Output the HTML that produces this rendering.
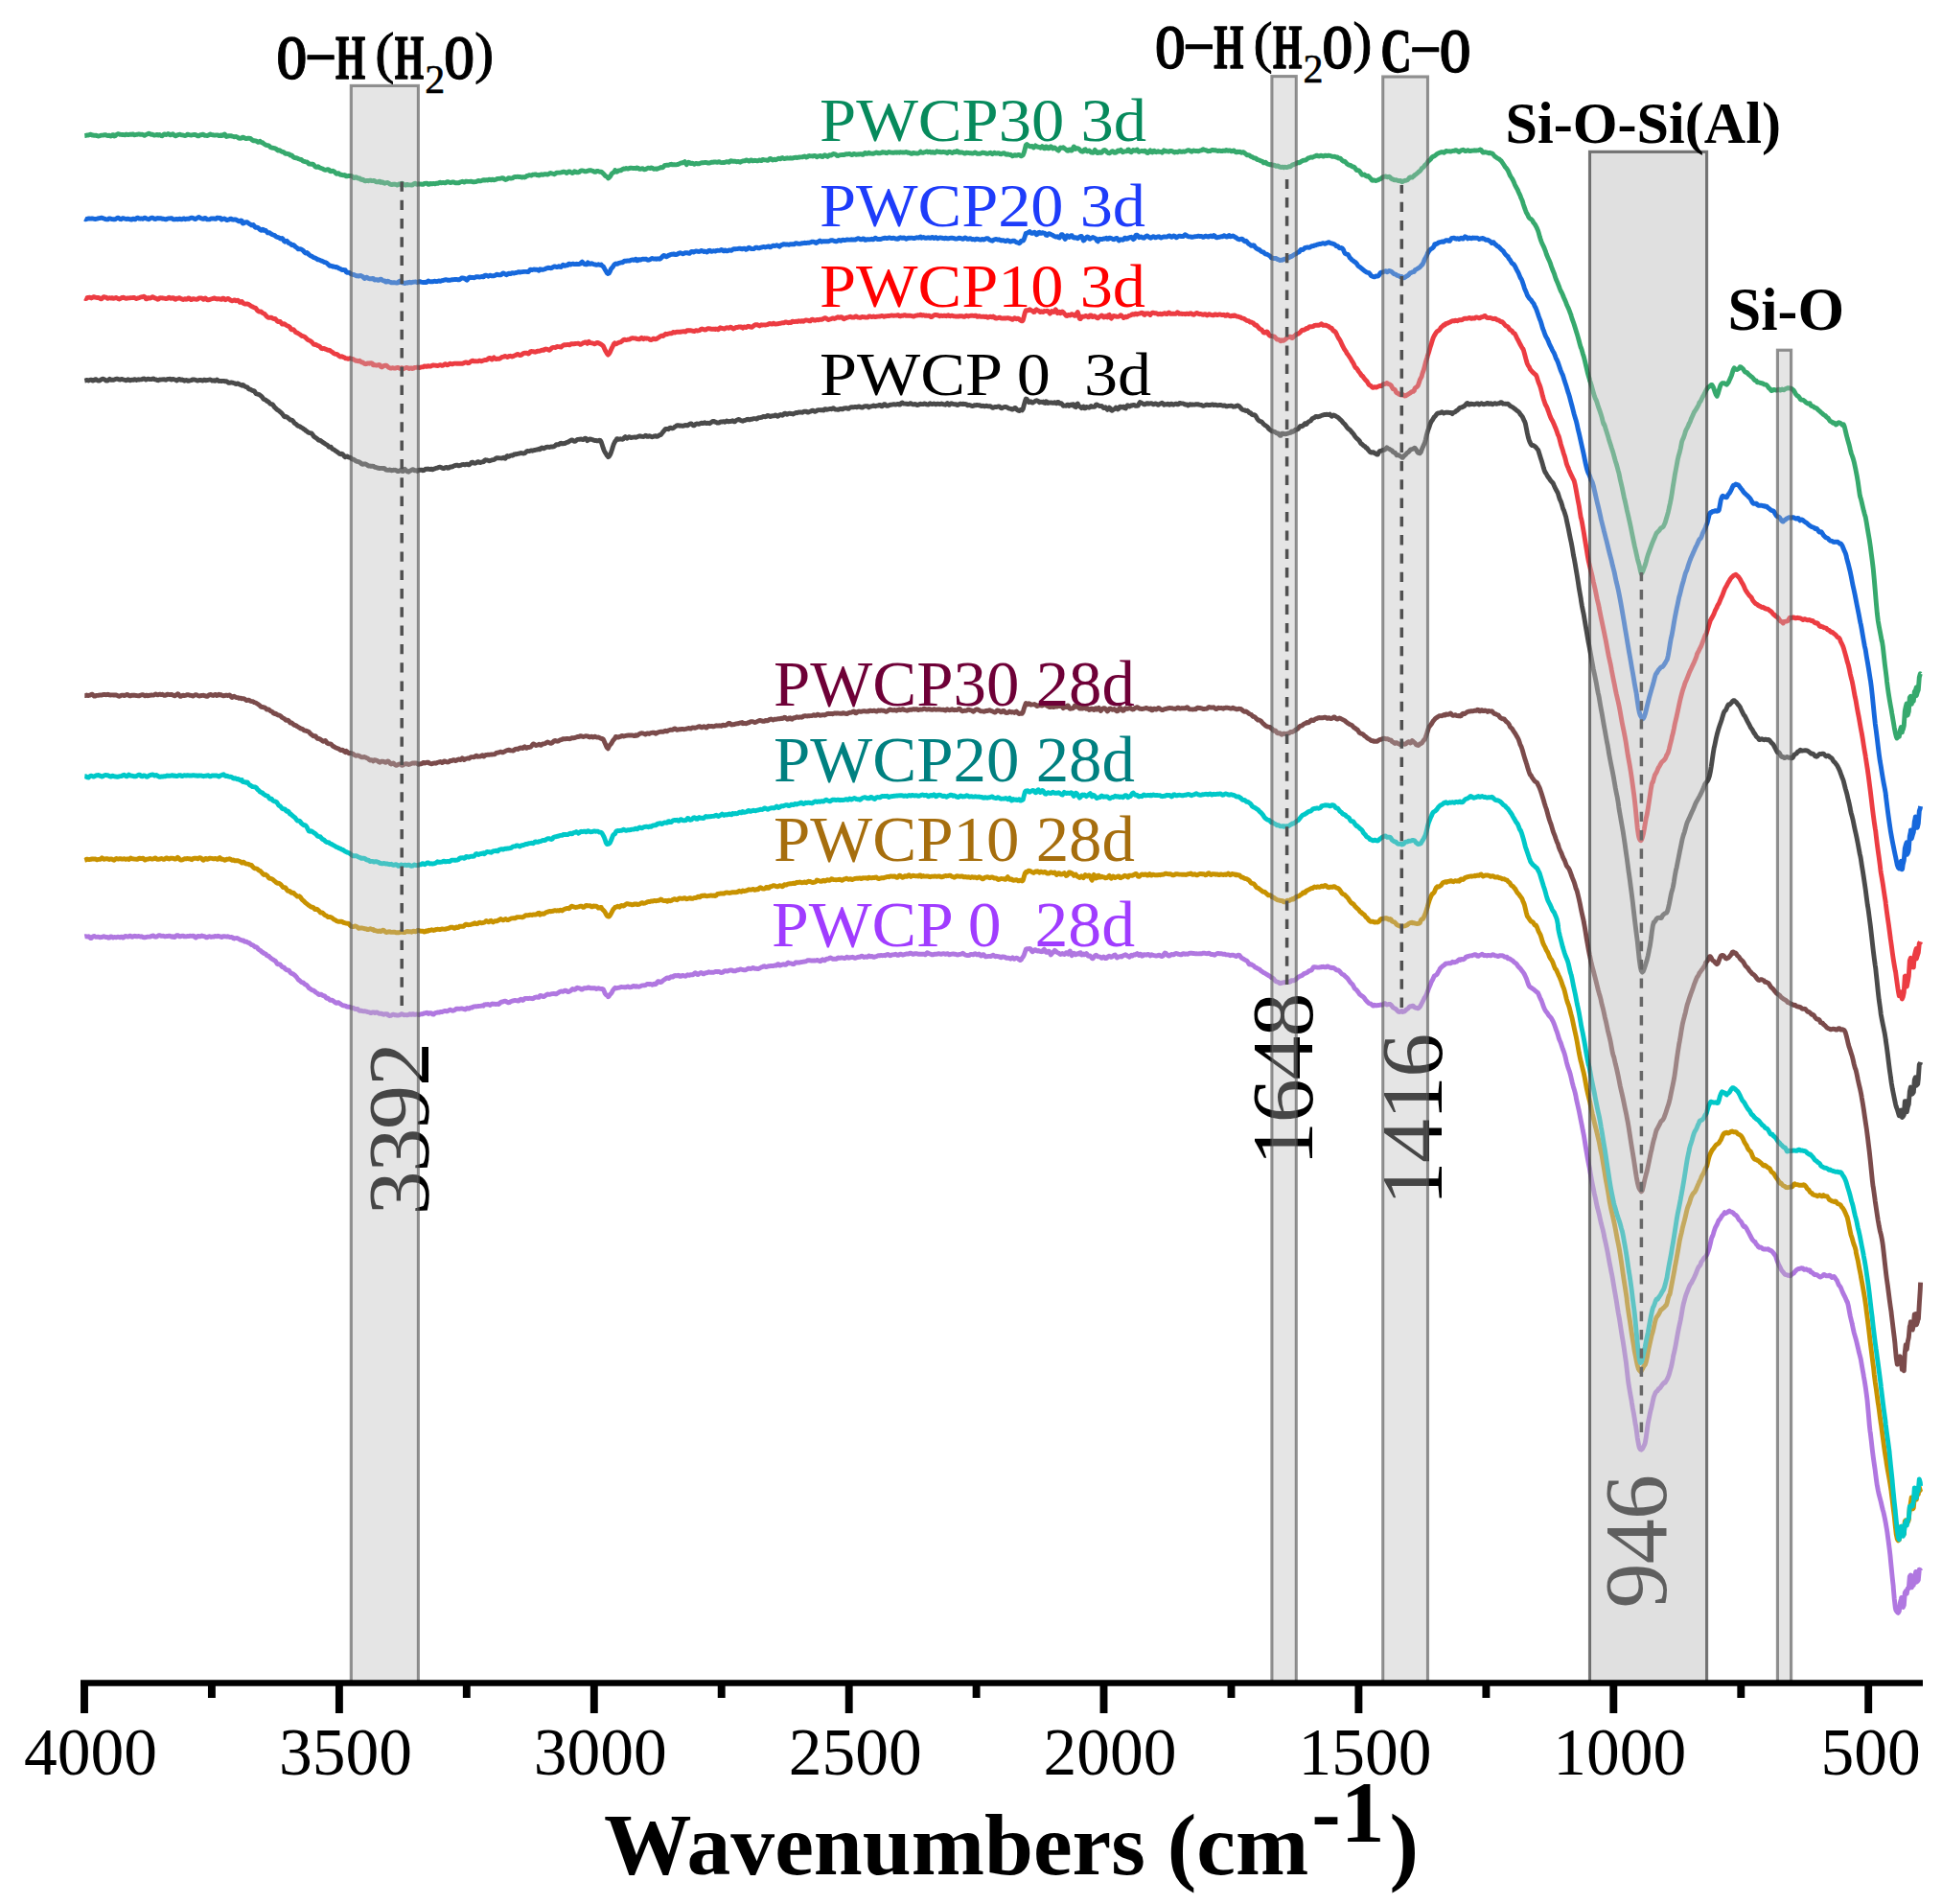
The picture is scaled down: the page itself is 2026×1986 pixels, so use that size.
<!DOCTYPE html>
<html><head><meta charset="utf-8"><title>FTIR spectra</title>
<style>html,body{margin:0;padding:0;background:#fff}svg{display:block}</style></head>
<body>
<svg width="2026" height="1986" viewBox="0 0 2026 1986">
<rect width="2026" height="1986" fill="#fff"/>
<g fill="none" stroke-width="4.9" stroke-linejoin="round" stroke-linecap="butt">
<path stroke="#4a4a4a" d="M88.3 397.1 L89.3 396.9 L90.3 396.4 L91.3 396.7 L92.3 397.0 L93.3 396.6 L94.3 396.1 L95.3 396.1 L96.3 396.8 L97.3 397.1 L98.3 396.4 L99.3 395.6 L100.3 395.7 L101.3 396.6 L102.3 397.0 L103.3 397.0 L104.3 396.8 L105.3 396.1 L106.3 395.4 L107.3 395.3 L108.3 395.4 L109.3 396.1 L110.3 396.8 L111.3 397.1 L112.3 397.1 L113.3 396.1 L114.3 395.3 L115.3 396.0 L116.3 396.4 L117.3 396.2 L118.3 396.3 L119.3 396.0 L120.3 395.6 L121.3 395.2 L122.3 395.2 L123.3 395.5 L124.3 395.9 L125.3 396.1 L126.3 395.6 L127.3 395.4 L128.3 395.9 L129.3 396.1 L130.3 396.3 L131.3 396.7 L132.3 396.6 L133.3 395.8 L134.3 396.0 L135.3 396.7 L136.3 396.7 L137.3 396.1 L138.3 396.3 L139.3 396.3 L140.3 395.7 L141.3 395.9 L142.3 396.5 L143.3 396.1 L144.3 395.8 L145.3 396.0 L146.3 395.9 L147.3 395.9 L148.3 395.5 L149.3 395.1 L150.3 395.0 L151.3 395.5 L152.3 396.1 L153.3 395.6 L154.3 395.1 L155.3 395.3 L156.3 395.6 L157.3 395.6 L158.3 395.5 L159.3 395.1 L160.3 395.0 L161.3 395.7 L162.3 396.0 L163.3 396.0 L164.3 396.6 L165.3 396.7 L165.8 396.3 L166.3 396.0 L167.3 396.1 L168.3 395.9 L169.3 395.9 L170.3 395.8 L171.3 395.6 L172.3 396.1 L173.3 396.2 L174.3 395.6 L175.3 395.4 L176.3 395.4 L177.3 395.3 L178.3 395.8 L179.3 396.0 L180.3 395.4 L181.3 395.7 L182.3 395.9 L183.3 396.3 L184.3 397.0 L185.3 396.6 L186.3 395.6 L187.3 395.4 L188.3 396.2 L189.3 396.2 L190.3 396.0 L191.3 396.6 L192.3 397.2 L193.3 396.9 L194.3 396.4 L195.3 396.8 L196.3 397.4 L197.3 397.1 L198.3 396.9 L199.3 396.7 L200.3 396.2 L201.3 395.9 L202.3 396.0 L203.3 396.2 L204.3 396.4 L205.3 396.9 L206.3 397.1 L207.3 396.6 L208.3 396.4 L209.3 396.5 L210.3 396.7 L211.3 397.1 L212.3 396.5 L213.3 396.1 L214.3 396.8 L215.3 396.7 L216.3 396.5 L217.3 396.4 L218.3 396.2 L219.3 396.0 L220.3 396.3 L221.3 397.1 L222.3 396.9 L223.3 396.8 L224.3 397.3 L225.3 396.8 L226.3 396.1 L227.3 396.8 L228.3 397.5 L229.3 397.4 L230.3 397.4 L230.7 397.6 L231.3 397.5 L232.3 397.4 L233.3 397.4 L234.3 397.7 L235.3 397.7 L236.3 397.6 L237.3 398.4 L238.3 399.3 L239.3 399.4 L240.3 399.1 L241.3 398.9 L242.3 399.1 L243.3 399.4 L244.3 399.6 L245.3 400.2 L246.3 400.6 L247.3 400.2 L248.3 399.9 L249.3 400.6 L250.3 401.2 L251.3 401.6 L252.3 402.1 L252.3 401.7 L253.3 401.5 L254.3 402.0 L255.3 402.9 L256.3 403.5 L257.3 403.6 L258.3 404.2 L259.3 405.5 L260.3 406.0 L261.3 406.1 L262.3 406.9 L263.3 407.5 L264.3 407.5 L265.3 407.8 L266.3 409.4 L267.3 410.7 L268.3 411.1 L269.3 411.2 L270.3 411.6 L271.3 412.3 L272.3 413.0 L273.3 413.9 L274.0 414.8 L274.3 415.4 L275.3 416.4 L276.3 416.8 L277.3 417.2 L278.3 418.2 L279.3 418.7 L280.3 419.3 L281.3 420.5 L282.3 421.4 L283.3 421.6 L284.3 421.9 L285.3 423.1 L286.3 424.6 L287.3 425.5 L288.3 426.6 L289.3 427.6 L290.3 428.0 L291.3 428.7 L292.3 429.6 L293.3 430.5 L294.3 431.5 L295.3 432.7 L296.3 434.3 L297.3 434.8 L298.3 434.5 L299.3 434.9 L300.3 435.8 L301.3 436.6 L302.3 437.4 L302.8 438.0 L303.3 437.9 L304.3 438.1 L305.3 438.8 L306.3 440.1 L307.3 441.4 L308.3 442.0 L309.3 442.7 L310.3 443.8 L311.3 444.4 L312.3 444.6 L313.3 445.2 L314.3 445.9 L315.3 446.4 L316.3 447.2 L317.3 447.8 L318.3 448.4 L319.3 449.4 L320.3 450.0 L321.3 450.8 L322.3 451.4 L323.3 451.6 L324.3 451.8 L325.3 452.3 L326.3 453.5 L327.3 455.1 L328.3 456.1 L329.3 456.5 L330.3 457.2 L331.3 457.9 L331.7 458.4 L332.3 459.1 L333.3 459.3 L334.3 459.5 L335.3 460.3 L336.3 461.0 L337.3 461.7 L338.3 462.3 L339.3 463.0 L340.3 463.6 L341.3 464.1 L342.3 465.2 L343.3 466.3 L344.3 466.2 L345.3 466.3 L346.3 467.8 L347.3 468.7 L348.3 468.9 L349.3 469.7 L350.3 470.4 L351.3 471.0 L352.3 471.8 L353.3 472.5 L354.3 473.4 L355.3 473.7 L356.3 473.3 L357.3 473.6 L358.3 474.7 L359.3 476.0 L360.3 476.8 L360.5 476.6 L361.3 476.1 L362.3 476.0 L363.3 476.8 L364.3 477.0 L365.3 477.1 L366.3 478.0 L367.3 478.8 L368.3 479.1 L369.3 479.4 L370.3 480.1 L371.3 481.0 L372.3 481.3 L373.3 481.4 L374.3 481.8 L375.3 482.3 L376.3 482.9 L377.3 483.9 L378.3 484.3 L379.3 484.0 L380.3 483.9 L381.3 484.0 L382.3 484.4 L383.3 485.3 L384.3 486.0 L385.3 485.9 L386.3 486.2 L387.3 486.2 L388.3 486.1 L389.3 486.2 L389.3 486.1 L390.3 486.8 L391.3 487.4 L392.3 487.5 L393.3 487.8 L394.3 488.2 L395.3 488.3 L396.3 488.5 L397.3 488.4 L398.3 488.4 L399.3 488.6 L400.3 488.5 L401.3 488.7 L402.3 489.7 L403.3 490.2 L404.3 490.4 L405.3 490.4 L406.3 490.0 L407.3 490.1 L408.3 490.8 L409.3 490.6 L410.3 490.3 L411.3 490.4 L412.3 490.3 L413.3 490.6 L414.3 491.3 L415.3 491.6 L416.3 491.3 L417.3 490.8 L418.3 490.7 L419.3 491.0 L419.3 491.3 L420.3 491.6 L421.3 490.4 L422.3 489.3 L423.3 490.2 L424.3 491.3 L425.3 491.9 L426.3 492.2 L427.3 491.4 L428.3 490.8 L429.3 490.4 L430.3 489.6 L431.3 489.9 L432.3 490.8 L433.3 490.8 L434.3 490.8 L435.3 491.3 L436.3 490.7 L437.3 490.1 L438.3 490.3 L439.3 490.1 L440.3 490.2 L441.3 490.7 L442.3 490.5 L443.3 489.8 L444.3 489.1 L445.3 489.1 L446.3 489.4 L447.0 489.1 L447.3 489.2 L448.3 489.6 L449.3 489.3 L450.3 489.3 L451.3 489.8 L452.3 489.3 L453.3 488.9 L454.3 488.6 L455.3 488.2 L456.3 488.1 L457.3 487.6 L458.3 487.2 L459.3 487.3 L460.3 487.6 L461.3 488.2 L462.3 488.6 L463.3 488.5 L464.3 487.8 L465.3 487.4 L466.3 487.7 L467.3 488.2 L468.3 488.0 L469.3 487.2 L470.3 486.9 L471.3 487.1 L472.3 486.7 L473.3 486.0 L474.3 485.7 L475.3 485.5 L476.3 485.2 L477.3 485.3 L478.3 485.7 L479.3 485.7 L480.3 485.4 L481.3 485.0 L482.3 484.6 L483.3 484.5 L484.3 484.7 L485.3 484.7 L486.3 484.3 L487.3 484.1 L488.3 484.8 L489.3 484.8 L490.3 484.0 L491.3 483.1 L492.3 482.1 L493.3 482.2 L494.3 483.0 L495.3 483.2 L496.3 483.1 L497.3 482.4 L498.3 481.6 L499.3 481.7 L500.3 482.4 L501.3 482.5 L502.3 482.1 L503.3 481.7 L504.3 481.7 L504.7 481.6 L505.3 480.5 L506.3 479.8 L507.3 479.9 L508.3 480.0 L509.3 480.3 L510.3 480.7 L511.3 480.6 L512.3 480.2 L513.3 479.8 L514.3 479.6 L515.3 479.6 L516.3 478.9 L517.3 478.0 L518.3 477.7 L519.3 477.6 L520.3 477.9 L521.3 477.9 L522.3 477.9 L523.3 478.0 L524.3 477.7 L525.3 477.3 L526.3 478.1 L527.3 478.2 L528.3 476.2 L529.3 475.5 L530.3 476.3 L531.3 476.1 L532.3 475.3 L533.3 475.0 L534.3 475.2 L535.3 474.9 L536.3 474.0 L537.3 473.8 L538.3 473.8 L539.3 473.5 L540.3 473.4 L541.3 473.2 L542.3 472.8 L543.3 472.5 L544.3 472.6 L545.3 472.9 L546.3 473.0 L547.3 472.7 L548.3 472.0 L549.3 471.0 L550.3 470.5 L551.3 470.6 L552.3 470.6 L553.3 470.2 L554.3 470.0 L555.3 470.2 L556.3 469.9 L557.3 469.5 L558.3 469.5 L559.3 469.2 L560.3 469.0 L561.3 468.7 L562.3 468.3 L562.4 468.7 L563.3 468.8 L564.3 467.7 L565.3 466.9 L566.3 467.4 L567.3 467.8 L568.3 467.3 L569.3 466.8 L570.3 466.3 L571.3 466.1 L572.3 466.4 L573.3 466.5 L574.3 466.2 L575.3 465.9 L576.3 466.1 L577.3 465.9 L578.3 465.5 L579.3 464.8 L580.3 463.7 L581.3 463.7 L582.3 463.9 L583.3 463.5 L584.3 462.6 L585.3 462.2 L586.3 462.7 L587.3 462.8 L588.3 462.5 L589.3 462.5 L590.3 462.0 L591.3 461.4 L592.3 461.3 L593.3 460.8 L594.3 460.1 L595.3 459.4 L596.3 458.9 L597.3 459.2 L598.3 459.8 L599.3 460.4 L600.3 460.1 L601.3 459.2 L602.3 458.5 L603.3 458.4 L604.3 458.3 L605.3 458.2 L606.3 458.0 L607.3 458.4 L608.3 458.6 L609.3 458.0 L610.3 457.2 L611.3 457.4 L612.3 458.8 L612.8 459.7 L613.3 459.3 L614.3 458.4 L615.3 457.9 L616.3 458.1 L617.3 458.4 L618.3 458.6 L619.3 459.2 L620.3 459.5 L621.3 459.4 L622.3 459.7 L623.3 459.7 L624.3 459.6 L625.3 459.7 L625.5 459.3 L626.3 459.5 L627.3 461.3 L628.3 464.2 L629.3 467.4 L630.3 470.1 L631.3 471.9 L632.3 473.5 L633.3 475.1 L634.3 476.2 L634.5 476.6 L635.3 476.1 L636.3 474.6 L637.3 472.5 L638.3 469.5 L639.3 466.2 L640.3 463.3 L641.3 461.2 L642.3 459.7 L643.3 458.4 L643.5 457.7 L644.3 457.8 L645.3 458.3 L646.3 458.1 L647.3 457.8 L648.3 458.1 L649.3 458.2 L650.3 457.7 L651.3 456.4 L652.3 455.6 L653.3 456.5 L654.3 457.2 L655.3 456.3 L656.3 455.7 L657.3 456.0 L658.3 456.5 L659.3 456.3 L660.3 456.1 L661.3 456.1 L662.3 455.9 L663.3 456.1 L663.3 456.4 L664.3 455.9 L665.3 455.5 L666.3 455.2 L667.3 454.8 L668.3 455.0 L669.3 455.3 L670.3 455.4 L671.3 455.5 L672.3 455.2 L673.3 454.3 L674.3 454.5 L675.3 455.4 L676.3 455.3 L677.3 454.8 L678.3 454.9 L679.3 455.4 L680.3 455.8 L681.3 455.4 L682.3 455.0 L683.3 454.8 L684.3 454.7 L684.9 455.0 L685.3 455.4 L686.3 455.2 L687.3 454.3 L688.3 453.7 L689.3 453.5 L690.3 452.5 L691.3 451.0 L692.3 449.9 L693.3 448.6 L694.3 447.5 L695.3 447.5 L696.3 447.4 L697.3 447.5 L697.3 447.7 L698.3 446.7 L699.3 446.1 L700.3 446.5 L701.3 446.8 L702.3 446.6 L703.3 445.8 L704.3 445.1 L705.3 444.4 L706.3 443.6 L707.3 443.6 L708.3 444.0 L709.3 444.2 L710.3 444.0 L711.3 444.1 L712.3 444.4 L713.3 444.2 L714.3 443.6 L715.3 443.4 L716.3 443.8 L717.3 443.8 L718.3 443.2 L719.3 442.4 L720.3 441.9 L721.3 442.0 L722.3 442.8 L723.3 443.9 L724.3 443.8 L725.3 442.8 L726.3 442.1 L727.3 441.9 L728.3 442.3 L729.3 442.4 L730.3 441.9 L731.3 441.3 L732.3 441.3 L733.3 441.6 L734.3 441.1 L735.3 440.7 L736.3 441.4 L737.3 441.6 L738.3 441.2 L739.3 441.5 L740.3 441.7 L741.3 441.0 L742.3 440.3 L743.3 439.7 L744.3 439.4 L745.3 439.7 L746.3 440.2 L747.3 440.5 L748.3 441.0 L749.3 441.1 L750.3 440.8 L751.3 440.2 L752.3 440.0 L753.3 440.1 L754.3 439.7 L755.3 439.7 L756.3 440.2 L757.3 439.5 L758.3 438.9 L759.3 439.6 L760.3 439.8 L761.3 439.4 L762.3 439.5 L763.3 439.2 L764.3 438.8 L765.3 439.5 L766.3 439.9 L767.3 439.2 L768.3 438.4 L769.3 437.9 L770.3 437.5 L771.3 437.7 L772.3 438.3 L773.3 438.7 L774.3 439.1 L774.8 439.2 L775.3 439.0 L776.3 438.6 L777.3 438.3 L778.3 438.0 L779.3 437.5 L780.3 437.3 L781.3 437.7 L782.3 437.7 L783.3 437.3 L784.3 437.3 L785.3 437.0 L786.3 436.6 L787.3 436.6 L788.3 436.6 L789.3 437.1 L790.3 436.6 L791.3 435.6 L792.3 435.6 L793.3 435.6 L794.3 435.4 L795.3 435.0 L796.3 434.4 L797.3 434.4 L798.3 434.8 L799.3 434.4 L800.3 433.7 L801.3 433.4 L802.3 433.8 L803.3 434.5 L804.3 434.4 L805.3 433.8 L806.3 433.9 L807.3 433.9 L808.3 433.1 L809.3 432.9 L810.3 433.7 L811.3 434.2 L812.3 433.7 L813.3 432.8 L814.3 432.5 L815.3 432.9 L816.3 433.3 L817.3 432.6 L818.3 431.3 L819.3 431.1 L820.3 432.0 L821.3 432.3 L822.3 431.6 L823.3 431.2 L824.3 431.3 L825.3 431.5 L826.3 431.7 L827.3 432.0 L828.3 431.6 L829.3 430.9 L830.3 430.5 L831.3 430.7 L832.3 430.4 L833.3 429.9 L834.3 430.1 L835.3 430.0 L836.3 430.1 L837.3 430.2 L838.3 429.4 L839.3 429.2 L840.3 429.2 L841.3 429.2 L842.3 430.0 L843.3 430.1 L844.3 429.6 L845.3 429.2 L846.3 428.7 L847.3 428.2 L848.3 428.3 L849.3 429.0 L850.3 429.3 L851.3 428.8 L852.3 428.5 L852.3 428.1 L853.3 427.7 L854.3 427.6 L855.3 427.6 L856.3 427.8 L857.3 427.6 L858.3 427.9 L859.3 428.0 L860.3 426.9 L861.3 426.6 L862.3 427.3 L863.3 427.1 L864.3 426.9 L865.3 426.7 L866.3 426.5 L867.3 426.7 L868.3 426.2 L869.3 425.7 L870.3 426.3 L871.3 427.0 L872.3 427.1 L873.3 427.1 L874.3 427.4 L875.3 427.1 L876.3 426.4 L877.3 426.5 L878.3 426.8 L879.3 426.7 L880.3 426.0 L881.3 425.8 L882.3 425.6 L883.3 425.6 L884.3 426.3 L885.3 426.4 L886.3 425.5 L887.3 424.9 L888.3 424.7 L889.3 424.6 L890.3 424.9 L891.3 424.7 L892.3 424.4 L893.3 424.7 L894.3 424.7 L895.3 424.1 L896.3 423.9 L897.3 424.3 L898.3 424.9 L899.3 425.1 L900.3 424.8 L901.3 424.1 L902.3 423.7 L903.3 423.7 L904.3 423.7 L905.3 423.8 L906.3 424.5 L906.4 424.9 L907.3 424.4 L908.3 423.9 L909.3 423.9 L910.3 423.4 L911.3 423.0 L912.3 423.5 L913.3 423.7 L914.3 423.3 L915.3 423.1 L916.3 423.0 L917.3 422.4 L918.3 422.4 L919.3 423.6 L920.3 423.8 L921.3 422.8 L922.3 421.8 L923.3 421.7 L924.3 422.8 L925.3 423.4 L926.3 423.4 L927.3 422.9 L928.3 422.2 L929.3 422.2 L930.3 422.1 L931.3 421.9 L932.3 421.8 L933.3 421.8 L934.3 422.0 L935.3 421.9 L936.3 421.4 L937.3 421.5 L938.3 422.1 L939.3 421.8 L940.3 420.5 L941.3 420.0 L942.3 420.8 L943.3 421.1 L944.3 421.1 L945.3 421.2 L946.3 421.3 L947.3 421.6 L948.3 421.4 L949.3 420.8 L950.3 420.7 L951.3 421.4 L952.3 421.9 L953.3 421.9 L954.3 421.5 L955.3 421.6 L956.3 422.3 L957.3 422.5 L958.3 422.2 L959.3 421.6 L960.3 421.2 L960.5 421.3 L961.3 421.6 L962.3 421.6 L963.3 421.5 L964.3 421.0 L965.3 421.1 L966.3 421.8 L967.3 421.9 L968.3 422.1 L969.3 421.5 L970.3 420.8 L971.3 421.2 L972.3 421.6 L973.3 421.4 L974.3 421.0 L975.3 421.3 L976.3 421.8 L977.3 421.5 L978.3 421.2 L979.3 421.4 L980.3 421.7 L981.3 421.4 L982.3 421.0 L983.3 421.4 L984.3 421.8 L985.3 421.9 L986.3 422.2 L987.3 421.4 L988.3 420.5 L989.3 421.5 L990.3 422.3 L991.3 421.5 L992.3 420.8 L993.3 421.0 L994.3 421.4 L995.3 421.6 L996.3 421.7 L997.3 421.8 L998.3 422.3 L999.3 422.5 L1000.3 421.9 L1001.3 421.3 L1002.3 421.2 L1003.3 421.5 L1004.3 421.3 L1005.3 421.3 L1006.3 421.6 L1007.3 421.4 L1008.3 421.8 L1009.3 422.8 L1010.3 422.6 L1011.3 422.4 L1012.3 422.8 L1013.3 423.2 L1014.3 423.6 L1015.3 423.4 L1016.3 422.8 L1017.3 422.7 L1018.3 422.7 L1019.3 422.4 L1020.3 422.6 L1021.3 422.7 L1022.3 422.7 L1023.3 423.4 L1024.3 423.6 L1025.3 423.2 L1026.3 423.6 L1027.3 423.8 L1028.3 423.4 L1029.3 423.3 L1030.3 423.6 L1031.3 423.8 L1032.3 423.8 L1033.3 423.7 L1034.3 424.4 L1035.3 425.3 L1036.3 425.3 L1037.3 424.6 L1038.3 424.4 L1039.3 424.5 L1040.3 424.3 L1041.3 424.0 L1042.3 423.9 L1043.3 424.5 L1044.3 425.6 L1045.3 425.8 L1046.3 425.1 L1047.3 424.6 L1048.3 424.5 L1049.3 424.5 L1050.3 424.6 L1051.3 425.4 L1052.3 426.0 L1053.3 426.1 L1054.3 426.3 L1055.3 426.8 L1056.3 427.1 L1057.3 426.6 L1058.3 425.7 L1059.3 425.5 L1060.3 426.5 L1061.3 427.6 L1062.3 428.2 L1063.3 428.6 L1064.3 427.8 L1065.3 427.3 L1066.3 427.9 L1067.3 426.4 L1068.3 422.4 L1069.3 418.9 L1070.3 416.0 L1071.3 416.3 L1072.3 418.2 L1073.3 419.6 L1074.3 419.0 L1075.3 418.8 L1076.3 419.9 L1077.3 420.1 L1078.3 419.5 L1079.3 418.9 L1080.3 418.1 L1081.3 417.8 L1082.3 417.9 L1083.3 418.6 L1084.3 419.7 L1085.3 419.2 L1086.3 419.2 L1087.3 419.6 L1088.3 419.0 L1089.3 420.1 L1090.3 420.4 L1091.3 418.8 L1092.3 419.3 L1093.3 420.5 L1094.3 420.2 L1095.3 420.0 L1096.3 419.9 L1097.3 420.0 L1098.3 420.4 L1099.3 420.3 L1100.3 419.7 L1101.3 420.2 L1102.3 420.7 L1103.3 419.5 L1104.3 419.5 L1105.3 420.8 L1106.3 421.0 L1107.3 420.7 L1108.3 421.9 L1109.3 423.3 L1110.3 423.1 L1111.3 423.1 L1112.3 423.3 L1113.3 422.2 L1114.3 422.3 L1115.3 423.3 L1116.3 422.3 L1117.3 422.0 L1118.3 422.8 L1119.3 421.7 L1120.3 421.9 L1121.3 424.2 L1122.3 424.6 L1123.3 422.0 L1124.3 421.0 L1125.3 423.0 L1126.3 424.1 L1127.3 424.5 L1128.3 425.6 L1129.3 424.8 L1130.3 424.1 L1131.3 425.9 L1132.3 425.9 L1133.3 424.5 L1134.3 424.7 L1135.3 425.0 L1136.3 425.2 L1137.3 424.6 L1138.3 423.5 L1139.3 424.2 L1140.3 424.4 L1141.3 424.4 L1142.3 424.0 L1143.3 422.2 L1144.3 422.0 L1145.3 422.7 L1146.3 423.0 L1147.3 423.6 L1148.3 423.6 L1149.3 423.5 L1150.3 424.3 L1151.3 425.6 L1152.3 425.6 L1153.3 424.8 L1154.3 425.9 L1155.3 427.3 L1156.3 426.5 L1157.3 425.2 L1158.3 426.0 L1159.3 428.0 L1160.3 428.3 L1161.3 427.3 L1162.3 426.8 L1163.3 426.4 L1164.3 425.1 L1165.3 425.6 L1166.3 426.9 L1167.3 425.9 L1168.3 424.2 L1169.3 424.3 L1170.3 424.9 L1171.3 424.3 L1172.3 424.1 L1173.3 425.7 L1174.3 426.0 L1175.3 424.1 L1176.3 422.8 L1176.8 422.9 L1177.3 423.3 L1178.3 424.0 L1179.3 423.5 L1180.3 422.8 L1181.3 423.0 L1182.3 422.4 L1183.3 422.4 L1184.3 423.3 L1185.3 423.1 L1186.3 423.2 L1187.3 423.1 L1188.3 421.1 L1189.3 419.5 L1190.3 419.9 L1191.3 420.5 L1192.3 421.1 L1193.3 421.7 L1194.3 421.8 L1195.3 421.5 L1196.3 420.6 L1197.3 420.7 L1198.3 421.2 L1199.3 421.0 L1200.0 420.9 L1200.3 420.7 L1201.3 420.7 L1202.3 421.2 L1203.3 421.8 L1204.3 421.5 L1205.3 420.9 L1206.3 421.1 L1207.3 422.0 L1208.3 422.3 L1209.3 421.7 L1210.3 421.1 L1211.3 420.8 L1212.3 420.3 L1213.3 421.0 L1214.3 422.2 L1215.3 421.7 L1216.3 421.6 L1217.3 421.7 L1218.3 421.2 L1219.3 421.7 L1220.3 422.2 L1221.3 421.3 L1222.3 421.1 L1223.3 422.0 L1224.3 422.2 L1225.3 421.6 L1226.3 421.1 L1227.3 421.2 L1228.3 421.7 L1229.3 421.7 L1230.3 420.7 L1231.3 420.4 L1232.3 420.9 L1233.3 420.9 L1234.3 420.9 L1235.3 421.4 L1236.3 422.1 L1237.3 421.9 L1238.3 422.0 L1239.3 422.9 L1240.3 422.5 L1241.3 421.7 L1242.3 422.0 L1243.3 422.2 L1244.3 422.0 L1245.3 422.1 L1246.3 422.0 L1247.3 421.8 L1248.3 421.7 L1249.3 421.6 L1250.3 422.0 L1251.3 422.2 L1252.3 422.4 L1253.3 422.5 L1254.3 423.0 L1255.3 423.3 L1256.3 423.1 L1257.3 422.7 L1258.3 422.2 L1259.3 422.2 L1260.3 422.5 L1261.3 422.5 L1262.3 422.5 L1263.3 422.3 L1264.3 421.9 L1265.3 422.0 L1266.3 422.5 L1267.3 422.4 L1268.3 422.1 L1269.3 422.6 L1270.3 422.8 L1271.3 422.6 L1272.3 422.5 L1273.3 422.5 L1274.3 422.7 L1275.3 423.1 L1276.3 423.2 L1277.3 423.0 L1278.3 423.2 L1279.3 423.7 L1280.3 423.8 L1281.3 423.4 L1282.3 423.4 L1283.3 423.4 L1284.3 423.2 L1285.3 423.4 L1286.3 423.8 L1286.7 424.2 L1287.3 424.1 L1288.3 424.0 L1289.3 423.8 L1290.3 423.1 L1291.3 423.0 L1292.3 423.4 L1293.3 424.3 L1294.3 425.4 L1295.3 426.6 L1296.3 427.4 L1297.3 427.6 L1298.3 427.8 L1299.3 428.3 L1300.3 428.5 L1301.3 428.3 L1302.3 429.1 L1303.3 430.5 L1304.3 430.4 L1305.0 430.9 L1305.3 431.7 L1306.3 432.4 L1307.3 432.8 L1308.3 432.7 L1309.3 433.0 L1310.3 434.3 L1311.3 436.2 L1312.3 437.8 L1313.3 438.7 L1314.3 439.3 L1315.3 439.7 L1316.3 440.0 L1317.3 441.2 L1318.3 442.4 L1319.3 443.2 L1320.3 443.9 L1321.3 444.5 L1322.3 445.4 L1323.3 446.4 L1323.4 446.9 L1324.3 447.8 L1325.3 448.6 L1326.3 449.3 L1327.3 449.8 L1328.3 450.0 L1329.3 450.1 L1330.3 450.6 L1331.3 451.5 L1332.3 451.9 L1333.3 452.0 L1334.3 453.1 L1335.3 454.3 L1336.3 454.2 L1336.6 453.2 L1337.3 452.1 L1338.3 452.1 L1339.3 452.5 L1340.3 452.7 L1341.3 452.7 L1342.3 452.5 L1343.3 452.2 L1344.3 451.8 L1345.3 451.4 L1346.3 451.4 L1347.1 451.0 L1347.3 450.0 L1348.3 450.0 L1349.3 450.3 L1350.3 449.4 L1351.3 448.2 L1352.3 448.1 L1353.3 448.0 L1354.3 447.4 L1355.3 446.1 L1356.3 444.7 L1357.3 444.5 L1358.3 444.7 L1359.3 444.1 L1360.3 443.0 L1361.3 441.8 L1362.3 441.7 L1362.8 442.5 L1363.3 442.0 L1364.3 440.6 L1365.3 439.8 L1366.3 439.4 L1367.3 438.9 L1368.3 437.6 L1369.3 436.4 L1370.3 436.0 L1371.3 435.6 L1372.3 434.7 L1373.3 434.4 L1374.3 434.7 L1375.3 434.7 L1376.3 434.4 L1377.3 434.1 L1378.3 433.6 L1379.3 433.1 L1380.3 433.0 L1381.3 432.7 L1382.3 432.4 L1383.3 432.5 L1383.8 432.3 L1384.3 432.2 L1385.3 432.6 L1386.3 432.6 L1387.3 432.1 L1388.3 433.3 L1389.3 434.3 L1390.3 433.5 L1391.3 433.0 L1392.3 433.3 L1393.3 433.9 L1394.3 434.5 L1394.3 434.5 L1395.3 435.1 L1396.3 435.8 L1397.3 436.8 L1398.3 437.8 L1399.3 438.5 L1400.3 439.8 L1401.3 441.1 L1402.3 441.9 L1403.3 443.0 L1404.3 444.3 L1405.3 445.8 L1406.3 447.1 L1407.3 447.7 L1408.3 448.5 L1409.3 449.5 L1410.1 450.5 L1410.3 450.9 L1411.3 451.8 L1412.3 453.2 L1413.3 454.7 L1414.3 456.0 L1415.3 457.2 L1416.3 458.0 L1417.3 458.9 L1418.3 460.0 L1419.3 461.9 L1420.3 462.9 L1421.3 463.6 L1422.3 464.7 L1423.3 465.3 L1424.3 465.9 L1425.3 467.2 L1425.8 467.4 L1426.3 467.6 L1427.3 469.1 L1428.3 470.3 L1429.3 471.4 L1430.3 472.1 L1431.3 472.0 L1432.3 471.7 L1433.3 471.9 L1433.7 472.6 L1434.3 472.9 L1435.3 473.0 L1436.3 474.1 L1437.3 474.1 L1438.3 472.2 L1439.3 470.6 L1440.3 470.3 L1441.3 470.1 L1442.3 469.5 L1443.3 469.4 L1444.3 469.3 L1445.3 468.6 L1446.3 467.5 L1446.8 466.8 L1447.3 467.3 L1448.3 467.9 L1449.3 468.3 L1450.3 469.0 L1451.3 469.4 L1452.3 470.1 L1453.3 471.4 L1454.3 472.0 L1455.3 472.2 L1456.3 473.6 L1457.3 474.9 L1458.3 474.8 L1459.3 474.7 L1460.3 475.4 L1461.3 476.2 L1462.3 476.4 L1462.6 477.2 L1463.3 477.4 L1464.3 476.1 L1465.3 475.0 L1466.3 474.3 L1467.3 473.2 L1468.3 472.1 L1469.3 471.6 L1470.3 470.6 L1471.3 469.3 L1472.3 468.6 L1473.3 468.5 L1474.3 468.2 L1475.3 467.6 L1475.7 467.2 L1476.3 467.5 L1477.3 468.7 L1478.3 470.6 L1479.3 472.2 L1480.3 472.6 L1481.0 472.4 L1481.3 472.7 L1482.3 471.6 L1483.3 468.9 L1484.3 466.4 L1485.3 464.2 L1486.2 462.3 L1486.3 462.3 L1487.3 458.6 L1488.3 454.0 L1489.3 450.3 L1490.3 447.3 L1491.3 444.6 L1491.5 444.0 L1492.3 441.6 L1493.3 439.5 L1494.3 438.2 L1495.3 436.5 L1496.3 434.9 L1497.3 434.1 L1498.3 432.8 L1499.3 431.5 L1500.3 431.0 L1501.3 430.9 L1502.0 430.8 L1502.3 430.6 L1503.3 430.3 L1504.3 429.8 L1505.3 430.2 L1506.3 431.0 L1507.3 430.6 L1508.3 430.1 L1509.3 430.3 L1510.3 430.2 L1511.3 430.2 L1512.3 430.6 L1513.3 430.4 L1514.3 430.7 L1515.1 431.6 L1515.3 431.4 L1516.3 430.3 L1517.3 430.0 L1518.3 429.5 L1519.3 428.5 L1520.3 428.0 L1521.3 427.2 L1522.3 425.9 L1523.3 425.1 L1524.3 425.0 L1525.3 424.8 L1526.3 424.3 L1527.3 423.8 L1528.3 423.0 L1529.3 421.8 L1530.3 420.8 L1530.9 420.5 L1531.3 421.4 L1532.3 422.1 L1533.3 421.8 L1534.3 421.2 L1535.3 421.3 L1536.3 421.5 L1537.3 421.7 L1538.3 421.8 L1539.3 421.4 L1540.3 421.0 L1541.3 420.9 L1541.8 421.0 L1542.3 421.5 L1543.3 422.0 L1544.3 421.4 L1545.3 420.7 L1546.3 421.0 L1547.3 421.6 L1548.3 421.7 L1549.3 421.4 L1550.3 421.3 L1551.3 420.4 L1552.3 420.4 L1553.3 421.4 L1554.3 421.1 L1555.3 420.7 L1556.3 421.5 L1557.3 421.8 L1558.3 421.1 L1559.3 420.6 L1560.3 421.0 L1561.3 421.3 L1562.3 421.0 L1563.3 420.9 L1564.3 420.8 L1565.3 419.9 L1566.3 419.6 L1567.3 420.6 L1568.0 421.2 L1568.3 421.1 L1569.3 421.1 L1570.3 421.2 L1571.3 421.4 L1572.3 421.3 L1573.3 421.3 L1574.3 422.2 L1575.3 423.2 L1576.3 423.9 L1577.3 424.4 L1578.3 424.9 L1579.3 425.7 L1580.3 426.4 L1581.1 427.0 L1581.3 427.2 L1582.3 428.1 L1583.3 428.9 L1584.3 429.5 L1585.3 430.7 L1586.3 432.4 L1587.3 433.5 L1588.3 434.7 L1589.3 437.0 L1590.3 439.3 L1590.3 438.8 L1591.3 441.6 L1592.3 446.4 L1593.3 451.5 L1594.3 456.0 L1595.3 459.4 L1595.6 460.0 L1596.3 461.7 L1597.3 463.7 L1598.3 464.5 L1599.3 464.5 L1600.3 465.0 L1601.3 465.6 L1602.3 466.5 L1603.3 467.8 L1604.3 469.0 L1604.8 469.6 L1605.3 471.3 L1606.3 474.5 L1607.3 477.7 L1608.3 480.7 L1609.3 484.1 L1610.3 487.8 L1611.3 491.1 L1612.3 493.3 L1612.7 493.3 L1613.3 494.5 L1614.3 496.4 L1615.3 497.9 L1616.3 499.1 L1617.3 500.7 L1618.3 502.0 L1619.3 503.0 L1620.3 504.1 L1620.5 504.6 L1621.3 506.5 L1622.3 508.7 L1623.3 510.8 L1624.3 512.5 L1625.3 514.4 L1626.3 517.7 L1627.3 520.9 L1628.3 522.9 L1629.3 525.8 L1630.3 529.4 L1631.0 531.6 L1631.3 531.9 L1632.3 534.8 L1633.3 538.0 L1633.7 539.2 L1634.3 542.4 L1635.3 546.9 L1636.3 551.5 L1637.3 556.8 L1638.3 561.8 L1639.3 566.3 L1640.3 571.7 L1641.3 577.9 L1641.5 579.3 L1642.3 582.9 L1643.3 588.5 L1644.3 594.5 L1645.3 600.4 L1646.3 606.7 L1647.3 613.3 L1648.3 619.1 L1649.3 624.9 L1649.4 626.2 L1650.3 631.4 L1651.3 636.4 L1652.3 641.3 L1653.3 647.3 L1654.3 653.4 L1655.3 659.1 L1656.3 665.2 L1657.3 670.9 L1657.3 670.5 L1658.3 675.7 L1659.3 681.4 L1660.3 687.0 L1661.3 692.5 L1662.3 697.9 L1663.3 702.5 L1664.3 707.2 L1665.3 712.2 L1666.3 718.0 L1667.3 723.3 L1667.8 725.1 L1668.3 727.8 L1669.3 733.8 L1670.3 739.5 L1671.3 744.8 L1672.3 750.7 L1673.3 756.5 L1674.3 761.9 L1675.3 767.6 L1676.3 773.1 L1677.3 778.1 L1678.3 784.0 L1678.3 784.5 L1679.3 789.9 L1680.3 795.1 L1681.3 800.1 L1682.3 805.0 L1683.3 810.2 L1684.3 816.1 L1685.3 822.0 L1686.3 827.1 L1687.3 831.8 L1688.3 837.8 L1688.8 841.8 L1689.3 845.0 L1690.3 850.6 L1691.3 856.5 L1692.3 862.1 L1693.3 867.9 L1694.3 874.5 L1695.3 881.4 L1696.3 888.6 L1697.3 895.5 L1698.3 903.0 L1699.3 910.6 L1699.3 910.3 L1700.3 917.4 L1701.3 925.1 L1702.3 932.8 L1703.3 940.8 L1704.3 949.6 L1705.3 958.4 L1706.3 966.5 L1707.2 973.7 L1707.3 974.5 L1708.3 982.3 L1709.3 992.0 L1710.3 1001.5 L1711.3 1008.6 L1712.3 1012.7 L1713.0 1013.7 L1713.3 1014.1 L1714.3 1013.1 L1715.3 1010.6 L1716.3 1007.4 L1717.3 1004.3 L1718.3 1001.0 L1719.3 996.7 L1720.3 991.8 L1720.3 991.5 L1721.3 986.8 L1722.3 980.1 L1723.3 972.2 L1724.3 965.6 L1725.3 962.0 L1725.6 962.1 L1726.3 961.4 L1727.3 959.9 L1728.3 958.2 L1729.3 957.5 L1730.3 957.3 L1731.3 957.1 L1732.3 957.6 L1733.3 957.3 L1734.3 955.3 L1735.3 954.0 L1736.3 953.3 L1737.3 952.6 L1738.3 952.1 L1738.7 952.0 L1739.3 950.9 L1740.3 947.7 L1741.3 943.3 L1742.3 938.3 L1743.3 933.0 L1744.0 930.0 L1744.3 929.3 L1745.3 925.5 L1746.3 920.2 L1747.3 913.6 L1748.3 908.2 L1749.2 904.6 L1749.3 904.1 L1750.3 898.9 L1751.3 894.0 L1752.3 888.8 L1753.3 883.9 L1754.3 878.9 L1755.3 874.3 L1756.3 870.8 L1757.1 868.6 L1757.3 868.0 L1758.3 864.4 L1759.3 860.6 L1760.3 857.6 L1761.3 855.4 L1762.3 853.4 L1763.3 851.1 L1764.3 848.8 L1765.3 846.6 L1766.3 844.4 L1767.3 842.1 L1767.6 841.3 L1768.3 839.5 L1769.3 837.2 L1770.3 835.4 L1771.3 833.7 L1772.3 831.9 L1773.3 830.1 L1774.3 828.1 L1775.3 826.0 L1776.3 823.9 L1777.3 821.5 L1778.1 819.3 L1778.3 818.8 L1779.3 817.0 L1780.3 815.8 L1781.3 814.6 L1782.3 812.7 L1783.3 809.8 L1783.4 809.4 L1784.3 805.3 L1785.3 799.3 L1786.3 792.3 L1787.3 785.3 L1788.3 779.4 L1788.6 778.6 L1789.3 775.3 L1790.3 770.2 L1791.3 766.0 L1792.3 762.4 L1793.3 759.0 L1794.3 756.0 L1795.3 753.2 L1796.3 750.3 L1796.5 749.4 L1797.3 746.7 L1798.3 743.5 L1799.3 741.6 L1800.3 740.8 L1801.3 738.8 L1802.3 736.3 L1803.0 735.2 L1803.3 735.6 L1804.3 735.1 L1805.3 734.0 L1806.3 733.0 L1807.3 731.6 L1808.3 730.7 L1809.3 730.6 L1809.6 731.1 L1810.3 731.8 L1811.3 732.4 L1812.3 733.6 L1813.3 735.1 L1814.3 736.1 L1815.3 737.5 L1816.3 739.8 L1817.3 741.9 L1818.3 743.9 L1819.3 745.8 L1820.1 746.7 L1820.3 746.8 L1821.3 748.8 L1822.3 750.8 L1823.3 752.9 L1824.3 754.7 L1825.3 756.6 L1826.3 758.8 L1827.3 760.1 L1828.3 761.5 L1829.3 763.6 L1830.3 765.3 L1830.6 765.2 L1831.3 766.4 L1832.3 768.2 L1833.3 769.1 L1834.3 769.9 L1834.6 770.6 L1835.3 771.6 L1836.3 771.6 L1837.3 770.9 L1838.3 770.8 L1839.3 771.4 L1840.3 771.7 L1841.3 771.2 L1842.3 771.1 L1843.3 771.7 L1844.3 771.6 L1845.1 771.5 L1845.3 771.8 L1846.3 772.4 L1847.3 773.8 L1848.3 775.1 L1849.3 775.8 L1850.3 777.1 L1851.3 779.0 L1852.3 780.9 L1853.3 783.0 L1854.3 784.7 L1854.3 784.4 L1855.3 784.5 L1856.3 785.3 L1857.3 787.2 L1858.3 789.1 L1859.3 789.6 L1860.3 789.5 L1860.8 790.0 L1861.3 790.5 L1862.3 790.5 L1863.3 789.9 L1864.3 789.4 L1865.3 789.9 L1866.3 790.4 L1867.3 790.3 L1867.4 790.2 L1868.3 790.3 L1869.3 790.8 L1870.3 790.3 L1871.3 788.4 L1872.3 786.8 L1873.3 786.5 L1874.3 785.9 L1875.3 784.3 L1876.3 783.7 L1877.3 783.6 L1877.9 782.6 L1878.3 782.2 L1879.3 782.9 L1880.3 783.1 L1881.3 782.9 L1882.3 782.9 L1883.3 782.7 L1884.3 782.8 L1885.3 783.0 L1885.8 783.1 L1886.3 783.5 L1887.3 784.2 L1888.3 785.1 L1889.3 786.1 L1890.3 786.3 L1891.3 786.1 L1892.3 786.9 L1893.3 788.2 L1893.6 788.7 L1894.3 788.8 L1895.3 789.2 L1896.3 788.6 L1897.3 787.3 L1898.3 786.5 L1899.3 786.6 L1900.2 786.5 L1900.3 786.3 L1901.3 786.1 L1902.3 786.1 L1903.3 787.0 L1904.3 788.2 L1905.3 788.9 L1906.3 788.4 L1907.3 788.1 L1908.3 788.9 L1909.3 790.0 L1909.4 790.2 L1910.3 790.4 L1911.3 791.3 L1912.3 793.2 L1913.3 794.5 L1914.3 795.3 L1915.3 796.7 L1916.3 798.0 L1917.3 799.5 L1917.3 799.8 L1918.3 801.7 L1919.3 803.9 L1920.3 806.7 L1921.3 809.5 L1922.3 812.1 L1922.5 812.5 L1923.3 814.8 L1924.3 818.9 L1925.3 822.9 L1926.3 826.2 L1927.3 830.2 L1928.3 834.7 L1929.3 838.7 L1930.3 843.5 L1930.4 844.5 L1931.3 848.4 L1932.3 852.0 L1933.3 856.1 L1934.3 861.2 L1935.3 865.9 L1936.3 870.2 L1937.3 875.0 L1938.3 880.1 L1939.3 885.6 L1940.3 891.0 L1940.9 893.3 L1941.3 895.7 L1942.3 902.3 L1943.3 908.4 L1944.3 914.9 L1945.3 921.6 L1946.3 928.5 L1947.3 936.4 L1948.3 944.0 L1948.8 946.7 L1949.3 950.2 L1950.3 957.7 L1951.3 965.4 L1952.3 974.0 L1953.3 983.1 L1954.3 991.7 L1955.3 999.7 L1956.3 1007.1 L1956.7 1009.6 L1957.3 1015.4 L1958.3 1024.7 L1959.3 1034.5 L1960.3 1043.2 L1961.3 1050.1 L1961.9 1054.8 L1962.3 1058.1 L1963.3 1063.5 L1964.3 1068.4 L1965.3 1073.2 L1966.3 1078.3 L1967.2 1083.9 L1967.3 1085.2 L1968.3 1091.9 L1969.3 1099.3 L1970.3 1107.6 L1971.3 1115.6 L1972.3 1122.5 L1972.4 1123.4 L1973.3 1129.8 L1974.3 1135.8 L1975.3 1140.8 L1976.3 1145.8 L1977.3 1150.4 L1977.7 1152.3 L1978.3 1154.5 L1979.3 1157.1 L1980.3 1160.5 L1981.3 1163.7 L1981.8 1159.5 L1982.3 1158.9 L1983.3 1158.0 L1984.3 1165.5 L1985.3 1164.7 L1986.3 1162.8 L1987.3 1148.6 L1988.3 1148.7 L1989.1 1151.0 L1989.3 1159.9 L1990.3 1154.8 L1991.3 1151.7 L1992.3 1138.6 L1993.3 1134.1 L1994.3 1141.4 L1994.9 1141.1 L1995.3 1140.8 L1996.3 1139.2 L1997.3 1126.4 L1998.3 1123.7 L1999.3 1132.2 L2000.3 1131.3 L2000.7 1130.6 L2001.3 1125.4 L2002.3 1110.4 L2003.3 1109.0 L2003.6 1107.9"/>
<path stroke="#ec3c42" d="M88.3 311.0 L89.3 311.5 L90.3 311.3 L91.3 310.5 L92.3 310.4 L93.3 310.3 L94.3 310.4 L95.3 311.0 L96.3 310.4 L97.3 309.8 L98.3 309.8 L99.3 310.2 L100.3 310.4 L101.3 310.5 L102.3 310.4 L103.3 310.6 L104.3 311.4 L105.3 311.9 L106.3 311.5 L107.3 310.3 L108.3 309.7 L109.3 310.0 L110.3 310.1 L111.3 310.5 L112.3 311.3 L113.3 311.1 L114.3 310.7 L115.3 311.0 L116.3 310.8 L117.3 310.7 L118.3 311.2 L119.3 311.1 L120.3 310.6 L121.3 310.5 L122.3 310.9 L123.3 311.7 L124.3 312.0 L125.3 311.6 L126.3 311.0 L127.3 310.5 L128.3 310.3 L129.3 310.4 L130.3 310.9 L131.3 311.3 L132.3 311.2 L133.3 311.0 L134.3 310.9 L135.3 310.9 L136.3 310.6 L137.3 310.6 L138.3 310.6 L139.3 310.4 L140.3 310.5 L141.3 311.1 L142.3 311.6 L143.3 311.2 L144.3 310.8 L145.3 310.6 L146.3 310.1 L147.3 309.9 L148.3 309.8 L149.3 309.4 L150.3 309.3 L151.3 310.0 L152.3 311.7 L153.3 311.7 L154.3 310.7 L155.3 310.6 L156.3 311.1 L157.3 310.9 L158.3 310.0 L159.3 309.7 L160.3 310.2 L161.3 310.7 L162.3 311.2 L163.3 311.5 L164.3 312.2 L165.3 312.1 L166.3 310.9 L167.3 310.8 L168.3 310.9 L169.3 310.8 L170.3 311.0 L171.3 311.1 L172.3 311.3 L173.3 311.6 L174.3 311.4 L175.3 310.7 L176.3 310.2 L177.3 310.8 L178.3 311.3 L179.3 310.9 L180.3 310.6 L181.3 310.9 L182.3 312.1 L183.3 312.2 L184.3 311.3 L185.3 311.4 L186.3 311.0 L187.3 310.6 L188.3 311.4 L189.3 311.7 L190.3 312.2 L191.3 312.6 L192.3 311.9 L193.3 311.7 L194.3 312.2 L195.3 312.0 L196.3 311.0 L197.3 311.0 L198.3 311.7 L199.3 312.6 L200.3 312.3 L201.3 311.6 L202.3 311.7 L203.3 312.1 L204.3 312.1 L205.3 312.3 L206.3 312.0 L207.3 311.2 L208.3 310.9 L209.3 310.9 L210.3 310.9 L211.3 311.7 L212.3 312.3 L213.3 311.5 L214.3 311.0 L215.3 311.8 L216.3 312.9 L217.3 312.9 L218.3 312.5 L219.3 312.3 L220.3 311.9 L221.3 311.7 L222.3 311.4 L223.3 311.0 L224.3 311.2 L225.3 311.7 L226.3 312.0 L227.3 311.7 L228.3 311.7 L229.3 312.0 L230.3 312.2 L230.7 312.4 L231.3 312.3 L232.3 311.2 L233.3 311.1 L234.3 312.3 L235.3 312.7 L236.3 312.1 L237.3 311.5 L238.3 311.5 L239.3 312.2 L240.3 313.0 L241.3 313.5 L242.3 313.8 L243.3 313.4 L244.3 312.9 L245.3 313.2 L246.3 313.7 L247.3 313.4 L248.3 313.3 L249.3 314.2 L250.3 315.4 L251.3 315.3 L252.3 314.5 L252.3 314.4 L253.3 315.7 L254.3 316.6 L255.3 317.0 L256.3 317.1 L257.3 317.0 L258.3 317.0 L259.3 317.3 L260.3 318.1 L261.3 318.8 L262.3 319.4 L263.3 319.8 L264.3 320.4 L265.3 320.9 L266.3 321.1 L267.3 322.1 L268.3 323.6 L269.3 324.6 L270.3 325.0 L271.3 324.9 L272.3 324.9 L273.3 325.9 L274.0 326.6 L274.3 326.6 L275.3 327.1 L276.3 327.7 L277.3 328.9 L278.3 330.0 L279.3 330.8 L280.3 331.4 L281.3 331.4 L282.3 331.2 L283.3 331.2 L284.3 331.9 L285.3 332.6 L286.3 332.4 L287.3 332.7 L288.3 333.8 L289.3 335.1 L290.3 335.6 L291.3 335.3 L292.3 335.5 L293.3 336.7 L294.3 338.0 L295.3 338.1 L296.3 337.8 L297.3 338.3 L298.3 339.0 L299.3 339.6 L300.3 340.1 L301.3 340.5 L302.3 341.2 L302.8 341.9 L303.3 343.1 L304.3 343.9 L305.3 343.8 L306.3 343.8 L307.3 344.9 L308.3 346.3 L309.3 346.9 L310.3 347.2 L311.3 347.9 L312.3 348.5 L313.3 349.1 L314.3 350.0 L315.3 350.5 L316.3 350.6 L317.3 351.1 L318.3 351.7 L319.3 352.6 L320.3 353.8 L321.3 354.5 L322.3 354.9 L323.3 355.4 L324.3 356.0 L325.3 356.8 L326.3 358.0 L327.3 359.2 L328.3 359.5 L329.3 359.3 L330.3 359.9 L331.3 360.5 L331.7 360.6 L332.3 360.8 L333.3 361.2 L334.3 362.2 L335.3 363.4 L336.3 363.7 L337.3 363.4 L338.3 363.4 L339.3 364.1 L340.3 364.4 L341.3 364.9 L342.3 365.3 L343.3 365.2 L344.3 365.6 L345.3 366.4 L346.3 367.1 L347.3 367.7 L348.3 368.6 L349.3 369.1 L350.3 369.3 L351.3 369.4 L352.3 369.9 L353.3 370.9 L354.3 371.8 L355.3 372.0 L356.3 371.8 L357.3 371.9 L358.3 372.6 L359.3 372.9 L360.3 373.5 L360.5 373.9 L361.3 373.9 L362.3 374.0 L363.3 374.3 L364.3 374.0 L365.3 373.7 L366.3 374.1 L367.3 374.3 L368.3 374.6 L369.3 375.3 L370.3 375.7 L371.3 376.2 L372.3 376.3 L373.3 376.6 L374.3 376.8 L375.3 376.3 L376.3 377.1 L377.3 378.0 L378.3 377.9 L379.3 378.5 L380.3 379.4 L381.3 379.7 L382.3 379.5 L383.3 379.0 L384.3 378.9 L385.3 379.2 L386.3 378.9 L387.3 378.7 L388.3 379.1 L389.3 379.9 L389.3 380.8 L390.3 380.9 L391.3 380.7 L392.3 381.1 L393.3 381.0 L394.3 380.8 L395.3 380.4 L396.3 380.8 L397.3 382.3 L398.3 382.9 L399.3 382.2 L400.3 381.7 L401.3 381.4 L402.3 381.1 L403.3 381.4 L404.3 382.3 L405.3 383.2 L406.3 383.6 L407.3 384.1 L408.3 384.1 L409.3 383.7 L410.3 383.9 L411.3 384.1 L412.3 384.0 L413.3 383.8 L414.3 383.4 L415.3 383.4 L416.3 384.0 L417.3 384.3 L418.3 384.0 L419.3 383.7 L419.3 384.5 L420.3 384.9 L421.3 384.5 L422.3 384.1 L423.3 383.7 L424.3 383.5 L425.3 383.6 L426.3 384.3 L427.3 384.5 L428.3 383.9 L429.3 384.0 L430.3 384.5 L431.3 384.2 L432.3 383.5 L433.3 383.4 L434.3 383.4 L435.3 383.1 L436.3 383.2 L437.3 383.6 L438.3 383.4 L439.3 382.9 L440.3 382.9 L441.3 382.8 L442.3 382.2 L443.3 381.9 L444.3 382.3 L445.3 382.3 L446.3 381.8 L447.0 381.6 L447.3 381.8 L448.3 382.0 L449.3 382.1 L450.3 381.6 L451.3 380.9 L452.3 380.9 L453.3 381.1 L454.3 381.1 L455.3 381.4 L456.3 381.5 L457.3 381.3 L458.3 380.9 L459.3 380.7 L460.3 381.0 L461.3 381.4 L462.3 381.2 L463.3 380.4 L464.3 379.6 L465.3 380.0 L466.3 380.7 L467.3 380.6 L468.3 380.0 L469.3 379.3 L470.3 379.4 L471.3 379.8 L472.3 379.7 L473.3 379.3 L474.3 379.1 L475.3 379.1 L476.3 379.2 L477.3 379.3 L478.3 379.2 L479.3 379.1 L480.3 379.2 L481.3 379.3 L482.3 379.3 L483.3 379.0 L484.3 378.3 L485.3 378.0 L486.3 378.0 L487.3 378.2 L488.3 378.7 L489.3 378.5 L490.3 377.7 L491.3 377.0 L492.3 376.4 L493.3 376.3 L494.3 376.8 L495.3 376.9 L496.3 376.8 L497.3 376.9 L498.3 376.9 L499.3 376.5 L500.3 376.2 L501.3 376.5 L502.3 376.8 L503.3 376.4 L504.3 375.9 L504.7 375.9 L505.3 375.6 L506.3 375.4 L507.3 375.5 L508.3 375.0 L509.3 374.2 L510.3 373.4 L511.3 373.4 L512.3 374.5 L513.3 375.0 L514.3 373.7 L515.3 372.9 L516.3 373.9 L517.3 374.6 L518.3 374.3 L519.3 374.2 L520.3 374.4 L521.3 374.1 L522.3 373.4 L523.3 372.7 L524.3 372.4 L525.3 372.2 L526.3 371.7 L527.3 371.5 L528.3 372.1 L529.3 372.5 L530.3 372.0 L531.3 371.5 L532.3 371.3 L533.3 371.6 L534.3 372.0 L535.3 371.7 L536.3 371.1 L537.3 370.7 L538.3 370.2 L539.3 369.7 L540.3 369.5 L541.3 370.0 L542.3 370.5 L543.3 370.6 L544.3 369.9 L545.3 368.9 L546.3 368.4 L547.3 368.3 L548.3 368.3 L549.3 368.1 L550.3 368.5 L551.3 369.0 L552.3 368.3 L553.3 366.8 L554.3 366.4 L555.3 366.6 L556.3 366.7 L557.3 367.0 L558.3 367.2 L559.3 366.9 L560.3 366.2 L561.3 366.2 L562.3 366.4 L562.4 366.2 L563.3 366.1 L564.3 365.7 L565.3 365.1 L566.3 365.4 L567.3 365.3 L568.3 364.3 L569.3 364.0 L570.3 364.3 L571.3 364.4 L572.3 365.1 L573.3 365.3 L574.3 364.4 L575.3 363.3 L576.3 362.6 L577.3 362.4 L578.3 362.4 L579.3 362.5 L580.3 362.0 L581.3 361.5 L582.3 361.6 L583.3 361.6 L584.3 361.9 L585.3 362.0 L586.3 361.2 L587.3 360.4 L588.3 359.8 L589.3 359.7 L590.3 359.8 L591.3 359.6 L592.3 359.5 L593.3 359.7 L594.3 359.8 L595.3 359.0 L596.3 358.6 L597.3 358.9 L598.3 358.8 L599.3 358.7 L600.3 358.5 L601.3 358.4 L602.3 358.4 L603.3 358.2 L604.3 358.6 L605.3 359.4 L606.3 359.1 L607.3 358.4 L608.3 357.7 L609.3 357.5 L610.3 357.0 L611.3 356.9 L612.3 357.9 L612.8 358.3 L613.3 357.0 L614.3 356.3 L615.3 357.2 L616.3 357.7 L617.3 357.9 L618.3 358.0 L619.3 358.3 L620.3 358.8 L621.3 358.3 L622.3 357.7 L623.3 357.5 L624.3 357.7 L625.3 358.2 L626.3 358.7 L627.3 359.2 L627.3 359.5 L628.3 359.9 L629.3 360.9 L630.3 363.0 L631.3 365.3 L632.3 367.1 L633.3 368.8 L634.3 370.1 L634.5 369.9 L635.3 369.0 L636.3 367.6 L637.3 365.3 L638.3 363.0 L639.3 361.1 L640.3 359.0 L641.3 357.9 L641.7 358.6 L642.3 358.9 L643.3 358.6 L644.3 357.9 L645.3 357.4 L646.3 357.1 L647.3 356.9 L648.3 356.2 L649.3 355.5 L650.3 354.7 L651.3 354.1 L652.3 354.4 L653.3 354.6 L654.3 354.4 L655.3 354.1 L656.3 354.0 L657.3 353.8 L658.3 353.1 L659.3 352.7 L660.3 352.8 L661.3 352.9 L662.3 352.9 L663.3 352.9 L663.3 353.2 L664.3 353.5 L665.3 353.7 L666.3 353.9 L667.3 353.8 L668.3 352.9 L669.3 352.2 L670.3 353.1 L671.3 353.7 L672.3 352.8 L673.3 352.9 L674.3 353.2 L675.3 353.0 L676.3 353.1 L677.3 353.7 L678.3 354.4 L679.3 354.6 L680.3 354.1 L681.3 353.2 L682.3 353.3 L683.3 353.8 L684.3 353.7 L684.9 353.6 L685.3 353.3 L686.3 352.6 L687.3 351.9 L688.3 351.2 L689.3 350.5 L690.3 350.2 L691.3 350.5 L692.3 350.3 L693.3 349.1 L694.3 348.3 L695.3 348.7 L696.3 348.5 L697.3 348.2 L697.3 348.1 L698.3 347.9 L699.3 347.7 L700.3 347.8 L701.3 347.5 L702.3 346.5 L703.3 346.6 L704.3 347.0 L705.3 346.4 L706.3 346.2 L707.3 346.2 L708.3 346.1 L709.3 346.3 L710.3 346.2 L711.3 345.9 L712.3 345.9 L713.3 345.6 L714.3 345.8 L715.3 346.0 L716.3 345.0 L717.3 344.6 L718.3 344.9 L719.3 344.7 L720.3 344.7 L721.3 344.9 L722.3 345.1 L723.3 345.4 L724.3 345.5 L725.3 345.0 L726.3 344.7 L727.3 345.0 L728.3 344.8 L729.3 344.6 L730.3 344.3 L731.3 343.3 L732.3 343.0 L733.3 343.3 L734.3 343.7 L735.3 344.1 L736.3 343.9 L737.3 343.2 L738.3 342.8 L739.3 342.8 L740.3 342.8 L741.3 343.0 L742.3 343.3 L743.3 343.4 L744.3 343.2 L745.3 343.1 L746.3 343.5 L747.3 343.1 L748.3 343.2 L749.3 343.7 L750.3 342.7 L751.3 341.8 L752.3 342.1 L753.3 342.5 L754.3 342.7 L755.3 343.0 L756.3 342.8 L757.3 342.1 L758.3 341.7 L759.3 342.1 L760.3 342.2 L761.3 341.5 L762.3 341.2 L763.3 341.7 L764.3 342.5 L765.3 343.0 L766.3 342.6 L767.3 341.7 L768.3 341.5 L769.3 341.6 L770.3 341.0 L771.3 341.0 L772.3 341.2 L773.3 340.9 L774.3 341.5 L774.8 342.2 L775.3 341.8 L776.3 341.0 L777.3 341.1 L778.3 341.6 L779.3 341.0 L780.3 340.3 L781.3 340.5 L782.3 340.7 L783.3 341.2 L784.3 341.4 L785.3 340.6 L786.3 339.8 L787.3 339.0 L788.3 338.7 L789.3 338.7 L790.3 338.8 L791.3 339.4 L792.3 339.9 L793.3 339.2 L794.3 338.8 L795.3 339.0 L796.3 338.9 L797.3 338.9 L798.3 339.0 L799.3 338.9 L800.3 338.7 L801.3 338.2 L802.3 337.7 L803.3 337.5 L804.3 337.8 L805.3 338.0 L806.3 337.5 L807.3 337.2 L808.3 337.9 L809.3 338.1 L810.3 337.9 L811.3 337.8 L812.3 337.5 L813.3 337.4 L814.3 337.3 L815.3 336.9 L816.3 336.8 L817.3 336.9 L818.3 336.5 L819.3 336.0 L820.3 335.9 L821.3 336.4 L822.3 336.7 L823.3 336.3 L824.3 336.5 L825.3 336.5 L826.3 335.4 L827.3 335.1 L828.3 335.6 L829.3 335.6 L830.3 335.2 L831.3 335.5 L832.3 335.3 L833.3 334.8 L834.3 335.0 L835.3 335.2 L836.3 334.8 L837.3 334.8 L838.3 335.3 L839.3 334.6 L840.3 333.9 L841.3 334.0 L842.3 334.1 L843.3 334.4 L844.3 334.9 L845.3 334.9 L846.3 333.7 L847.3 333.1 L848.3 333.5 L849.3 334.0 L850.3 334.2 L851.3 333.9 L852.3 333.4 L852.3 333.4 L853.3 333.7 L854.3 333.7 L855.3 333.1 L856.3 333.2 L857.3 333.4 L858.3 332.9 L859.3 332.2 L860.3 331.8 L861.3 331.8 L862.3 332.2 L863.3 333.1 L864.3 333.6 L865.3 333.1 L866.3 332.9 L867.3 332.7 L868.3 331.9 L869.3 331.9 L870.3 332.5 L871.3 332.2 L872.3 331.6 L873.3 331.0 L874.3 330.7 L875.3 331.2 L876.3 331.3 L877.3 330.6 L878.3 330.8 L879.3 332.1 L880.3 332.7 L881.3 332.2 L882.3 331.7 L883.3 331.5 L884.3 331.1 L885.3 330.9 L886.3 330.4 L887.3 330.3 L888.3 331.0 L889.3 331.0 L890.3 331.0 L891.3 331.0 L892.3 330.1 L893.3 329.9 L894.3 330.8 L895.3 331.0 L896.3 331.1 L897.3 331.4 L898.3 331.1 L899.3 330.4 L900.3 330.6 L901.3 330.8 L902.3 330.8 L903.3 331.1 L904.3 331.1 L905.3 331.0 L906.3 330.3 L906.4 329.9 L907.3 330.0 L908.3 330.2 L909.3 330.6 L910.3 330.4 L911.3 330.0 L912.3 330.3 L913.3 330.6 L914.3 330.4 L915.3 330.1 L916.3 330.1 L917.3 330.0 L918.3 330.0 L919.3 329.7 L920.3 329.4 L921.3 329.8 L922.3 330.3 L923.3 329.9 L924.3 329.7 L925.3 329.6 L926.3 329.5 L927.3 329.5 L928.3 329.3 L929.3 329.1 L930.3 329.0 L931.3 329.1 L932.3 329.3 L933.3 329.1 L934.3 329.1 L935.3 329.1 L936.3 328.7 L937.3 328.7 L938.3 329.7 L939.3 329.9 L940.3 329.1 L941.3 329.1 L942.3 329.3 L943.3 328.6 L944.3 328.7 L945.3 329.2 L946.3 329.3 L947.3 329.3 L948.3 329.3 L949.3 329.2 L950.3 329.4 L951.3 329.6 L952.3 329.9 L953.3 330.1 L954.3 329.6 L955.3 329.2 L956.3 329.1 L957.3 328.8 L958.3 328.9 L959.3 328.8 L960.3 328.2 L960.5 328.2 L961.3 328.9 L962.3 329.1 L963.3 328.7 L964.3 329.0 L965.3 329.3 L966.3 329.0 L967.3 329.4 L968.3 329.4 L969.3 329.1 L970.3 330.0 L971.3 330.6 L972.3 330.3 L973.3 329.5 L974.3 328.9 L975.3 328.4 L976.3 328.4 L977.3 328.7 L978.3 328.8 L979.3 329.3 L980.3 329.7 L981.3 329.3 L982.3 329.2 L983.3 329.6 L984.3 329.4 L985.3 329.1 L986.3 329.5 L987.3 329.7 L988.3 329.1 L989.3 328.8 L990.3 329.5 L991.3 329.7 L992.3 329.3 L993.3 329.1 L994.3 329.6 L995.3 329.9 L996.3 329.9 L997.3 330.1 L998.3 330.0 L999.3 330.0 L1000.3 330.0 L1001.3 329.6 L1002.3 329.7 L1003.3 329.7 L1004.3 329.9 L1005.3 330.4 L1006.3 330.3 L1007.3 329.8 L1008.3 329.3 L1009.3 329.7 L1010.3 330.0 L1011.3 329.6 L1012.3 329.4 L1013.3 329.2 L1014.3 329.2 L1015.3 329.4 L1016.3 329.5 L1017.3 329.2 L1018.3 329.3 L1019.3 330.3 L1020.3 330.3 L1021.3 329.6 L1022.3 329.9 L1023.3 330.4 L1024.3 330.4 L1025.3 330.2 L1026.3 330.1 L1027.3 330.5 L1028.3 330.3 L1029.3 330.3 L1030.3 331.2 L1031.3 331.1 L1032.3 330.3 L1033.3 330.1 L1034.3 330.8 L1035.3 330.8 L1036.3 330.1 L1037.3 330.6 L1038.3 331.9 L1039.3 332.1 L1040.3 331.8 L1041.3 331.6 L1042.3 331.1 L1043.3 331.2 L1044.3 331.9 L1045.3 332.1 L1046.3 332.0 L1047.3 332.0 L1048.3 331.8 L1049.3 332.0 L1050.3 331.9 L1051.3 331.6 L1052.3 331.9 L1053.3 332.2 L1054.3 332.3 L1055.3 333.0 L1056.3 333.3 L1057.3 332.7 L1058.3 331.8 L1059.3 331.9 L1060.3 332.7 L1061.3 332.4 L1062.3 332.1 L1063.3 332.9 L1064.3 333.9 L1065.3 334.6 L1066.3 334.9 L1067.3 333.9 L1068.3 330.1 L1069.3 326.2 L1070.3 323.6 L1071.3 323.8 L1072.3 323.9 L1073.3 323.2 L1074.3 322.8 L1075.3 323.5 L1076.3 324.0 L1077.3 324.3 L1078.3 325.5 L1079.3 325.4 L1080.3 323.5 L1081.3 322.8 L1082.3 323.6 L1083.3 323.8 L1084.3 324.9 L1085.3 325.6 L1086.3 324.8 L1087.3 325.4 L1088.3 325.5 L1089.3 324.5 L1090.3 324.6 L1091.3 324.6 L1092.3 324.2 L1093.3 324.6 L1094.3 325.8 L1095.3 327.1 L1096.3 326.2 L1097.3 324.6 L1098.3 325.2 L1099.3 325.5 L1100.3 324.1 L1101.3 322.9 L1102.3 324.2 L1103.3 326.6 L1104.3 326.0 L1105.3 325.4 L1106.3 326.7 L1107.3 326.3 L1108.3 325.0 L1109.3 325.8 L1110.3 327.1 L1111.3 328.0 L1112.3 329.4 L1113.3 329.5 L1114.3 328.5 L1115.3 328.7 L1116.3 329.0 L1117.3 328.0 L1118.3 327.6 L1119.3 328.2 L1120.3 328.7 L1121.3 329.4 L1122.3 329.2 L1123.3 327.0 L1124.3 325.6 L1125.3 328.3 L1126.3 332.3 L1127.3 332.6 L1128.3 330.8 L1129.3 330.2 L1130.3 330.3 L1131.3 330.1 L1132.3 329.5 L1133.3 329.5 L1134.3 330.1 L1135.3 330.9 L1136.3 330.5 L1137.3 328.9 L1138.3 329.0 L1139.3 330.5 L1140.3 330.5 L1141.3 329.6 L1142.3 329.9 L1143.3 330.8 L1144.3 331.5 L1145.3 331.8 L1146.3 331.0 L1147.3 330.2 L1148.3 329.8 L1149.3 328.9 L1150.3 329.4 L1151.3 331.0 L1152.3 330.9 L1153.3 329.8 L1154.3 330.7 L1155.3 331.0 L1156.3 328.8 L1157.3 328.4 L1158.3 330.8 L1159.3 332.2 L1160.3 331.1 L1161.3 329.6 L1162.3 329.5 L1163.3 329.8 L1164.3 330.0 L1165.3 330.4 L1166.3 330.4 L1167.3 330.2 L1168.3 329.3 L1169.3 328.7 L1170.3 329.5 L1171.3 330.4 L1172.3 331.5 L1173.3 331.1 L1174.3 330.3 L1175.3 330.8 L1176.3 330.4 L1176.8 330.0 L1177.3 329.7 L1178.3 329.1 L1179.3 329.1 L1180.3 328.4 L1181.3 327.6 L1182.3 328.0 L1183.3 328.1 L1184.3 327.3 L1185.3 327.3 L1186.3 328.0 L1187.3 327.4 L1188.3 327.2 L1189.3 327.0 L1190.3 326.4 L1191.3 326.3 L1192.3 326.6 L1193.3 328.1 L1194.3 328.4 L1195.3 326.9 L1196.3 326.9 L1197.3 327.2 L1198.3 327.0 L1199.3 327.7 L1200.0 328.4 L1200.3 327.9 L1201.3 327.0 L1202.3 326.2 L1203.3 326.1 L1204.3 326.6 L1205.3 326.9 L1206.3 326.8 L1207.3 327.2 L1208.3 327.8 L1209.3 327.6 L1210.3 327.3 L1211.3 327.8 L1212.3 327.8 L1213.3 327.3 L1214.3 326.9 L1215.3 326.7 L1216.3 327.4 L1217.3 327.6 L1218.3 326.7 L1219.3 326.0 L1220.3 326.5 L1221.3 327.4 L1222.3 327.4 L1223.3 327.1 L1224.3 327.2 L1225.3 327.4 L1226.3 327.4 L1227.3 326.7 L1228.3 325.8 L1229.3 326.2 L1230.3 327.4 L1231.3 327.4 L1232.3 327.1 L1233.3 327.5 L1234.3 327.4 L1235.3 327.4 L1236.3 327.7 L1237.3 327.5 L1238.3 327.2 L1239.3 327.5 L1240.3 327.5 L1241.3 327.0 L1242.3 326.8 L1243.3 327.2 L1244.3 328.0 L1245.3 328.2 L1246.3 327.7 L1247.3 327.1 L1248.3 326.4 L1249.3 326.6 L1250.3 327.4 L1251.3 327.7 L1252.3 327.5 L1253.3 327.6 L1254.3 328.2 L1255.3 328.4 L1256.3 327.9 L1257.3 327.6 L1258.3 328.3 L1259.3 328.9 L1260.3 328.3 L1261.3 327.7 L1262.3 327.9 L1263.3 328.4 L1264.3 328.6 L1265.3 328.8 L1266.3 328.7 L1267.3 328.0 L1268.3 327.9 L1269.3 328.5 L1270.3 328.6 L1271.3 328.1 L1272.3 327.9 L1273.3 328.2 L1274.3 328.5 L1275.3 328.5 L1276.3 328.3 L1277.3 328.5 L1278.3 329.3 L1279.3 329.3 L1280.3 328.2 L1281.3 328.5 L1282.3 329.3 L1283.3 329.7 L1284.3 329.8 L1285.3 329.3 L1286.3 329.4 L1286.7 329.6 L1287.3 328.9 L1288.3 328.9 L1289.3 329.6 L1290.3 330.1 L1291.3 330.1 L1292.3 330.4 L1293.3 330.8 L1294.3 331.0 L1295.3 331.7 L1296.3 332.1 L1297.3 332.1 L1298.3 332.7 L1299.3 333.4 L1300.3 334.2 L1301.3 334.6 L1302.3 334.6 L1303.3 335.3 L1304.3 336.1 L1305.0 336.0 L1305.3 336.0 L1306.3 336.5 L1307.3 336.8 L1308.3 338.1 L1309.3 339.2 L1310.3 338.9 L1311.3 339.5 L1312.3 341.0 L1313.3 342.0 L1314.3 343.1 L1315.3 343.6 L1316.3 344.0 L1317.3 345.5 L1318.3 346.9 L1319.3 347.1 L1320.3 346.8 L1321.3 346.0 L1322.3 346.2 L1323.3 347.8 L1323.4 348.8 L1324.3 349.7 L1325.3 350.4 L1326.3 350.4 L1327.3 350.7 L1328.3 351.1 L1329.3 351.0 L1330.3 351.8 L1331.3 353.2 L1332.3 354.0 L1333.3 354.2 L1334.3 354.4 L1335.3 355.2 L1336.3 355.7 L1336.6 355.1 L1337.3 354.8 L1338.3 355.2 L1339.3 355.2 L1340.3 354.4 L1341.3 353.7 L1342.3 352.9 L1343.3 352.1 L1344.3 351.7 L1345.3 351.2 L1346.3 351.1 L1347.1 351.6 L1347.3 352.4 L1348.3 352.6 L1349.3 351.5 L1350.3 350.5 L1351.3 349.8 L1352.3 348.7 L1353.3 348.3 L1354.3 348.2 L1355.3 347.5 L1356.3 346.7 L1357.3 345.4 L1358.3 344.4 L1359.3 344.2 L1360.3 344.2 L1361.3 343.8 L1362.3 343.0 L1362.8 342.5 L1363.3 342.7 L1364.3 342.6 L1365.3 341.6 L1366.3 340.6 L1367.3 340.8 L1368.3 340.9 L1369.3 340.7 L1370.3 340.3 L1371.3 339.5 L1372.3 339.3 L1373.3 339.4 L1374.3 339.2 L1375.3 339.4 L1376.3 339.1 L1377.3 338.5 L1378.3 338.1 L1378.6 337.8 L1379.3 338.6 L1380.3 339.4 L1381.3 339.3 L1382.3 339.2 L1383.3 339.2 L1384.3 339.8 L1385.3 340.2 L1386.3 340.5 L1387.3 341.6 L1388.3 342.3 L1389.1 342.1 L1389.3 342.4 L1390.3 344.0 L1391.3 345.3 L1392.3 345.5 L1393.3 346.3 L1394.3 348.3 L1395.3 350.5 L1396.3 352.5 L1397.3 353.9 L1398.3 355.5 L1399.3 357.8 L1400.3 360.0 L1401.3 361.9 L1402.3 363.8 L1403.3 365.3 L1404.3 366.7 L1404.8 367.8 L1405.3 368.8 L1406.3 370.0 L1407.3 371.5 L1408.3 373.0 L1409.3 374.5 L1410.3 376.5 L1411.3 377.9 L1412.3 379.7 L1413.3 382.2 L1414.3 383.6 L1415.3 384.2 L1416.3 385.5 L1417.3 387.3 L1418.3 388.5 L1419.3 389.7 L1420.3 391.5 L1420.6 391.8 L1421.3 392.0 L1422.3 393.3 L1423.3 394.8 L1424.3 396.0 L1425.3 397.1 L1426.3 398.1 L1427.3 399.9 L1428.3 401.5 L1429.3 401.9 L1430.3 402.6 L1431.3 403.8 L1432.3 404.3 L1433.3 404.1 L1433.7 403.8 L1434.3 403.6 L1435.3 404.0 L1436.3 404.0 L1437.3 403.4 L1438.3 402.9 L1439.3 402.5 L1440.3 402.7 L1441.3 402.5 L1442.3 401.4 L1443.3 400.7 L1444.3 400.5 L1445.3 400.3 L1446.3 400.0 L1446.8 399.5 L1447.3 399.7 L1448.3 400.4 L1449.3 400.8 L1450.3 401.2 L1451.3 402.1 L1452.3 404.0 L1453.3 405.7 L1454.3 405.9 L1455.3 406.6 L1456.3 408.8 L1457.3 409.9 L1458.3 410.2 L1459.3 411.0 L1460.3 411.5 L1461.3 411.9 L1462.3 412.1 L1462.6 411.6 L1463.3 411.5 L1464.3 412.3 L1465.3 413.0 L1466.3 412.9 L1467.3 412.2 L1468.3 411.7 L1469.3 411.1 L1470.3 410.4 L1471.3 409.8 L1472.3 409.0 L1473.3 408.5 L1474.3 408.4 L1475.3 407.5 L1475.7 406.0 L1476.3 404.9 L1477.3 404.0 L1478.3 403.5 L1479.3 402.3 L1480.3 399.4 L1481.3 396.2 L1482.3 394.3 L1483.3 392.3 L1483.6 390.8 L1484.3 388.5 L1485.3 385.9 L1486.3 382.0 L1487.3 378.0 L1488.3 374.8 L1488.9 372.9 L1489.3 371.2 L1490.3 368.3 L1491.3 364.9 L1492.3 361.4 L1493.3 358.4 L1494.3 355.0 L1495.3 352.1 L1496.3 350.2 L1496.7 349.6 L1497.3 348.5 L1498.3 346.8 L1499.3 345.7 L1500.3 345.1 L1501.3 344.4 L1502.3 343.3 L1503.3 341.6 L1504.3 340.7 L1505.3 340.1 L1506.3 338.8 L1507.2 338.6 L1507.3 338.9 L1508.3 337.6 L1509.3 337.3 L1510.3 337.3 L1511.3 336.6 L1512.3 336.2 L1513.3 335.8 L1514.3 335.1 L1515.3 334.6 L1516.3 334.8 L1517.3 334.7 L1518.3 334.2 L1519.3 334.4 L1520.3 334.7 L1521.3 334.2 L1522.3 333.8 L1523.3 333.8 L1524.3 333.8 L1525.3 333.6 L1526.3 333.0 L1527.3 332.4 L1528.3 332.2 L1529.3 332.1 L1530.3 332.3 L1530.9 332.4 L1531.3 332.1 L1532.3 331.6 L1533.3 331.4 L1534.3 332.2 L1535.3 332.3 L1536.3 331.7 L1537.3 332.1 L1538.3 332.1 L1539.3 331.2 L1540.3 331.0 L1541.3 331.2 L1542.3 331.5 L1543.3 331.9 L1544.3 331.5 L1545.3 330.8 L1546.3 330.7 L1547.3 330.4 L1548.3 329.6 L1549.3 329.4 L1549.6 329.9 L1550.3 330.7 L1551.3 331.3 L1552.3 331.5 L1553.3 331.6 L1554.3 331.5 L1555.3 331.6 L1556.3 332.1 L1557.3 332.5 L1558.3 332.6 L1559.3 332.3 L1560.3 332.4 L1561.3 333.3 L1562.3 333.9 L1563.3 334.0 L1564.3 334.5 L1565.3 335.1 L1565.4 335.4 L1566.3 335.7 L1567.3 335.8 L1568.3 336.7 L1569.3 338.0 L1570.3 339.2 L1571.3 340.1 L1572.3 340.3 L1573.3 341.1 L1574.3 342.7 L1575.3 344.0 L1576.3 344.5 L1577.3 345.1 L1578.3 346.6 L1578.5 347.1 L1579.3 347.4 L1580.3 348.1 L1581.3 349.9 L1582.3 352.1 L1583.3 354.0 L1584.3 355.8 L1585.3 357.8 L1586.3 359.8 L1587.3 361.6 L1588.3 363.4 L1589.0 364.1 L1589.3 364.8 L1590.3 368.3 L1591.3 372.2 L1592.3 376.0 L1593.3 379.2 L1594.3 381.3 L1595.3 382.7 L1595.6 383.4 L1596.3 385.1 L1597.3 386.3 L1598.3 387.4 L1599.3 388.4 L1600.3 389.4 L1601.3 390.3 L1602.2 391.1 L1602.3 390.9 L1603.3 393.1 L1604.3 396.5 L1605.3 399.5 L1606.3 401.7 L1607.3 404.8 L1608.3 408.7 L1609.3 412.8 L1610.3 416.2 L1611.3 419.2 L1612.3 422.1 L1612.7 422.6 L1613.3 423.8 L1614.3 426.1 L1615.3 428.8 L1616.3 431.7 L1617.3 434.5 L1618.3 436.8 L1619.3 438.5 L1620.3 440.4 L1621.3 442.7 L1622.3 445.3 L1623.3 447.6 L1624.3 450.3 L1625.3 453.4 L1625.8 454.2 L1626.3 455.4 L1627.3 459.2 L1628.3 463.2 L1629.3 466.4 L1630.3 469.6 L1631.3 473.0 L1632.3 475.9 L1633.3 479.5 L1634.3 483.7 L1635.3 486.4 L1636.3 488.4 L1636.3 488.9 L1637.3 491.4 L1638.3 493.4 L1639.3 495.7 L1640.3 497.7 L1641.3 499.8 L1641.5 499.9 L1642.3 501.8 L1643.3 506.0 L1644.3 511.3 L1645.3 516.9 L1646.3 522.2 L1647.3 527.4 L1648.3 534.0 L1649.3 540.4 L1649.4 540.0 L1650.3 544.0 L1651.3 549.6 L1652.3 555.3 L1653.3 561.6 L1654.3 567.7 L1655.3 573.7 L1656.3 579.8 L1657.3 585.3 L1657.3 585.2 L1658.3 589.5 L1659.3 593.6 L1660.3 597.5 L1661.3 601.9 L1662.3 606.8 L1663.3 611.0 L1664.3 615.3 L1665.3 620.3 L1666.3 625.2 L1667.3 629.4 L1667.8 631.4 L1668.3 634.3 L1669.3 639.2 L1670.3 644.2 L1671.3 649.1 L1672.3 653.7 L1673.3 658.5 L1674.3 663.4 L1675.3 668.2 L1676.3 673.7 L1677.3 679.2 L1678.3 684.5 L1679.3 689.1 L1680.3 693.4 L1680.9 696.6 L1681.3 699.0 L1682.3 704.1 L1683.3 709.2 L1684.3 714.1 L1685.3 719.2 L1686.3 724.0 L1687.3 728.3 L1688.3 732.5 L1689.3 737.3 L1690.3 742.6 L1691.3 748.5 L1692.3 754.1 L1693.3 759.1 L1694.1 762.8 L1694.3 763.9 L1695.3 769.0 L1696.3 774.6 L1697.3 781.4 L1698.3 787.8 L1699.3 793.3 L1700.3 798.8 L1701.3 804.8 L1702.3 811.6 L1703.3 818.9 L1704.3 826.3 L1704.6 828.4 L1705.3 834.3 L1706.3 843.5 L1707.3 854.0 L1708.3 864.0 L1709.3 871.0 L1709.8 873.2 L1710.3 874.8 L1711.3 876.7 L1711.9 876.8 L1712.3 876.3 L1713.3 873.9 L1714.3 870.2 L1715.3 865.1 L1716.3 859.1 L1717.3 853.4 L1717.7 851.7 L1718.3 849.1 L1719.3 843.3 L1720.3 836.7 L1721.3 830.0 L1722.3 823.2 L1723.3 817.7 L1724.3 815.1 L1724.3 816.1 L1725.3 812.3 L1726.3 808.8 L1727.3 807.0 L1728.3 805.3 L1729.3 802.8 L1730.3 800.5 L1730.8 799.8 L1731.3 799.1 L1732.3 797.2 L1733.3 795.4 L1734.3 794.3 L1735.3 793.6 L1736.3 792.5 L1737.3 791.2 L1738.3 789.0 L1738.7 787.7 L1739.3 786.9 L1740.3 784.9 L1741.3 781.3 L1742.3 777.0 L1743.3 773.2 L1744.0 770.4 L1744.3 768.5 L1745.3 764.9 L1746.3 760.3 L1747.3 755.0 L1748.3 750.9 L1749.2 747.2 L1749.3 746.6 L1750.3 742.0 L1751.3 737.2 L1752.3 732.5 L1753.3 728.2 L1754.3 724.3 L1755.3 720.7 L1756.3 717.6 L1757.1 715.4 L1757.3 714.4 L1758.3 711.6 L1759.3 709.4 L1760.3 707.0 L1761.3 704.3 L1762.3 701.8 L1763.3 699.6 L1764.3 697.5 L1765.3 695.2 L1766.3 693.1 L1767.3 691.0 L1768.3 688.6 L1769.3 686.2 L1770.2 683.6 L1770.3 682.7 L1771.3 680.7 L1772.3 678.8 L1773.3 676.6 L1774.3 674.8 L1775.3 672.3 L1776.3 669.7 L1777.3 667.2 L1778.3 664.3 L1779.3 662.1 L1779.4 662.7 L1780.3 660.3 L1781.3 657.1 L1782.3 653.8 L1783.3 650.4 L1784.3 647.3 L1784.7 646.6 L1785.3 645.5 L1786.3 643.7 L1787.3 641.9 L1788.3 639.8 L1789.3 637.0 L1790.3 635.1 L1791.2 633.6 L1791.3 632.9 L1792.3 630.8 L1793.3 629.3 L1794.3 626.8 L1795.3 624.4 L1796.3 622.3 L1797.3 619.8 L1798.3 617.2 L1799.1 615.2 L1799.3 614.4 L1800.3 612.6 L1801.3 610.9 L1802.3 608.9 L1803.3 607.1 L1804.3 605.5 L1805.3 603.7 L1806.3 602.5 L1807.3 601.7 L1808.3 600.6 L1809.3 599.9 L1810.3 599.5 L1810.9 599.3 L1811.3 599.6 L1812.3 600.5 L1813.3 601.4 L1814.3 602.5 L1815.3 604.0 L1816.3 605.9 L1817.3 607.8 L1818.3 609.4 L1819.3 611.4 L1820.1 613.2 L1820.3 613.8 L1821.3 615.8 L1822.3 617.3 L1823.3 618.8 L1824.3 620.2 L1825.3 621.5 L1826.3 622.4 L1827.3 623.5 L1828.3 625.7 L1829.3 627.3 L1830.3 628.2 L1830.6 628.7 L1831.3 629.5 L1832.3 630.0 L1833.3 630.4 L1834.3 631.5 L1835.3 632.0 L1836.3 632.2 L1837.3 633.1 L1838.3 633.6 L1839.3 633.3 L1840.3 633.9 L1841.1 634.6 L1841.3 634.3 L1842.3 635.0 L1843.3 635.4 L1844.3 635.3 L1845.3 636.0 L1846.3 637.0 L1847.3 637.5 L1848.3 638.3 L1849.3 639.8 L1850.3 641.0 L1851.3 641.5 L1851.6 641.5 L1852.3 642.6 L1853.3 643.4 L1854.3 643.7 L1855.3 644.7 L1856.3 646.4 L1857.3 647.9 L1858.3 648.2 L1859.3 648.9 L1860.3 649.9 L1860.8 649.1 L1861.3 648.5 L1862.3 648.3 L1863.3 648.1 L1864.3 648.1 L1865.3 647.4 L1866.3 645.6 L1867.3 644.2 L1867.4 644.2 L1868.3 644.6 L1869.3 644.4 L1870.3 644.0 L1871.3 644.0 L1872.3 644.5 L1873.3 644.9 L1874.3 644.5 L1875.3 644.3 L1876.3 644.6 L1877.3 644.7 L1878.3 644.9 L1879.3 645.4 L1880.3 646.3 L1881.3 646.5 L1882.3 645.8 L1883.1 645.7 L1883.3 646.0 L1884.3 646.3 L1885.3 646.7 L1886.3 646.8 L1887.3 646.4 L1888.3 646.8 L1889.3 647.5 L1890.3 647.4 L1891.3 647.7 L1892.3 648.7 L1893.3 649.6 L1894.3 650.0 L1895.3 649.6 L1896.3 650.1 L1897.3 651.6 L1898.3 653.1 L1898.9 653.4 L1899.3 653.1 L1900.3 653.4 L1901.3 653.8 L1902.3 654.3 L1903.3 654.9 L1904.3 654.9 L1905.3 655.3 L1906.3 656.6 L1907.3 657.2 L1908.3 657.4 L1909.3 658.5 L1910.3 659.3 L1911.3 659.3 L1912.0 659.8 L1912.3 660.2 L1913.3 660.8 L1914.3 661.6 L1915.3 662.5 L1916.3 663.8 L1917.3 664.9 L1918.3 665.2 L1919.3 666.3 L1919.9 668.1 L1920.3 669.3 L1921.3 671.1 L1922.3 673.2 L1923.3 675.8 L1924.3 679.3 L1925.3 682.8 L1926.3 686.5 L1927.3 690.6 L1927.8 692.1 L1928.3 693.6 L1929.3 697.9 L1930.3 703.0 L1931.3 707.2 L1932.3 711.0 L1933.3 716.1 L1934.3 721.7 L1935.3 727.2 L1935.7 728.7 L1936.3 731.8 L1937.3 737.8 L1938.3 743.3 L1939.3 748.3 L1940.3 754.2 L1941.3 759.9 L1942.3 765.0 L1943.3 770.9 L1944.3 777.5 L1945.3 783.7 L1946.2 788.6 L1946.3 789.5 L1947.3 796.1 L1948.3 802.5 L1949.3 809.6 L1950.3 817.5 L1951.3 825.4 L1952.3 833.7 L1953.3 842.3 L1954.3 850.3 L1955.3 857.6 L1956.3 864.4 L1956.7 866.5 L1957.3 872.0 L1958.3 880.3 L1959.3 887.7 L1960.3 894.6 L1961.3 902.2 L1961.9 907.6 L1962.3 910.4 L1963.3 916.2 L1964.3 922.2 L1965.3 929.0 L1966.3 935.6 L1967.2 941.1 L1967.3 942.5 L1968.3 950.2 L1969.3 957.4 L1970.3 964.2 L1971.3 971.6 L1972.3 979.4 L1972.4 980.0 L1973.3 986.4 L1974.3 994.0 L1975.3 1000.9 L1976.3 1007.0 L1977.3 1012.6 L1977.7 1014.5 L1978.3 1019.3 L1979.3 1026.5 L1980.3 1033.5 L1981.3 1038.7 L1982.3 1035.6 L1982.4 1036.1 L1983.3 1034.8 L1984.3 1042.0 L1985.3 1039.7 L1986.3 1034.9 L1987.3 1018.2 L1987.6 1018.1 L1988.3 1020.3 L1989.3 1029.1 L1990.3 1024.0 L1991.3 1018.2 L1992.3 1002.1 L1993.3 999.3 L1993.4 999.8 L1994.3 1008.7 L1995.3 1008.7 L1996.3 1009.0 L1997.3 996.5 L1998.3 992.5 L1999.2 989.4 L1999.3 1000.1 L2000.3 996.6 L2001.3 993.8 L2002.3 984.0 L2003.3 983.2 L2003.6 982.3"/>
<path stroke="#1668dc" d="M88.3 228.2 L89.3 228.7 L90.3 228.6 L91.3 228.1 L92.3 228.0 L93.3 228.0 L94.3 228.1 L95.3 228.0 L96.3 228.0 L97.3 228.2 L98.3 228.4 L99.3 228.5 L100.3 228.3 L101.3 228.1 L102.3 227.8 L103.3 227.6 L104.3 227.6 L105.3 227.2 L106.3 227.3 L107.3 227.7 L108.3 227.9 L109.3 228.4 L110.3 228.7 L111.3 228.9 L112.3 228.9 L113.3 228.2 L114.3 227.9 L115.3 228.2 L116.3 228.5 L117.3 228.6 L118.3 228.7 L119.3 228.9 L120.3 228.6 L121.3 228.0 L122.3 227.4 L123.3 227.2 L124.3 227.8 L125.3 228.5 L126.3 228.7 L127.3 228.0 L128.3 227.6 L129.3 227.9 L130.3 228.1 L131.3 228.3 L132.3 228.5 L133.3 228.2 L134.3 228.5 L135.3 228.7 L136.3 228.8 L137.3 229.1 L138.3 228.5 L139.3 228.1 L140.3 228.7 L141.3 228.8 L142.3 227.6 L143.3 227.1 L144.3 227.5 L145.3 228.0 L146.3 228.2 L147.3 228.0 L148.3 228.2 L149.3 228.2 L150.3 227.4 L151.3 227.2 L152.3 227.7 L153.3 228.2 L154.3 228.6 L155.3 228.7 L156.3 228.1 L157.3 227.4 L158.3 227.3 L159.3 227.3 L160.3 227.7 L161.3 228.4 L162.3 228.5 L163.3 227.8 L164.3 227.5 L165.3 227.8 L166.3 227.8 L167.3 227.6 L168.3 227.9 L169.3 228.3 L170.3 228.3 L171.3 228.4 L172.3 228.8 L173.3 228.9 L174.3 228.3 L175.3 227.9 L176.3 227.9 L177.3 227.9 L178.3 227.7 L179.3 227.8 L180.3 228.5 L181.3 228.9 L182.3 228.9 L183.3 228.6 L184.3 228.4 L185.3 228.9 L186.3 228.7 L187.3 228.1 L188.3 228.3 L189.3 228.9 L190.3 228.7 L191.3 227.9 L192.3 228.0 L193.3 228.7 L194.3 228.4 L195.3 228.1 L196.3 228.3 L197.3 228.2 L198.3 227.6 L199.3 227.1 L200.3 227.2 L201.3 227.4 L202.3 227.9 L203.3 228.6 L204.3 228.3 L205.3 227.6 L206.3 227.1 L207.3 226.4 L208.3 226.9 L209.3 227.7 L210.3 227.9 L211.3 228.3 L212.3 228.4 L213.3 227.7 L214.3 227.4 L215.3 228.2 L216.3 228.9 L217.3 228.9 L218.3 228.9 L219.3 228.5 L220.3 227.9 L221.3 227.9 L222.3 228.0 L223.3 227.9 L224.3 228.4 L225.3 228.3 L226.3 227.3 L227.3 227.2 L228.3 227.5 L229.3 227.3 L230.3 227.6 L230.7 228.5 L231.3 229.0 L232.3 228.6 L233.3 228.1 L234.3 228.0 L235.3 228.6 L236.3 229.5 L237.3 229.5 L238.3 229.1 L239.3 228.8 L240.3 228.2 L241.3 228.3 L242.3 229.0 L243.3 229.2 L244.3 229.0 L245.3 228.9 L246.3 229.2 L247.3 229.8 L248.3 230.3 L249.3 230.9 L250.3 230.6 L251.3 229.9 L252.3 230.3 L252.3 231.8 L253.3 233.0 L254.3 232.8 L255.3 232.3 L256.3 231.8 L257.3 231.6 L258.3 232.0 L259.3 232.9 L260.3 233.7 L261.3 234.0 L262.3 234.9 L263.3 235.0 L264.3 234.5 L265.3 235.7 L266.3 237.2 L267.3 237.2 L268.3 237.1 L269.3 237.7 L270.3 238.5 L271.3 239.6 L272.3 240.3 L273.3 240.0 L274.0 239.3 L274.3 239.4 L275.3 240.4 L276.3 240.3 L277.3 240.4 L278.3 241.7 L279.3 242.9 L280.3 242.6 L281.3 242.7 L282.3 243.6 L283.3 244.2 L284.3 244.7 L285.3 245.1 L286.3 245.4 L287.3 246.3 L288.3 247.0 L289.3 247.3 L290.3 247.7 L291.3 248.0 L292.3 248.8 L293.3 249.0 L294.3 248.6 L295.3 249.6 L296.3 251.4 L297.3 252.2 L298.3 251.6 L299.3 251.3 L300.3 252.4 L301.3 253.6 L302.3 254.0 L302.8 254.1 L303.3 254.6 L304.3 255.6 L305.3 255.7 L306.3 255.5 L307.3 256.4 L308.3 257.5 L309.3 258.1 L310.3 258.9 L311.3 259.9 L312.3 259.9 L313.3 259.7 L314.3 260.1 L315.3 260.6 L316.3 261.4 L317.3 262.6 L318.3 263.8 L319.3 264.0 L320.3 263.5 L321.3 264.4 L322.3 265.6 L323.3 266.3 L324.3 266.9 L325.3 267.3 L326.3 268.0 L327.3 268.6 L328.3 268.8 L329.3 269.4 L330.3 270.0 L331.3 270.5 L331.7 270.9 L332.3 270.9 L333.3 271.1 L334.3 271.6 L335.3 272.1 L336.3 272.4 L337.3 272.9 L338.3 273.5 L339.3 273.7 L340.3 274.0 L341.3 274.7 L342.3 275.8 L343.3 276.7 L344.3 277.4 L345.3 277.3 L346.3 277.6 L347.3 278.2 L348.3 278.0 L349.3 278.3 L350.3 278.7 L351.3 278.5 L352.3 279.1 L353.3 279.8 L354.3 280.1 L355.3 280.6 L356.3 281.3 L357.3 281.5 L358.3 281.5 L359.3 281.7 L360.3 281.8 L360.5 282.4 L361.3 283.9 L362.3 284.4 L363.3 284.1 L364.3 284.3 L365.3 285.0 L366.3 285.8 L367.3 286.2 L368.3 286.5 L369.3 286.5 L370.3 286.9 L371.3 287.7 L372.3 287.8 L373.3 287.8 L374.3 288.1 L375.3 287.7 L376.3 287.5 L377.3 288.0 L378.3 288.4 L379.3 289.5 L380.3 290.5 L381.3 290.0 L382.3 289.2 L383.3 289.5 L384.3 290.4 L385.3 290.7 L386.3 290.8 L387.3 290.8 L388.3 290.5 L389.3 290.5 L389.3 290.9 L390.3 291.8 L391.3 292.0 L392.3 291.7 L393.3 291.8 L394.3 292.3 L395.3 292.2 L396.3 291.3 L397.3 291.1 L398.3 291.8 L399.3 292.6 L400.3 292.8 L401.3 293.0 L402.3 294.1 L403.3 294.0 L404.3 293.2 L405.3 293.5 L406.3 294.0 L407.3 294.3 L408.3 294.8 L409.3 294.9 L410.3 294.7 L411.3 294.7 L412.3 294.9 L413.3 295.0 L414.3 295.1 L415.3 294.9 L416.3 293.6 L417.3 293.0 L418.3 294.0 L419.3 294.8 L419.3 294.9 L420.3 294.7 L421.3 295.2 L422.3 295.6 L423.3 295.1 L424.3 294.8 L425.3 295.0 L426.3 294.5 L427.3 294.3 L428.3 294.8 L429.3 294.7 L430.3 294.4 L431.3 294.1 L432.3 294.1 L433.3 294.0 L434.3 294.2 L435.3 294.6 L436.3 294.2 L437.3 293.6 L438.3 293.7 L439.3 294.2 L440.3 294.4 L441.3 294.5 L442.3 294.5 L443.3 294.3 L444.3 294.5 L445.3 294.3 L446.3 293.3 L447.0 292.9 L447.3 293.2 L448.3 293.6 L449.3 293.9 L450.3 293.8 L451.3 293.7 L452.3 293.6 L453.3 293.2 L454.3 293.5 L455.3 293.6 L456.3 293.5 L457.3 293.2 L458.3 293.0 L459.3 293.3 L460.3 293.0 L461.3 292.6 L462.3 292.5 L463.3 292.2 L464.3 291.9 L465.3 291.7 L466.3 292.0 L467.3 292.3 L468.3 292.2 L469.3 292.2 L470.3 292.1 L471.3 291.7 L472.3 291.7 L473.3 291.6 L474.3 291.5 L475.3 291.4 L476.3 291.5 L477.3 291.7 L478.3 291.8 L479.3 291.8 L480.3 291.1 L481.3 290.2 L482.3 289.9 L483.3 290.2 L484.3 290.3 L485.3 290.6 L486.3 291.8 L487.3 292.2 L488.3 290.8 L489.3 289.5 L490.3 289.1 L491.3 289.3 L492.3 289.6 L493.3 289.5 L494.3 289.7 L495.3 289.6 L496.3 288.9 L497.3 288.6 L498.3 288.8 L499.3 288.8 L500.3 289.0 L501.3 288.9 L502.3 288.5 L503.3 288.5 L504.3 288.9 L504.7 288.7 L505.3 287.7 L506.3 287.1 L507.3 287.1 L508.3 287.6 L509.3 288.2 L510.3 287.8 L511.3 287.2 L512.3 287.5 L513.3 287.9 L514.3 287.8 L515.3 287.7 L516.3 287.4 L517.3 286.8 L518.3 286.3 L519.3 286.4 L520.3 286.9 L521.3 286.8 L522.3 286.7 L523.3 286.2 L524.3 285.2 L525.3 285.0 L526.3 285.4 L527.3 286.1 L528.3 286.7 L529.3 286.3 L530.3 285.3 L531.3 285.1 L532.3 285.6 L533.3 285.3 L534.3 284.6 L535.3 284.9 L536.3 285.1 L537.3 284.7 L538.3 284.5 L539.3 284.4 L540.3 283.9 L541.3 283.6 L542.3 284.0 L543.3 283.8 L544.3 283.6 L545.3 283.6 L546.3 283.4 L547.3 283.4 L548.3 283.4 L549.3 283.4 L550.3 283.6 L551.3 283.6 L552.3 282.3 L553.3 281.1 L554.3 281.4 L555.3 281.6 L556.3 281.1 L557.3 281.0 L558.3 281.3 L559.3 281.3 L560.3 281.3 L561.3 281.7 L562.3 282.2 L562.4 281.8 L563.3 280.8 L564.3 281.0 L565.3 281.4 L566.3 281.2 L567.3 281.1 L568.3 280.7 L569.3 280.2 L570.3 279.9 L571.3 279.4 L572.3 279.3 L573.3 279.5 L574.3 279.7 L575.3 279.6 L576.3 279.0 L577.3 278.5 L578.3 277.9 L579.3 277.9 L580.3 278.6 L581.3 278.6 L582.3 278.0 L583.3 277.7 L584.3 278.4 L585.3 278.5 L586.3 277.2 L587.3 276.3 L588.3 276.8 L589.3 277.3 L590.3 276.8 L591.3 276.8 L592.3 276.6 L593.3 275.2 L594.3 275.3 L595.3 276.0 L596.3 275.6 L597.3 275.2 L598.3 275.3 L599.3 275.6 L600.3 275.6 L601.3 275.3 L602.3 275.5 L603.3 275.5 L604.3 275.5 L605.3 275.2 L606.3 273.9 L607.3 273.1 L608.3 274.0 L609.3 275.3 L610.3 275.7 L611.3 275.9 L612.3 275.8 L612.8 274.6 L613.3 273.9 L614.3 274.5 L615.3 275.4 L616.3 275.3 L617.3 274.8 L618.3 275.1 L619.3 275.6 L620.3 275.8 L621.3 276.0 L622.3 276.3 L623.3 276.1 L624.3 275.8 L625.3 276.2 L626.3 276.5 L627.3 276.1 L627.3 276.4 L628.3 277.2 L629.3 277.9 L630.3 279.5 L631.3 281.5 L632.3 283.0 L633.3 284.7 L634.3 285.4 L634.5 285.2 L635.3 284.9 L636.3 283.2 L637.3 280.8 L638.3 279.5 L639.3 278.5 L640.3 276.8 L641.3 275.6 L641.7 275.4 L642.3 275.0 L643.3 275.3 L644.3 275.3 L645.3 274.6 L646.3 274.2 L647.3 274.1 L648.3 273.7 L649.3 273.8 L650.3 273.2 L651.3 272.2 L652.3 272.2 L653.3 272.3 L654.3 272.0 L655.3 272.0 L656.3 272.1 L657.3 271.8 L658.3 271.3 L659.3 270.9 L660.3 271.0 L661.3 271.4 L662.3 270.8 L663.3 270.2 L663.3 270.7 L664.3 271.7 L665.3 271.7 L666.3 270.7 L667.3 270.6 L668.3 271.1 L669.3 270.6 L670.3 270.2 L671.3 270.3 L672.3 270.4 L673.3 270.2 L674.3 270.3 L675.3 271.1 L676.3 271.2 L677.3 271.0 L678.3 270.7 L679.3 269.9 L680.3 269.4 L681.3 269.9 L682.3 270.1 L683.3 269.9 L684.3 270.2 L684.9 270.3 L685.3 270.0 L686.3 269.8 L687.3 270.0 L688.3 270.2 L689.3 269.6 L690.3 268.6 L691.3 267.4 L692.3 266.5 L693.3 266.7 L694.3 267.3 L695.3 267.8 L696.3 267.3 L697.3 266.4 L697.3 266.6 L698.3 266.4 L699.3 265.6 L700.3 265.3 L701.3 265.4 L702.3 265.0 L703.3 265.0 L704.3 265.5 L705.3 265.5 L706.3 265.3 L707.3 264.8 L708.3 264.1 L709.3 263.8 L710.3 263.9 L711.3 264.3 L712.3 264.7 L713.3 264.6 L714.3 263.9 L715.3 263.6 L716.3 263.9 L717.3 263.8 L718.3 264.1 L719.3 264.4 L720.3 263.5 L721.3 262.4 L722.3 262.4 L723.3 263.0 L724.3 262.8 L725.3 262.1 L726.3 261.9 L727.3 262.1 L728.3 262.4 L729.3 262.5 L730.3 262.2 L731.3 261.5 L732.3 261.5 L733.3 262.1 L734.3 262.5 L735.3 262.1 L736.3 262.3 L737.3 263.0 L738.3 262.5 L739.3 261.5 L740.3 261.3 L741.3 261.8 L742.3 262.3 L743.3 262.1 L744.3 261.7 L745.3 261.9 L746.3 262.0 L747.3 261.5 L748.3 261.3 L749.3 261.4 L750.3 261.4 L751.3 261.1 L752.3 260.5 L753.3 260.6 L754.3 261.6 L755.3 261.9 L756.3 261.0 L757.3 261.1 L758.3 261.9 L759.3 261.6 L760.3 261.0 L761.3 260.9 L762.3 261.2 L763.3 261.2 L764.3 260.4 L765.3 259.6 L766.3 259.6 L767.3 259.7 L768.3 259.6 L769.3 259.6 L770.3 259.4 L771.3 259.2 L772.3 259.3 L773.3 259.7 L774.3 259.9 L774.8 259.5 L775.3 259.3 L776.3 259.1 L777.3 259.5 L778.3 260.3 L779.3 259.9 L780.3 258.7 L781.3 258.3 L782.3 258.7 L783.3 259.3 L784.3 259.5 L785.3 259.6 L786.3 259.6 L787.3 259.0 L788.3 258.2 L789.3 258.1 L790.3 258.5 L791.3 258.8 L792.3 258.8 L793.3 258.3 L794.3 258.0 L795.3 257.8 L796.3 257.4 L797.3 257.7 L798.3 258.0 L799.3 257.7 L800.3 257.3 L801.3 257.0 L802.3 257.0 L803.3 257.8 L804.3 257.7 L805.3 256.9 L806.3 256.3 L807.3 256.2 L808.3 256.6 L809.3 256.2 L810.3 255.8 L811.3 256.1 L812.3 256.8 L813.3 257.2 L814.3 256.3 L815.3 255.4 L816.3 255.3 L817.3 254.7 L818.3 254.7 L819.3 255.1 L820.3 255.0 L821.3 255.0 L822.3 255.2 L823.3 255.2 L824.3 254.8 L825.3 254.9 L826.3 254.7 L827.3 254.6 L828.3 254.9 L829.3 254.2 L830.3 253.6 L831.3 253.8 L832.3 254.2 L833.3 254.4 L834.3 254.4 L835.3 254.1 L836.3 253.8 L837.3 253.7 L838.3 253.6 L839.3 253.3 L840.3 253.4 L841.3 253.6 L842.3 253.2 L843.3 253.3 L844.3 253.2 L845.3 252.9 L846.3 252.5 L847.3 252.1 L848.3 252.2 L849.3 252.4 L850.3 252.9 L851.3 253.6 L852.3 253.1 L852.3 252.5 L853.3 252.4 L854.3 251.7 L855.3 251.1 L856.3 251.8 L857.3 252.2 L858.3 251.6 L859.3 251.6 L860.3 251.7 L861.3 251.8 L862.3 251.8 L863.3 251.7 L864.3 251.8 L865.3 251.4 L866.3 250.9 L867.3 250.7 L868.3 250.7 L869.3 251.0 L870.3 251.3 L871.3 251.6 L872.3 251.8 L873.3 251.6 L874.3 250.9 L875.3 250.4 L876.3 250.9 L877.3 251.3 L878.3 250.6 L879.3 250.2 L880.3 250.5 L881.3 250.6 L882.3 250.4 L883.3 249.9 L884.3 250.0 L885.3 250.1 L886.3 250.1 L887.3 250.0 L888.3 249.8 L889.3 250.1 L890.3 250.0 L891.3 249.9 L892.3 250.0 L893.3 249.5 L894.3 249.0 L895.3 248.7 L896.3 248.9 L897.3 249.6 L898.3 249.9 L899.3 249.5 L900.3 248.9 L901.3 249.2 L902.3 250.3 L903.3 250.3 L904.3 249.8 L905.3 249.8 L906.3 249.8 L906.4 249.9 L907.3 249.9 L908.3 249.6 L909.3 249.3 L910.3 249.7 L911.3 249.7 L912.3 248.8 L913.3 248.2 L914.3 248.8 L915.3 249.5 L916.3 249.5 L917.3 249.4 L918.3 249.5 L919.3 249.3 L920.3 248.9 L921.3 248.7 L922.3 248.5 L923.3 248.2 L924.3 248.5 L925.3 248.6 L926.3 248.3 L927.3 247.9 L928.3 248.0 L929.3 248.3 L930.3 248.6 L931.3 248.5 L932.3 248.2 L933.3 248.6 L934.3 249.0 L935.3 249.0 L936.3 249.3 L937.3 249.1 L938.3 248.1 L939.3 247.8 L940.3 248.1 L941.3 248.4 L942.3 248.1 L943.3 247.9 L944.3 248.6 L945.3 249.3 L946.3 248.9 L947.3 248.1 L948.3 248.1 L949.3 248.3 L950.3 248.1 L951.3 248.1 L952.3 248.3 L953.3 248.5 L954.3 248.5 L955.3 248.1 L956.3 247.8 L957.3 247.9 L958.3 248.0 L959.3 247.5 L960.3 247.0 L960.5 247.5 L961.3 248.2 L962.3 247.8 L963.3 247.4 L964.3 247.9 L965.3 248.4 L966.3 248.3 L967.3 248.0 L968.3 247.8 L969.3 248.0 L970.3 248.3 L971.3 248.3 L972.3 247.4 L973.3 247.6 L974.3 248.6 L975.3 248.1 L976.3 247.6 L977.3 248.3 L978.3 248.8 L979.3 248.3 L980.3 247.9 L981.3 248.0 L982.3 248.2 L983.3 248.3 L984.3 248.6 L985.3 248.7 L986.3 248.2 L987.3 248.4 L988.3 248.9 L989.3 248.8 L990.3 248.5 L991.3 248.4 L992.3 248.2 L993.3 248.2 L994.3 248.4 L995.3 248.7 L996.3 249.0 L997.3 249.1 L998.3 249.1 L999.3 248.7 L1000.3 248.2 L1001.3 248.3 L1002.3 248.5 L1003.3 248.9 L1004.3 249.4 L1005.3 249.0 L1006.3 248.2 L1007.3 248.0 L1008.3 248.6 L1009.3 249.4 L1010.3 249.4 L1011.3 248.9 L1012.3 248.7 L1013.3 249.3 L1014.3 249.7 L1015.3 249.4 L1016.3 249.8 L1017.3 250.0 L1018.3 249.3 L1019.3 249.2 L1020.3 249.5 L1021.3 249.7 L1022.3 250.1 L1023.3 250.1 L1024.3 249.5 L1025.3 249.7 L1026.3 250.0 L1027.3 249.6 L1028.3 249.0 L1029.3 248.7 L1030.3 248.6 L1031.3 249.3 L1032.3 250.2 L1033.3 250.5 L1034.3 250.9 L1035.3 251.2 L1036.3 250.5 L1037.3 249.8 L1038.3 249.6 L1039.3 249.4 L1040.3 249.8 L1041.3 250.1 L1042.3 249.8 L1043.3 250.4 L1044.3 251.0 L1045.3 250.7 L1046.3 250.6 L1047.3 250.9 L1048.3 251.3 L1049.3 251.6 L1050.3 251.0 L1051.3 250.6 L1052.3 251.1 L1053.3 251.8 L1054.3 252.1 L1055.3 251.6 L1056.3 251.3 L1057.3 251.2 L1058.3 251.3 L1059.3 252.0 L1060.3 252.6 L1061.3 252.9 L1062.3 253.3 L1063.3 253.7 L1064.3 253.0 L1065.3 251.3 L1066.3 250.9 L1067.3 251.1 L1068.3 249.6 L1069.3 246.5 L1070.3 243.3 L1071.3 243.1 L1072.3 242.8 L1073.3 242.0 L1074.3 241.6 L1075.3 242.5 L1076.3 243.4 L1077.3 243.3 L1078.3 242.8 L1079.3 242.2 L1080.3 243.2 L1081.3 244.8 L1082.3 244.3 L1083.3 242.6 L1084.3 242.3 L1085.3 243.3 L1086.3 243.4 L1087.3 242.6 L1088.3 242.9 L1089.3 243.1 L1090.3 243.5 L1091.3 245.2 L1092.3 245.5 L1093.3 244.1 L1094.3 243.6 L1095.3 244.0 L1096.3 244.4 L1097.3 244.9 L1098.3 245.3 L1099.3 246.1 L1100.3 246.6 L1101.3 247.0 L1102.3 246.9 L1103.3 246.8 L1104.3 247.7 L1105.3 248.1 L1106.3 246.4 L1107.3 244.6 L1108.3 244.7 L1109.3 245.9 L1110.3 248.1 L1111.3 249.4 L1112.3 247.4 L1113.3 245.7 L1114.3 246.6 L1115.3 247.4 L1116.3 246.7 L1117.3 245.6 L1118.3 245.7 L1119.3 247.4 L1120.3 248.1 L1121.3 247.8 L1122.3 247.7 L1123.3 248.3 L1124.3 248.7 L1125.3 248.0 L1126.3 247.1 L1127.3 246.4 L1128.3 246.4 L1129.3 248.3 L1130.3 250.9 L1131.3 250.3 L1132.3 248.4 L1133.3 247.7 L1134.3 246.9 L1135.3 247.3 L1136.3 249.1 L1137.3 249.2 L1138.3 248.4 L1139.3 248.0 L1140.3 247.5 L1141.3 248.1 L1142.3 248.5 L1143.3 248.8 L1144.3 250.9 L1145.3 251.8 L1146.3 249.8 L1147.3 249.3 L1148.3 249.5 L1149.3 249.4 L1150.3 249.5 L1151.3 248.9 L1152.3 249.1 L1153.3 248.7 L1154.3 248.2 L1155.3 249.4 L1156.3 249.4 L1157.3 248.3 L1158.3 248.2 L1159.3 248.7 L1160.3 249.0 L1161.3 249.6 L1162.3 249.7 L1163.3 249.1 L1164.3 248.4 L1165.3 248.5 L1166.3 249.8 L1167.3 251.0 L1168.3 250.3 L1169.3 249.8 L1170.3 249.9 L1171.3 250.2 L1172.3 249.8 L1173.3 248.3 L1174.3 248.3 L1175.3 249.2 L1176.3 249.1 L1176.8 248.3 L1177.3 248.0 L1178.3 248.0 L1179.3 247.5 L1180.3 247.3 L1181.3 248.2 L1182.3 249.6 L1183.3 249.0 L1184.3 246.4 L1185.3 245.1 L1186.3 245.2 L1187.3 246.2 L1188.3 247.7 L1189.3 247.4 L1190.3 246.9 L1191.3 247.5 L1192.3 248.0 L1193.3 248.2 L1194.3 247.7 L1195.3 246.6 L1196.3 246.0 L1197.3 246.2 L1198.3 247.1 L1199.3 247.7 L1200.0 248.0 L1200.3 248.2 L1201.3 247.7 L1202.3 247.0 L1203.3 246.7 L1204.3 247.1 L1205.3 247.9 L1206.3 247.6 L1207.3 247.2 L1208.3 246.9 L1209.3 246.8 L1210.3 247.6 L1211.3 248.1 L1212.3 247.6 L1213.3 247.2 L1214.3 247.0 L1215.3 246.9 L1216.3 247.1 L1217.3 247.1 L1218.3 246.6 L1219.3 245.9 L1220.3 246.0 L1221.3 246.7 L1222.3 247.2 L1223.3 246.7 L1224.3 246.0 L1225.3 246.1 L1226.3 247.0 L1227.3 247.8 L1228.3 247.2 L1229.3 246.5 L1230.3 246.2 L1231.3 246.3 L1232.3 246.5 L1233.3 246.4 L1234.3 246.6 L1235.3 245.8 L1236.3 244.8 L1237.3 245.3 L1238.3 246.0 L1239.3 246.5 L1240.3 246.9 L1241.3 246.9 L1242.3 247.0 L1243.3 247.4 L1244.3 247.3 L1245.3 246.9 L1246.3 246.9 L1247.3 246.6 L1248.3 246.6 L1249.3 246.5 L1250.3 246.2 L1251.3 246.5 L1252.3 246.5 L1253.3 246.4 L1254.3 247.0 L1255.3 247.4 L1256.3 247.0 L1257.3 246.3 L1258.3 246.3 L1259.3 246.7 L1260.3 247.1 L1261.3 246.8 L1262.3 246.1 L1263.3 246.0 L1264.3 246.7 L1265.3 246.6 L1266.3 245.6 L1267.3 246.0 L1268.3 247.4 L1269.3 247.9 L1270.3 247.6 L1271.3 247.4 L1272.3 247.3 L1273.3 246.9 L1274.3 246.8 L1275.3 246.8 L1276.3 246.0 L1277.3 245.7 L1278.3 246.4 L1279.3 247.1 L1280.3 247.1 L1281.3 246.0 L1282.3 245.6 L1283.3 246.6 L1284.0 246.8 L1284.3 246.6 L1285.3 246.3 L1286.3 245.9 L1287.3 246.6 L1288.3 247.3 L1289.3 247.6 L1290.3 248.5 L1291.3 249.2 L1292.3 249.6 L1293.3 249.9 L1294.3 249.4 L1295.3 249.1 L1296.3 249.5 L1297.3 250.6 L1298.3 251.7 L1299.3 251.6 L1299.8 251.2 L1300.3 251.5 L1301.3 252.8 L1302.3 254.1 L1303.3 254.7 L1304.3 255.3 L1305.3 256.3 L1306.3 256.4 L1307.3 255.7 L1308.3 256.1 L1309.3 257.6 L1310.3 258.8 L1311.3 259.4 L1312.3 260.1 L1312.9 260.4 L1313.3 260.2 L1314.3 260.8 L1315.3 261.9 L1316.3 262.7 L1317.3 262.9 L1318.3 263.2 L1319.3 264.3 L1320.3 265.0 L1321.3 265.1 L1322.3 265.5 L1323.3 266.1 L1324.3 266.6 L1325.3 267.6 L1326.1 268.4 L1326.3 268.8 L1327.3 269.2 L1328.3 269.3 L1329.3 269.6 L1330.3 269.4 L1331.3 269.5 L1332.3 270.2 L1333.3 270.7 L1334.3 271.0 L1335.3 271.5 L1336.3 271.4 L1336.6 271.1 L1337.3 271.3 L1338.3 271.1 L1339.3 270.4 L1340.3 270.2 L1341.3 270.1 L1342.3 269.4 L1343.3 269.1 L1344.3 269.0 L1345.3 268.4 L1346.3 267.5 L1347.1 267.2 L1347.3 267.6 L1348.3 266.9 L1349.3 266.1 L1350.3 265.5 L1351.3 265.1 L1352.3 264.7 L1353.3 263.6 L1354.3 263.1 L1355.3 262.8 L1356.3 261.3 L1357.3 260.3 L1358.3 260.5 L1359.3 260.5 L1360.3 259.6 L1361.3 258.6 L1362.3 258.2 L1362.8 258.3 L1363.3 258.1 L1364.3 257.9 L1365.3 258.2 L1366.3 258.1 L1367.3 257.5 L1368.3 256.8 L1369.3 256.7 L1370.3 256.5 L1371.3 256.0 L1372.3 255.9 L1373.3 255.5 L1374.3 255.1 L1375.3 254.8 L1376.3 254.5 L1377.3 254.5 L1378.3 254.3 L1379.3 253.9 L1380.3 253.7 L1381.3 254.0 L1382.3 254.3 L1383.3 253.9 L1383.8 253.6 L1384.3 253.4 L1385.3 252.9 L1386.3 252.8 L1387.3 253.3 L1388.3 253.7 L1389.3 254.0 L1390.3 254.2 L1391.3 254.5 L1392.3 255.0 L1393.3 255.7 L1394.3 256.6 L1394.3 256.9 L1395.3 256.7 L1396.3 257.3 L1397.3 258.7 L1398.3 258.9 L1399.3 258.5 L1400.3 258.9 L1401.3 260.2 L1402.3 262.7 L1403.3 264.4 L1404.3 265.0 L1405.3 265.1 L1406.3 265.3 L1407.3 267.2 L1408.3 269.1 L1409.3 269.8 L1410.1 270.9 L1410.3 271.1 L1411.3 271.6 L1412.3 272.6 L1413.3 273.2 L1414.3 273.7 L1415.3 274.9 L1416.3 276.4 L1417.3 277.7 L1418.3 278.3 L1419.3 279.0 L1420.3 279.9 L1421.3 280.8 L1422.3 281.5 L1423.3 282.3 L1424.3 283.1 L1425.3 283.8 L1425.8 283.9 L1426.3 284.2 L1427.3 284.5 L1428.3 284.7 L1429.3 285.9 L1430.3 287.5 L1431.3 288.0 L1432.3 288.4 L1433.3 288.8 L1434.3 288.7 L1435.0 288.2 L1435.3 288.0 L1436.3 288.1 L1437.3 288.0 L1438.3 287.5 L1439.3 285.9 L1440.3 284.5 L1441.3 284.1 L1442.3 284.1 L1443.3 283.6 L1444.3 283.1 L1445.3 282.9 L1445.5 282.7 L1446.3 283.2 L1447.3 283.7 L1448.3 283.0 L1449.3 282.4 L1450.3 282.8 L1451.3 283.2 L1452.3 283.8 L1453.3 284.9 L1454.3 285.8 L1455.3 285.9 L1456.3 286.3 L1457.3 287.2 L1458.3 287.6 L1459.3 287.7 L1460.3 288.4 L1461.3 288.8 L1462.3 288.5 L1462.6 288.9 L1463.3 289.8 L1464.3 289.9 L1465.3 289.5 L1466.3 288.8 L1467.3 288.2 L1468.3 287.6 L1469.3 287.0 L1470.3 285.7 L1471.3 284.6 L1472.3 284.5 L1473.3 283.9 L1474.3 283.7 L1475.3 283.4 L1475.7 282.5 L1476.3 281.7 L1477.3 281.1 L1478.3 280.6 L1479.3 279.9 L1480.3 279.3 L1481.3 278.7 L1482.3 277.5 L1483.3 276.4 L1483.6 276.3 L1484.3 275.3 L1485.3 273.0 L1486.3 270.5 L1487.3 268.7 L1488.3 266.8 L1488.9 265.4 L1489.3 264.3 L1490.3 262.5 L1491.3 261.2 L1492.3 260.1 L1493.3 259.5 L1494.3 258.9 L1495.3 257.8 L1496.3 256.3 L1496.7 254.9 L1497.3 254.5 L1498.3 254.7 L1499.3 254.1 L1500.3 253.2 L1501.3 253.0 L1502.3 252.6 L1503.3 252.4 L1504.3 252.4 L1504.6 251.9 L1505.3 252.1 L1506.3 252.3 L1507.3 251.4 L1508.3 250.7 L1509.3 250.7 L1510.3 250.8 L1511.3 251.3 L1512.3 251.4 L1513.3 250.2 L1514.3 248.7 L1515.3 248.4 L1516.3 248.3 L1517.3 248.2 L1518.3 248.9 L1519.3 249.2 L1520.3 248.6 L1521.3 249.0 L1522.3 249.5 L1523.3 248.8 L1524.3 248.3 L1525.3 248.8 L1526.3 249.1 L1527.3 247.9 L1528.3 246.8 L1529.3 247.1 L1530.3 247.6 L1530.9 248.4 L1531.3 248.9 L1532.3 248.4 L1533.3 248.0 L1534.3 248.6 L1535.3 248.7 L1536.3 248.0 L1537.3 248.1 L1538.3 248.4 L1539.3 248.2 L1540.3 248.2 L1541.3 248.3 L1542.3 248.7 L1543.3 249.5 L1544.3 249.2 L1545.3 248.6 L1546.3 248.9 L1547.0 249.0 L1547.3 248.5 L1548.3 249.1 L1549.3 249.7 L1550.3 250.2 L1551.3 250.3 L1552.3 250.3 L1553.3 251.0 L1554.3 251.4 L1555.3 252.4 L1556.3 253.5 L1557.3 252.8 L1558.3 252.8 L1559.3 254.2 L1560.1 255.0 L1560.3 254.9 L1561.3 256.0 L1562.3 256.9 L1563.3 257.2 L1564.3 258.2 L1565.3 259.3 L1566.3 260.2 L1567.3 261.1 L1568.3 261.9 L1569.3 263.6 L1570.3 265.0 L1571.3 266.2 L1572.3 267.0 L1573.3 267.6 L1573.3 268.2 L1574.3 269.9 L1575.3 271.1 L1576.3 272.8 L1577.3 274.4 L1578.3 275.3 L1579.3 275.8 L1580.3 277.3 L1581.3 279.4 L1582.3 281.4 L1583.3 283.2 L1584.3 285.1 L1585.3 287.6 L1586.3 290.0 L1586.4 289.9 L1587.3 291.5 L1588.3 293.9 L1589.3 296.9 L1590.3 300.3 L1591.3 302.8 L1592.3 305.0 L1593.3 307.7 L1594.3 309.5 L1594.3 309.3 L1595.3 311.1 L1596.3 312.1 L1597.3 312.9 L1598.3 314.6 L1599.3 315.8 L1600.3 317.2 L1600.8 318.8 L1601.3 319.6 L1602.3 321.5 L1603.3 324.2 L1604.3 327.0 L1605.3 330.0 L1606.3 332.7 L1607.3 335.1 L1608.3 338.5 L1609.3 342.1 L1610.0 344.0 L1610.3 344.5 L1611.3 347.4 L1612.3 350.1 L1613.3 352.0 L1614.3 353.6 L1615.3 355.9 L1616.3 358.5 L1617.3 360.7 L1618.3 362.6 L1619.3 364.8 L1620.3 366.7 L1621.3 368.3 L1622.3 370.8 L1623.2 373.5 L1623.3 373.7 L1624.3 375.5 L1625.3 377.9 L1626.3 380.7 L1627.3 383.7 L1628.3 386.6 L1629.3 389.0 L1630.3 391.1 L1631.3 394.2 L1632.3 397.6 L1633.3 400.6 L1634.3 403.6 L1635.3 407.0 L1636.3 410.3 L1636.3 410.1 L1637.3 413.2 L1638.3 417.1 L1639.3 420.9 L1640.3 424.5 L1641.3 428.5 L1642.3 432.4 L1643.3 435.7 L1644.3 438.9 L1645.3 443.1 L1646.3 447.9 L1646.8 449.8 L1647.3 451.8 L1648.3 456.3 L1649.3 460.8 L1650.3 465.2 L1651.3 469.6 L1652.3 474.3 L1653.3 479.2 L1654.3 483.9 L1655.3 488.3 L1656.3 491.6 L1657.3 494.0 L1657.3 493.6 L1658.3 495.9 L1659.3 498.8 L1659.9 500.7 L1660.3 501.1 L1661.3 503.3 L1662.3 506.6 L1663.3 511.0 L1664.3 515.4 L1665.3 519.8 L1666.3 524.1 L1667.3 528.2 L1668.3 532.3 L1669.3 536.7 L1670.3 541.5 L1671.3 545.5 L1672.3 549.5 L1673.1 552.7 L1673.3 553.6 L1674.3 557.5 L1675.3 561.5 L1676.3 565.2 L1677.3 569.4 L1678.3 573.6 L1679.3 577.6 L1680.3 581.3 L1681.3 585.2 L1682.3 589.7 L1683.3 593.5 L1684.3 597.4 L1685.3 602.4 L1686.3 607.2 L1687.3 611.1 L1688.3 615.5 L1688.8 617.9 L1689.3 620.5 L1690.3 625.8 L1691.3 631.2 L1692.3 637.0 L1693.3 642.9 L1694.3 648.7 L1695.3 654.9 L1696.3 660.7 L1697.3 666.6 L1698.3 672.7 L1699.3 678.5 L1699.3 678.7 L1700.3 684.1 L1701.3 689.8 L1702.3 695.8 L1703.3 701.4 L1704.3 707.2 L1705.3 713.3 L1706.3 718.7 L1707.2 723.4 L1707.3 724.4 L1708.3 731.7 L1709.3 738.2 L1710.3 743.2 L1711.1 745.8 L1711.3 746.3 L1712.3 747.9 L1713.3 749.2 L1713.8 749.8 L1714.3 749.5 L1715.3 747.8 L1716.3 744.8 L1717.3 740.8 L1718.3 736.6 L1719.3 732.7 L1720.3 728.7 L1720.3 728.3 L1721.3 724.8 L1722.3 721.4 L1723.3 717.9 L1724.3 714.5 L1725.3 710.9 L1726.3 706.9 L1727.3 703.4 L1728.2 701.9 L1728.3 702.4 L1729.3 700.5 L1730.3 698.8 L1731.3 697.8 L1732.3 696.5 L1733.3 695.7 L1734.3 695.5 L1735.3 694.5 L1736.3 692.9 L1737.3 691.5 L1738.3 689.5 L1738.7 688.9 L1739.3 688.0 L1740.3 683.7 L1741.3 677.8 L1742.3 671.5 L1743.3 665.9 L1744.0 663.2 L1744.3 661.6 L1745.3 656.1 L1746.3 650.0 L1747.3 644.4 L1748.3 639.2 L1749.3 634.2 L1750.3 629.7 L1751.3 624.8 L1751.8 622.3 L1752.3 621.0 L1753.3 617.0 L1754.3 612.7 L1755.3 609.0 L1756.3 605.7 L1757.3 601.8 L1758.3 598.2 L1759.3 595.7 L1759.7 595.1 L1760.3 593.1 L1761.3 589.7 L1762.3 586.8 L1763.3 584.0 L1764.3 581.4 L1765.3 579.2 L1766.3 576.9 L1767.3 574.8 L1768.3 572.4 L1769.3 570.3 L1770.2 568.5 L1770.3 568.2 L1771.3 566.1 L1772.3 563.7 L1773.3 562.2 L1774.3 561.5 L1775.3 559.3 L1776.3 556.3 L1777.3 554.2 L1778.3 552.6 L1779.3 550.1 L1780.3 547.3 L1780.7 546.6 L1781.3 544.8 L1782.3 540.4 L1783.3 536.4 L1784.3 534.7 L1784.7 535.2 L1785.3 534.7 L1786.3 533.7 L1787.3 533.4 L1788.3 533.3 L1789.3 532.8 L1790.3 532.7 L1791.3 533.2 L1792.3 532.9 L1792.5 532.9 L1793.3 531.9 L1794.3 526.9 L1795.3 521.4 L1796.3 518.6 L1796.5 518.1 L1797.3 517.3 L1798.3 517.7 L1799.3 518.3 L1800.3 518.6 L1801.3 518.8 L1801.7 518.3 L1802.3 516.8 L1803.3 515.4 L1804.3 514.3 L1805.3 512.5 L1806.3 510.6 L1807.3 508.2 L1808.3 506.3 L1809.3 506.2 L1810.3 505.6 L1810.9 505.0 L1811.3 505.3 L1812.3 505.5 L1813.3 505.8 L1814.3 506.8 L1815.3 508.2 L1816.3 509.5 L1817.3 510.7 L1818.3 512.2 L1819.3 513.5 L1820.1 514.5 L1820.3 514.5 L1821.3 515.5 L1822.3 516.4 L1823.3 517.2 L1824.3 518.4 L1825.3 519.3 L1826.3 520.5 L1827.3 522.5 L1828.3 524.3 L1829.3 525.3 L1830.3 525.4 L1831.3 525.1 L1832.3 525.2 L1833.2 525.9 L1833.3 526.5 L1834.3 527.2 L1835.3 527.3 L1836.3 527.3 L1837.3 527.1 L1838.3 527.3 L1839.3 527.7 L1840.3 527.6 L1841.1 527.9 L1841.3 528.3 L1842.3 528.1 L1843.3 528.4 L1844.3 529.5 L1845.3 530.3 L1846.3 531.0 L1847.3 531.9 L1848.3 532.6 L1849.3 532.7 L1850.3 533.2 L1851.3 534.7 L1851.6 535.4 L1852.3 536.4 L1853.3 538.1 L1854.3 538.9 L1855.3 538.9 L1856.3 539.5 L1857.3 540.9 L1858.3 542.6 L1859.3 543.8 L1860.3 544.0 L1860.8 543.3 L1861.3 542.8 L1862.3 542.3 L1863.3 541.5 L1864.3 540.7 L1865.3 540.3 L1866.1 540.0 L1866.3 539.8 L1867.3 539.9 L1868.3 540.2 L1869.3 540.0 L1870.3 539.7 L1871.3 539.7 L1872.3 540.4 L1873.3 541.0 L1874.3 541.0 L1875.3 540.5 L1876.3 540.7 L1877.3 542.2 L1877.9 542.9 L1878.3 542.4 L1879.3 542.0 L1880.3 542.2 L1881.3 543.0 L1882.3 543.8 L1883.3 544.6 L1884.3 545.2 L1885.3 545.8 L1886.3 546.9 L1887.3 547.8 L1888.3 548.4 L1889.3 549.1 L1890.3 549.7 L1891.3 549.9 L1892.3 550.3 L1893.3 551.2 L1893.6 551.5 L1894.3 551.3 L1895.3 551.4 L1896.3 552.6 L1897.3 554.3 L1898.3 555.1 L1899.3 554.6 L1900.3 554.9 L1901.3 556.6 L1902.3 558.3 L1903.3 559.3 L1904.3 560.3 L1905.3 560.9 L1906.3 561.1 L1907.3 561.9 L1908.3 563.1 L1909.3 563.9 L1909.4 564.0 L1910.3 564.1 L1911.3 564.3 L1912.3 565.2 L1913.3 565.5 L1914.3 565.2 L1915.3 565.2 L1916.3 565.2 L1917.3 565.3 L1918.3 566.2 L1919.3 567.0 L1919.9 567.0 L1920.3 567.0 L1921.3 568.1 L1922.3 570.0 L1923.3 572.6 L1924.3 574.9 L1925.3 577.0 L1926.3 580.5 L1926.5 581.9 L1927.3 584.8 L1928.3 588.5 L1929.3 592.6 L1930.3 596.7 L1931.3 601.6 L1932.3 606.9 L1933.0 610.4 L1933.3 611.8 L1934.3 616.3 L1935.3 621.0 L1936.3 626.3 L1937.3 631.4 L1938.3 636.2 L1939.3 641.2 L1940.3 646.7 L1940.9 649.8 L1941.3 651.2 L1942.3 656.7 L1943.3 662.6 L1944.3 668.3 L1945.3 674.0 L1946.2 677.7 L1946.3 678.3 L1947.3 684.8 L1948.3 690.5 L1949.3 696.5 L1950.3 702.8 L1951.3 709.3 L1951.4 709.7 L1952.3 716.4 L1953.3 725.6 L1954.3 735.5 L1955.3 745.5 L1956.3 755.1 L1956.7 757.8 L1957.3 762.3 L1958.3 770.2 L1959.3 778.6 L1960.3 786.7 L1961.3 793.8 L1961.9 797.1 L1962.3 799.4 L1963.3 805.8 L1964.3 811.9 L1965.3 817.5 L1966.3 822.5 L1967.2 827.7 L1967.3 829.3 L1968.3 837.3 L1969.3 845.3 L1970.3 852.7 L1971.3 859.7 L1972.3 866.5 L1972.4 867.1 L1973.3 872.2 L1974.3 877.7 L1975.3 882.8 L1976.3 887.7 L1977.3 892.4 L1977.7 894.2 L1978.3 897.4 L1979.3 902.2 L1980.3 905.0 L1980.3 904.6 L1981.3 905.9 L1982.3 900.9 L1983.3 898.3 L1984.3 906.9 L1984.7 905.8 L1985.3 901.3 L1986.3 897.4 L1987.3 884.8 L1988.3 881.0 L1989.1 878.8 L1989.3 891.4 L1990.3 890.1 L1991.3 886.7 L1992.3 872.2 L1993.3 867.4 L1993.4 866.0 L1994.3 874.7 L1995.3 871.1 L1996.3 868.0 L1997.3 856.8 L1997.8 854.9 L1998.3 852.0 L1999.3 863.3 L2000.3 863.2 L2001.3 859.0 L2002.3 846.0 L2003.3 842.9 L2003.6 841.0"/>
<path stroke="#36a96d" d="M88.3 141.6 L89.3 141.5 L90.3 141.2 L91.3 141.0 L92.3 141.0 L93.3 140.7 L94.3 140.2 L95.3 140.5 L96.3 141.0 L97.3 141.0 L98.3 141.3 L99.3 141.4 L100.3 141.2 L101.3 141.7 L102.3 142.0 L103.3 141.8 L104.3 141.6 L105.3 141.2 L106.3 141.1 L107.3 141.1 L108.3 140.8 L109.3 140.6 L110.3 140.7 L111.3 141.2 L112.3 141.6 L113.3 141.3 L114.3 141.3 L115.3 142.0 L116.3 141.9 L117.3 140.7 L118.3 140.8 L119.3 142.0 L120.3 141.7 L121.3 140.6 L122.3 140.0 L123.3 139.7 L124.3 140.0 L125.3 140.3 L126.3 140.4 L127.3 140.5 L128.3 140.5 L129.3 140.6 L130.3 140.7 L131.3 140.2 L132.3 140.1 L133.3 140.6 L134.3 140.6 L135.3 140.2 L136.3 140.3 L137.3 140.3 L138.3 139.9 L139.3 140.2 L140.3 140.7 L141.3 140.6 L142.3 140.4 L143.3 140.3 L144.3 139.9 L145.3 139.9 L146.3 140.4 L147.3 140.3 L148.3 140.1 L149.3 140.6 L150.3 141.3 L151.3 141.2 L152.3 140.4 L153.3 140.0 L154.3 139.7 L155.3 139.1 L156.3 139.6 L157.3 140.3 L158.3 140.1 L159.3 140.4 L160.3 141.0 L161.3 141.0 L162.3 140.9 L163.3 140.5 L164.3 140.5 L165.3 141.0 L165.8 140.8 L166.3 140.5 L167.3 141.0 L168.3 141.6 L169.3 141.7 L170.3 140.8 L171.3 139.9 L172.3 140.2 L173.3 140.6 L174.3 140.2 L175.3 139.5 L176.3 139.8 L177.3 140.7 L178.3 140.7 L179.3 140.1 L180.3 139.8 L181.3 140.5 L182.3 141.5 L183.3 141.8 L184.3 141.3 L185.3 140.7 L186.3 140.6 L187.3 140.2 L188.3 140.4 L189.3 140.9 L190.3 140.9 L191.3 141.1 L192.3 141.3 L193.3 141.5 L194.3 141.2 L195.3 140.3 L196.3 140.2 L197.3 140.7 L198.3 140.9 L199.3 141.0 L200.3 140.8 L201.3 140.6 L202.3 140.5 L203.3 140.5 L204.3 140.7 L205.3 141.2 L206.3 141.7 L207.3 141.8 L208.3 141.0 L209.3 140.7 L210.3 140.7 L211.3 140.1 L212.3 140.4 L213.3 141.3 L214.3 141.3 L215.3 141.4 L216.3 141.6 L217.3 141.2 L218.3 140.4 L219.3 140.0 L220.3 140.5 L221.3 140.7 L222.3 140.6 L223.3 141.1 L224.3 141.1 L225.3 140.9 L226.3 140.9 L227.3 141.0 L228.3 141.5 L229.3 141.5 L230.3 141.1 L230.7 141.0 L231.3 141.5 L232.3 141.4 L233.3 140.4 L234.3 139.9 L235.3 141.1 L236.3 142.5 L237.3 142.2 L238.3 141.7 L239.3 141.9 L240.3 141.7 L241.3 141.8 L242.3 142.1 L243.3 142.3 L244.3 142.7 L245.3 142.6 L246.3 142.5 L247.3 142.9 L248.3 143.5 L249.3 144.2 L250.3 144.4 L251.3 144.1 L252.3 144.0 L252.3 143.8 L253.3 143.1 L254.3 143.3 L255.3 144.1 L256.3 144.5 L257.3 144.5 L258.3 144.3 L259.3 144.2 L260.3 144.3 L261.3 144.5 L262.3 145.3 L263.3 146.3 L264.3 146.7 L265.3 146.6 L266.3 146.8 L267.3 147.1 L268.3 147.7 L269.3 148.3 L270.3 147.7 L271.3 147.3 L272.3 148.4 L273.3 148.9 L274.0 148.7 L274.3 149.1 L275.3 150.0 L276.3 150.6 L277.3 151.2 L278.3 151.6 L279.3 151.6 L280.3 151.8 L281.3 152.7 L282.3 153.7 L283.3 154.1 L284.3 154.2 L285.3 154.4 L286.3 154.6 L287.3 155.0 L288.3 155.5 L289.3 156.5 L290.3 157.0 L291.3 156.7 L292.3 157.0 L293.3 157.9 L294.3 158.4 L295.3 158.5 L296.3 159.0 L297.3 160.0 L298.3 160.4 L299.3 160.3 L300.3 160.5 L301.3 160.6 L302.3 161.1 L302.8 162.1 L303.3 162.1 L304.3 161.9 L305.3 163.0 L306.3 164.1 L307.3 164.5 L308.3 164.7 L309.3 164.6 L310.3 165.1 L311.3 165.7 L312.3 166.0 L313.3 166.3 L314.3 166.5 L315.3 167.3 L316.3 168.2 L317.3 168.4 L318.3 168.7 L319.3 168.9 L320.3 168.9 L321.3 169.9 L322.3 171.0 L323.3 171.0 L324.3 171.1 L325.3 171.4 L326.3 171.2 L327.3 171.8 L328.3 173.2 L329.3 174.1 L330.3 174.3 L331.3 174.1 L331.7 173.7 L332.3 174.0 L333.3 174.8 L334.3 175.2 L335.3 175.6 L336.3 175.9 L337.3 176.4 L338.3 177.1 L339.3 177.2 L340.3 177.2 L341.3 177.0 L342.3 176.6 L343.3 177.1 L344.3 178.4 L345.3 178.8 L346.3 178.4 L347.3 178.3 L348.3 178.7 L349.3 179.5 L350.3 180.7 L351.3 181.2 L352.3 180.7 L353.3 180.7 L354.3 181.8 L355.3 182.3 L356.3 182.2 L357.3 182.7 L358.3 182.9 L359.3 182.5 L360.3 182.8 L360.5 183.4 L361.3 183.9 L362.3 183.8 L363.3 183.4 L364.3 183.5 L365.3 183.4 L366.3 183.4 L367.3 183.9 L368.3 184.7 L369.3 185.5 L370.3 185.3 L371.3 184.7 L372.3 185.1 L373.3 186.0 L374.3 185.9 L375.3 186.0 L376.3 187.2 L377.3 187.5 L378.3 187.1 L379.3 187.7 L380.3 188.6 L381.3 188.8 L382.3 188.4 L383.3 188.4 L384.3 188.7 L385.3 188.3 L386.3 188.1 L387.3 188.5 L388.3 188.6 L389.3 188.6 L389.3 188.5 L390.3 188.5 L391.3 189.0 L392.3 189.6 L393.3 189.9 L394.3 189.9 L395.3 189.1 L396.3 189.1 L397.3 190.4 L398.3 190.2 L399.3 189.9 L400.3 190.9 L401.3 191.2 L402.3 190.8 L403.3 190.6 L404.3 190.5 L405.3 190.9 L406.3 191.7 L407.3 192.2 L408.3 192.6 L409.3 192.5 L410.3 192.2 L411.3 192.3 L412.3 192.1 L413.3 192.6 L414.3 193.1 L415.3 192.5 L416.3 191.9 L417.3 192.4 L418.3 192.9 L419.3 191.9 L419.3 191.2 L420.3 191.7 L421.3 192.4 L422.3 193.0 L423.3 193.0 L424.3 192.5 L425.3 192.5 L426.3 192.9 L427.3 192.9 L428.3 192.9 L429.3 193.1 L430.3 192.8 L431.3 192.2 L432.3 191.4 L433.3 191.3 L434.3 192.2 L435.3 192.4 L436.3 191.8 L437.3 191.9 L438.3 192.1 L439.3 192.0 L440.3 192.3 L441.3 192.4 L442.3 191.7 L443.3 191.4 L444.3 191.3 L445.3 191.1 L446.3 191.7 L447.0 192.4 L447.3 192.4 L448.3 191.7 L449.3 191.5 L450.3 191.8 L451.3 191.7 L452.3 191.5 L453.3 191.7 L454.3 191.8 L455.3 191.1 L456.3 191.1 L457.3 191.3 L458.3 190.4 L459.3 190.3 L460.3 190.8 L461.3 190.6 L462.3 190.4 L463.3 190.6 L464.3 190.9 L465.3 190.5 L466.3 189.8 L467.3 189.7 L468.3 190.0 L469.3 190.4 L470.3 190.6 L471.3 190.2 L472.3 189.9 L473.3 190.0 L474.3 190.5 L475.3 190.8 L476.3 190.8 L477.3 190.8 L478.3 190.9 L479.3 190.5 L480.3 189.8 L481.3 189.6 L482.3 189.3 L483.3 189.6 L484.3 190.1 L485.3 189.5 L486.3 189.1 L487.3 189.4 L488.3 189.4 L489.3 189.4 L490.3 189.4 L491.3 189.2 L492.3 189.4 L493.3 189.8 L494.3 189.9 L495.3 189.6 L496.3 189.6 L497.3 189.4 L498.3 188.6 L499.3 188.5 L500.3 188.9 L501.3 188.8 L502.3 188.5 L503.3 188.2 L504.3 187.6 L504.7 187.7 L505.3 188.1 L506.3 188.0 L507.3 187.7 L508.3 188.0 L509.3 187.8 L510.3 187.1 L511.3 187.4 L512.3 187.8 L513.3 187.2 L514.3 187.3 L515.3 187.7 L516.3 187.6 L517.3 187.2 L518.3 186.7 L519.3 186.4 L520.3 186.4 L521.3 186.3 L522.3 186.1 L523.3 185.8 L524.3 185.7 L525.3 185.9 L526.3 186.9 L527.3 187.5 L528.3 187.2 L529.3 186.6 L530.3 185.7 L531.3 185.6 L532.3 186.1 L533.3 186.0 L534.3 185.9 L535.3 185.5 L536.3 184.6 L537.3 184.5 L538.3 184.6 L539.3 184.4 L540.3 184.3 L541.3 184.5 L542.3 184.5 L543.3 184.7 L544.3 185.1 L545.3 184.8 L546.3 184.7 L547.3 185.0 L548.3 184.6 L549.3 183.7 L550.3 183.4 L551.3 183.0 L552.3 182.7 L553.3 182.9 L554.3 183.0 L555.3 182.5 L556.3 182.1 L557.3 182.1 L558.3 181.9 L559.3 182.0 L560.3 182.6 L561.3 182.7 L562.3 182.5 L562.4 182.9 L563.3 182.6 L564.3 181.9 L565.3 182.0 L566.3 182.3 L567.3 182.0 L568.3 181.7 L569.3 181.6 L570.3 181.9 L571.3 182.1 L572.3 181.6 L573.3 180.8 L574.3 180.5 L575.3 180.9 L576.3 181.1 L577.3 181.3 L578.3 181.7 L579.3 181.3 L580.3 180.4 L581.3 180.1 L582.3 180.1 L583.3 180.1 L584.3 180.1 L585.3 179.9 L586.3 179.6 L587.3 179.3 L588.3 179.2 L589.3 179.4 L590.3 180.0 L591.3 180.5 L592.3 179.8 L593.3 179.0 L594.3 178.9 L595.3 179.5 L596.3 180.1 L597.3 180.6 L598.3 179.9 L599.3 178.7 L600.3 179.1 L601.3 179.8 L602.3 179.8 L603.3 179.8 L604.3 179.4 L605.3 178.4 L606.3 177.9 L607.3 177.9 L608.3 178.1 L609.3 178.5 L610.3 178.8 L611.3 178.8 L612.3 178.5 L612.8 178.4 L613.3 178.2 L614.3 177.9 L615.3 177.6 L616.3 177.7 L617.3 178.0 L618.3 178.3 L619.3 178.8 L620.3 179.3 L621.3 179.3 L622.3 178.7 L623.3 178.4 L624.3 178.7 L625.3 179.1 L626.3 179.3 L627.3 179.2 L627.3 179.1 L628.3 180.0 L629.3 181.0 L630.3 181.9 L631.3 183.2 L632.3 183.9 L633.3 184.4 L634.3 185.4 L634.5 185.9 L635.3 185.4 L636.3 184.3 L637.3 182.8 L638.3 181.1 L639.3 180.2 L640.3 179.8 L641.3 178.3 L641.7 177.5 L642.3 178.5 L643.3 179.2 L644.3 178.7 L645.3 178.0 L646.3 177.8 L647.3 177.9 L648.3 177.6 L649.3 176.6 L650.3 176.0 L651.3 176.2 L652.3 176.0 L653.3 175.5 L654.3 175.8 L655.3 176.1 L656.3 175.7 L657.3 175.2 L658.3 175.1 L659.3 175.4 L660.3 175.5 L661.3 175.4 L662.3 175.5 L663.3 175.7 L663.3 175.4 L664.3 175.0 L665.3 175.1 L666.3 175.8 L667.3 176.4 L668.3 176.3 L669.3 175.9 L670.3 175.7 L671.3 176.3 L672.3 176.9 L673.3 176.7 L674.3 176.1 L675.3 175.5 L676.3 175.2 L677.3 175.4 L678.3 175.5 L679.3 175.0 L680.3 175.1 L681.3 175.7 L682.3 176.2 L683.3 176.1 L684.3 175.9 L684.9 176.4 L685.3 176.3 L686.3 175.7 L687.3 175.6 L688.3 175.2 L689.3 174.5 L690.3 174.8 L691.3 174.9 L692.3 173.8 L693.3 172.7 L694.3 172.4 L695.3 172.3 L696.3 172.2 L697.3 172.4 L697.3 172.4 L698.3 171.9 L699.3 171.5 L700.3 171.3 L701.3 171.8 L702.3 171.8 L703.3 171.6 L704.3 171.9 L705.3 171.9 L706.3 171.7 L707.3 171.5 L708.3 171.1 L709.3 170.5 L710.3 170.1 L711.3 169.8 L712.3 169.9 L713.3 169.4 L714.3 168.7 L715.3 170.1 L716.3 171.6 L717.3 170.6 L718.3 169.2 L719.3 169.6 L720.3 170.5 L721.3 170.5 L722.3 170.2 L723.3 170.8 L724.3 171.2 L725.3 170.7 L726.3 170.5 L727.3 170.7 L728.3 170.8 L729.3 170.8 L730.3 170.4 L731.3 169.9 L732.3 169.8 L733.3 169.8 L734.3 169.6 L735.3 169.5 L736.3 169.4 L737.3 169.6 L738.3 170.0 L739.3 170.0 L740.3 170.0 L741.3 169.7 L742.3 169.1 L743.3 169.2 L744.3 169.2 L745.3 168.9 L746.3 168.9 L747.3 169.1 L748.3 169.3 L749.3 168.9 L750.3 168.7 L751.3 169.2 L752.3 169.6 L753.3 169.6 L754.3 169.5 L755.3 169.5 L756.3 169.3 L757.3 168.9 L758.3 168.7 L759.3 168.9 L760.3 169.2 L761.3 168.7 L762.3 167.7 L763.3 167.9 L764.3 168.3 L765.3 168.1 L766.3 168.1 L767.3 168.4 L768.3 168.7 L769.3 168.6 L770.3 168.4 L771.3 168.9 L772.3 169.2 L773.3 168.6 L774.3 168.1 L774.8 168.0 L775.3 167.9 L776.3 167.8 L777.3 167.7 L778.3 167.0 L779.3 167.0 L780.3 167.6 L781.3 168.1 L782.3 167.8 L783.3 166.9 L784.3 167.2 L785.3 167.8 L786.3 167.6 L787.3 167.3 L788.3 167.5 L789.3 167.7 L790.3 167.8 L791.3 167.5 L792.3 166.9 L793.3 167.3 L794.3 167.6 L795.3 166.7 L796.3 166.4 L797.3 166.9 L798.3 166.9 L799.3 166.9 L800.3 167.3 L801.3 167.2 L802.3 166.2 L803.3 165.4 L804.3 165.7 L805.3 166.5 L806.3 167.0 L807.3 166.4 L808.3 166.2 L809.3 166.7 L810.3 166.4 L811.3 165.6 L812.3 165.1 L813.3 165.6 L814.3 165.8 L815.3 164.8 L816.3 164.5 L817.3 165.1 L818.3 165.6 L819.3 165.4 L820.3 165.0 L821.3 164.8 L822.3 165.1 L823.3 165.1 L824.3 164.8 L825.3 164.9 L826.3 165.1 L827.3 164.8 L828.3 164.5 L829.3 164.3 L830.3 164.1 L831.3 164.5 L832.3 164.4 L833.3 164.0 L834.3 164.0 L835.3 163.9 L836.3 163.9 L837.3 163.8 L838.3 163.3 L839.3 163.0 L840.3 163.5 L841.3 164.1 L842.3 163.7 L843.3 162.8 L844.3 162.4 L845.3 162.9 L846.3 162.9 L847.3 162.8 L848.3 163.0 L849.3 162.4 L850.3 162.4 L851.3 163.3 L852.3 163.7 L852.3 163.6 L853.3 163.0 L854.3 162.8 L855.3 162.5 L856.3 162.5 L857.3 163.4 L858.3 163.5 L859.3 162.4 L860.3 161.7 L861.3 162.1 L862.3 162.9 L863.3 163.4 L864.3 162.7 L865.3 161.6 L866.3 161.8 L867.3 162.0 L868.3 161.1 L869.3 160.5 L870.3 160.6 L871.3 160.8 L872.3 161.5 L873.3 162.4 L874.3 162.5 L875.3 162.1 L876.3 161.7 L877.3 161.6 L878.3 161.5 L879.3 161.4 L880.3 161.5 L881.3 161.3 L882.3 160.8 L883.3 160.6 L884.3 160.8 L885.3 160.6 L886.3 160.4 L887.3 160.9 L888.3 161.6 L889.3 161.3 L890.3 160.7 L891.3 160.5 L892.3 160.8 L893.3 161.3 L894.3 161.1 L895.3 160.8 L896.3 161.0 L897.3 160.7 L898.3 160.6 L899.3 161.3 L900.3 161.3 L901.3 160.5 L902.3 159.5 L903.3 159.7 L904.3 160.4 L905.3 160.0 L906.3 159.4 L906.4 159.6 L907.3 160.0 L908.3 160.0 L909.3 160.1 L910.3 160.3 L911.3 160.2 L912.3 159.9 L913.3 159.4 L914.3 159.0 L915.3 159.3 L916.3 159.8 L917.3 159.8 L918.3 159.7 L919.3 159.4 L920.3 158.7 L921.3 158.8 L922.3 159.1 L923.3 159.0 L924.3 159.5 L925.3 159.7 L926.3 158.9 L927.3 158.5 L928.3 158.8 L929.3 159.0 L930.3 159.1 L931.3 159.3 L932.3 159.3 L933.3 159.0 L934.3 159.0 L935.3 159.2 L936.3 158.9 L937.3 159.0 L938.3 159.2 L939.3 158.8 L940.3 158.9 L941.3 159.0 L942.3 159.0 L943.3 159.1 L944.3 158.9 L945.3 158.5 L946.3 158.8 L947.3 159.4 L948.3 159.3 L949.3 159.6 L950.3 160.3 L951.3 160.3 L952.3 159.7 L953.3 159.5 L954.3 159.8 L955.3 159.9 L956.3 160.0 L957.3 160.1 L958.3 159.9 L959.3 159.1 L960.3 158.2 L960.5 158.5 L961.3 159.1 L962.3 159.2 L963.3 159.2 L964.3 158.8 L965.3 158.6 L966.3 158.2 L967.3 158.0 L968.3 158.8 L969.3 158.4 L970.3 158.2 L971.3 159.1 L972.3 159.0 L973.3 158.5 L974.3 159.1 L975.3 159.4 L976.3 158.6 L977.3 157.8 L978.3 158.2 L979.3 158.5 L980.3 158.3 L981.3 158.8 L982.3 158.9 L983.3 158.5 L984.3 158.5 L985.3 158.7 L986.3 158.7 L987.3 159.3 L988.3 159.7 L989.3 158.8 L990.3 158.3 L991.3 158.5 L992.3 158.9 L993.3 159.6 L994.3 159.1 L995.3 158.3 L996.3 158.7 L997.3 158.5 L998.3 157.5 L999.3 157.9 L1000.3 159.0 L1001.3 159.2 L1002.3 158.9 L1003.3 159.0 L1004.3 159.2 L1005.3 159.6 L1006.3 160.1 L1007.3 159.8 L1008.3 159.2 L1009.3 159.4 L1010.3 159.5 L1011.3 159.7 L1012.3 159.7 L1013.3 159.8 L1014.3 160.0 L1015.3 160.0 L1016.3 159.4 L1017.3 158.9 L1018.3 159.6 L1019.3 160.3 L1020.3 160.4 L1021.3 160.2 L1022.3 160.2 L1023.3 160.1 L1024.3 159.4 L1025.3 159.2 L1026.3 159.5 L1027.3 159.4 L1028.3 159.8 L1029.3 160.4 L1030.3 160.3 L1031.3 160.0 L1032.3 159.6 L1033.3 159.3 L1034.3 160.0 L1035.3 160.7 L1036.3 160.1 L1037.3 159.3 L1038.3 159.8 L1039.3 160.1 L1040.3 160.0 L1041.3 159.7 L1042.3 159.7 L1043.3 160.6 L1044.3 160.7 L1045.3 160.2 L1046.3 160.0 L1047.3 159.7 L1048.3 160.0 L1049.3 161.0 L1050.3 161.2 L1051.3 160.7 L1052.3 161.2 L1053.3 161.5 L1054.3 161.3 L1055.3 162.0 L1056.3 162.8 L1057.3 162.4 L1058.3 161.6 L1059.3 161.7 L1060.3 162.2 L1061.3 162.0 L1062.3 161.4 L1063.3 161.4 L1064.3 162.3 L1065.3 162.8 L1066.3 162.5 L1067.3 161.6 L1068.3 159.1 L1069.3 155.3 L1070.3 151.3 L1071.3 150.5 L1072.3 151.4 L1073.3 152.3 L1074.3 152.5 L1075.3 152.9 L1076.3 152.4 L1077.3 152.6 L1078.3 153.9 L1079.3 153.2 L1080.3 151.9 L1081.3 152.6 L1082.3 153.3 L1083.3 153.2 L1084.3 153.6 L1085.3 154.2 L1086.3 153.7 L1087.3 152.6 L1088.3 153.1 L1089.3 154.9 L1090.3 154.9 L1091.3 153.0 L1092.3 153.2 L1093.3 154.8 L1094.3 154.9 L1095.3 153.8 L1096.3 152.7 L1097.3 153.4 L1098.3 154.9 L1099.3 154.5 L1100.3 153.9 L1101.3 154.9 L1102.3 155.7 L1103.3 156.5 L1104.3 157.1 L1105.3 155.4 L1106.3 154.1 L1107.3 154.4 L1108.3 154.2 L1109.3 153.7 L1110.3 154.6 L1111.3 155.5 L1112.3 155.9 L1113.3 157.1 L1114.3 157.3 L1115.3 156.2 L1116.3 155.9 L1117.3 157.0 L1118.3 157.0 L1119.3 154.8 L1120.3 153.0 L1121.3 153.8 L1122.3 155.4 L1123.3 154.9 L1124.3 154.6 L1125.3 155.1 L1126.3 156.0 L1127.3 157.3 L1128.3 157.9 L1129.3 158.2 L1130.3 157.9 L1131.3 156.1 L1132.3 155.8 L1133.3 157.4 L1134.3 158.0 L1135.3 157.4 L1136.3 157.0 L1137.3 158.0 L1138.3 159.0 L1139.3 159.1 L1140.3 159.3 L1141.3 157.8 L1142.3 156.4 L1143.3 157.7 L1144.3 159.3 L1145.3 159.5 L1146.3 158.7 L1147.3 158.8 L1148.3 159.4 L1149.3 159.1 L1150.3 157.9 L1151.3 156.8 L1152.3 156.4 L1153.3 156.9 L1154.3 158.0 L1155.3 159.0 L1156.3 159.6 L1157.3 159.7 L1158.3 159.2 L1159.3 158.4 L1160.3 157.6 L1161.3 158.0 L1162.3 159.1 L1163.3 159.4 L1164.3 159.2 L1165.3 157.9 L1166.3 157.0 L1167.3 157.8 L1168.3 157.3 L1169.3 156.4 L1170.3 157.5 L1171.3 158.7 L1172.3 158.4 L1173.3 157.9 L1174.3 157.9 L1175.3 157.8 L1176.3 157.4 L1176.8 156.1 L1177.3 155.9 L1178.3 157.5 L1179.3 158.3 L1180.3 158.7 L1181.3 157.8 L1182.3 156.5 L1183.3 156.8 L1184.3 157.3 L1185.3 156.4 L1186.3 156.0 L1187.3 157.7 L1188.3 158.4 L1189.3 157.9 L1190.3 157.7 L1191.3 157.4 L1192.3 157.7 L1193.3 157.8 L1194.3 157.2 L1195.3 157.8 L1196.3 159.2 L1197.3 159.6 L1198.3 158.8 L1199.3 157.6 L1200.0 156.9 L1200.3 157.3 L1201.3 158.6 L1202.3 158.9 L1203.3 157.4 L1204.3 157.3 L1205.3 158.4 L1206.3 158.7 L1207.3 158.1 L1208.3 157.7 L1209.3 158.4 L1210.3 158.4 L1211.3 158.4 L1212.3 159.2 L1213.3 158.2 L1214.3 156.8 L1215.3 157.4 L1216.3 158.0 L1217.3 157.7 L1218.3 158.1 L1219.3 158.3 L1220.3 157.7 L1221.3 157.4 L1222.3 157.5 L1223.3 157.8 L1224.3 158.6 L1225.3 159.0 L1226.3 158.5 L1227.3 158.4 L1228.3 158.8 L1229.3 158.5 L1230.3 157.6 L1231.3 157.8 L1232.3 158.4 L1233.3 158.4 L1234.3 157.9 L1235.3 158.2 L1236.3 158.1 L1237.3 157.6 L1238.3 157.1 L1239.3 156.6 L1240.3 156.6 L1241.3 157.1 L1242.3 157.9 L1243.3 158.2 L1244.3 157.3 L1245.3 157.0 L1246.3 157.4 L1247.3 157.5 L1248.3 157.4 L1249.3 157.5 L1250.3 157.8 L1251.3 157.4 L1252.3 156.9 L1253.3 156.9 L1254.3 156.3 L1255.3 155.8 L1256.3 156.2 L1257.3 156.6 L1258.3 156.7 L1259.3 157.3 L1260.3 157.7 L1261.3 157.4 L1262.3 157.5 L1263.3 157.3 L1264.3 156.4 L1265.3 156.4 L1266.3 156.9 L1267.3 156.7 L1268.3 156.8 L1269.3 157.2 L1270.3 157.5 L1270.9 157.5 L1271.3 157.1 L1272.3 157.2 L1273.3 157.5 L1274.3 157.5 L1275.3 157.5 L1276.3 157.1 L1277.3 157.3 L1278.3 157.3 L1279.3 156.5 L1280.3 156.8 L1281.3 157.3 L1282.3 156.9 L1283.3 157.0 L1284.3 157.7 L1285.3 157.8 L1286.3 157.1 L1287.3 157.0 L1288.3 158.1 L1289.3 158.8 L1290.3 158.7 L1291.3 158.2 L1291.9 158.3 L1292.3 158.6 L1293.3 158.2 L1294.3 158.7 L1295.3 159.2 L1296.3 158.7 L1297.3 158.8 L1298.3 159.5 L1299.3 160.3 L1300.3 161.2 L1301.3 161.9 L1302.3 161.8 L1303.3 161.9 L1304.3 162.8 L1305.3 163.4 L1306.3 163.7 L1307.3 164.3 L1308.3 164.9 L1309.3 165.0 L1310.3 165.2 L1310.3 165.5 L1311.3 166.2 L1312.3 166.7 L1313.3 166.9 L1314.3 167.3 L1315.3 167.9 L1316.3 168.1 L1317.3 168.7 L1318.3 169.9 L1319.3 169.7 L1320.3 169.3 L1321.3 170.3 L1322.3 171.1 L1323.3 171.2 L1324.3 171.6 L1325.3 171.9 L1326.1 171.5 L1326.3 171.5 L1327.3 172.2 L1328.3 172.2 L1329.3 172.2 L1330.3 172.8 L1331.3 173.4 L1332.3 173.2 L1333.3 173.0 L1334.3 173.7 L1335.3 174.2 L1336.3 174.5 L1337.3 174.4 L1338.3 174.1 L1339.2 174.6 L1339.3 174.7 L1340.3 174.3 L1341.3 174.4 L1342.3 174.6 L1343.3 174.4 L1344.3 173.9 L1345.3 173.6 L1346.3 173.7 L1347.3 172.8 L1348.3 172.0 L1349.3 171.8 L1350.3 171.3 L1351.3 171.0 L1352.3 170.7 L1352.3 170.3 L1353.3 169.6 L1354.3 169.5 L1355.3 169.8 L1356.3 169.3 L1357.3 168.5 L1358.3 168.0 L1359.3 167.4 L1360.3 167.2 L1361.3 167.1 L1362.3 166.8 L1363.3 166.2 L1364.3 165.3 L1365.3 164.8 L1366.3 164.5 L1367.3 164.2 L1368.1 164.0 L1368.3 164.1 L1369.3 164.2 L1370.3 163.6 L1371.3 163.1 L1372.3 162.8 L1373.3 162.2 L1374.3 162.3 L1375.3 162.9 L1376.3 163.0 L1377.3 162.3 L1378.3 162.1 L1379.3 162.7 L1380.3 163.1 L1381.3 162.8 L1382.3 162.1 L1383.3 162.1 L1383.8 162.6 L1384.3 162.6 L1385.3 162.3 L1386.3 162.3 L1387.3 162.4 L1388.3 162.6 L1389.3 163.1 L1390.3 163.4 L1391.3 163.4 L1392.3 163.3 L1393.3 163.6 L1394.3 164.2 L1394.3 163.9 L1395.3 164.0 L1396.3 165.0 L1397.3 165.1 L1398.3 165.2 L1399.3 166.3 L1400.3 167.4 L1401.3 168.2 L1402.3 168.2 L1403.3 168.5 L1404.3 169.7 L1405.3 170.9 L1406.3 171.6 L1407.3 172.2 L1408.3 172.2 L1409.3 172.6 L1410.1 173.2 L1410.3 173.6 L1411.3 174.0 L1412.3 174.0 L1413.3 174.7 L1414.3 176.3 L1415.3 177.6 L1416.3 177.6 L1417.3 177.6 L1418.3 178.5 L1419.3 179.9 L1420.3 181.4 L1421.3 182.4 L1422.3 182.3 L1423.3 182.0 L1424.3 182.7 L1425.3 183.7 L1425.8 184.0 L1426.3 183.6 L1427.3 183.5 L1428.3 184.5 L1429.3 185.6 L1430.3 186.7 L1431.3 188.1 L1432.3 188.2 L1433.3 187.9 L1433.7 188.0 L1434.3 188.2 L1435.3 188.6 L1436.3 188.2 L1437.3 187.8 L1438.3 187.5 L1439.3 186.8 L1440.3 186.5 L1441.3 186.0 L1442.3 184.9 L1443.3 184.4 L1444.2 184.4 L1444.3 184.4 L1445.3 184.0 L1446.3 184.1 L1447.3 184.8 L1448.3 184.6 L1449.3 184.2 L1450.3 184.9 L1451.3 186.3 L1452.3 186.8 L1453.3 187.0 L1454.3 187.7 L1455.3 187.9 L1456.3 187.7 L1457.3 188.0 L1458.3 188.3 L1459.3 188.6 L1460.3 188.7 L1461.3 188.5 L1462.3 189.1 L1462.6 189.7 L1463.3 189.4 L1464.3 188.8 L1465.3 188.4 L1466.3 188.3 L1467.3 188.1 L1468.3 187.7 L1469.3 186.8 L1470.3 185.4 L1471.3 184.8 L1472.3 185.0 L1473.3 185.0 L1474.3 184.2 L1475.3 183.2 L1475.7 182.7 L1476.3 182.4 L1477.3 181.7 L1478.3 180.9 L1479.3 180.0 L1480.3 179.0 L1481.3 178.5 L1482.3 177.3 L1483.3 175.6 L1484.3 174.9 L1485.3 174.1 L1486.2 172.8 L1486.3 172.5 L1487.3 171.6 L1488.3 170.8 L1489.3 169.2 L1490.3 167.7 L1491.3 167.2 L1492.3 166.3 L1493.3 164.8 L1494.1 163.9 L1494.3 163.7 L1495.3 163.2 L1496.3 162.9 L1497.3 162.1 L1498.3 161.3 L1499.3 160.6 L1500.3 159.9 L1501.3 159.5 L1502.3 159.2 L1503.3 158.8 L1504.3 158.8 L1504.6 158.6 L1505.3 158.6 L1506.3 159.3 L1507.3 158.7 L1508.3 157.7 L1509.3 157.5 L1510.3 157.9 L1511.3 157.9 L1512.3 157.8 L1513.3 158.0 L1514.3 157.8 L1515.3 157.4 L1516.3 157.4 L1517.3 157.3 L1518.3 156.8 L1519.3 156.8 L1520.3 157.2 L1521.3 158.0 L1522.3 158.5 L1523.3 157.6 L1524.3 156.9 L1525.3 156.6 L1526.3 156.3 L1527.3 156.8 L1528.3 157.5 L1529.3 157.6 L1530.3 157.2 L1531.3 156.7 L1532.3 157.0 L1533.3 157.6 L1534.3 157.5 L1535.3 157.2 L1536.3 157.1 L1537.3 157.0 L1538.3 156.8 L1539.3 157.0 L1540.3 157.0 L1541.3 156.9 L1541.4 156.9 L1542.3 156.9 L1543.3 156.4 L1544.3 155.9 L1545.3 156.6 L1546.3 158.2 L1547.3 159.1 L1548.3 159.0 L1549.3 158.7 L1550.3 158.9 L1551.3 159.1 L1552.3 159.3 L1553.3 159.8 L1554.3 159.9 L1554.5 159.4 L1555.3 159.8 L1556.3 160.0 L1557.3 160.5 L1558.3 161.8 L1559.3 163.0 L1560.3 163.7 L1561.3 164.3 L1562.3 165.1 L1563.3 165.6 L1564.3 166.2 L1565.0 167.0 L1565.3 167.2 L1566.3 168.0 L1567.3 169.5 L1568.3 171.0 L1569.3 172.5 L1570.3 174.1 L1571.3 175.2 L1572.3 176.5 L1573.3 178.1 L1573.3 178.0 L1574.3 180.5 L1575.3 182.9 L1576.3 184.5 L1577.3 186.0 L1578.3 187.8 L1579.3 189.9 L1580.3 192.4 L1581.3 194.6 L1582.3 196.3 L1583.3 198.0 L1584.3 200.5 L1585.3 202.6 L1586.3 204.7 L1586.4 205.4 L1587.3 207.4 L1588.3 209.8 L1589.3 213.2 L1590.3 216.1 L1591.3 218.9 L1592.3 221.5 L1593.3 223.3 L1594.3 225.1 L1594.3 225.5 L1595.3 227.1 L1596.3 228.2 L1597.3 228.6 L1598.3 229.5 L1599.3 231.1 L1599.5 231.7 L1600.3 232.7 L1601.3 234.0 L1602.3 235.8 L1603.3 237.7 L1604.3 240.1 L1605.3 243.1 L1606.3 246.8 L1607.3 250.1 L1608.3 252.7 L1609.3 254.9 L1610.3 257.0 L1611.3 259.3 L1612.3 261.8 L1612.7 263.1 L1613.3 265.0 L1614.3 267.5 L1615.3 269.9 L1616.3 271.8 L1617.3 274.3 L1618.3 277.4 L1619.3 280.3 L1620.3 282.7 L1621.3 285.1 L1622.3 288.2 L1623.3 291.2 L1624.3 293.5 L1625.3 295.8 L1625.8 297.1 L1626.3 298.4 L1627.3 301.1 L1628.3 303.5 L1629.3 305.3 L1630.3 307.5 L1631.3 310.0 L1632.3 312.3 L1633.3 314.5 L1634.3 317.2 L1635.3 319.5 L1636.3 321.6 L1637.3 324.2 L1638.3 326.9 L1638.9 328.3 L1639.3 329.9 L1640.3 333.2 L1641.3 335.8 L1642.3 338.7 L1643.3 342.0 L1644.3 345.2 L1645.3 348.4 L1646.3 351.9 L1647.3 355.5 L1648.3 359.3 L1649.3 362.8 L1649.4 362.4 L1650.3 365.3 L1651.3 368.9 L1652.3 372.0 L1653.3 376.0 L1654.3 380.3 L1655.3 384.4 L1656.3 388.8 L1657.3 392.2 L1658.3 395.5 L1658.6 397.0 L1659.3 399.0 L1660.3 402.2 L1661.3 405.8 L1662.3 409.3 L1663.3 412.9 L1664.3 415.6 L1665.3 417.5 L1666.3 420.5 L1667.3 423.9 L1668.3 426.6 L1669.3 429.4 L1670.3 432.6 L1671.3 435.9 L1672.3 440.2 L1673.1 442.7 L1673.3 441.8 L1674.3 444.4 L1675.3 448.1 L1676.3 451.1 L1677.3 454.2 L1678.3 457.7 L1679.3 460.9 L1680.3 464.0 L1681.3 467.3 L1682.3 470.3 L1683.3 473.6 L1684.3 477.5 L1685.3 480.9 L1686.3 484.0 L1687.3 487.6 L1688.3 491.4 L1688.8 492.9 L1689.3 495.2 L1690.3 500.2 L1691.3 504.5 L1692.3 508.7 L1693.3 513.8 L1694.3 518.6 L1695.3 522.7 L1696.3 527.2 L1697.3 532.1 L1698.3 536.3 L1699.3 540.6 L1699.3 540.8 L1700.3 545.1 L1701.3 549.7 L1702.3 554.9 L1703.3 559.8 L1704.3 564.7 L1705.3 569.5 L1706.3 573.8 L1707.3 578.2 L1708.3 582.8 L1709.3 586.6 L1709.8 588.2 L1710.3 590.1 L1711.3 595.1 L1712.3 598.5 L1712.4 598.2 L1713.3 597.0 L1714.3 594.7 L1715.3 591.9 L1716.3 589.3 L1717.3 585.8 L1718.3 581.9 L1719.3 578.6 L1720.3 575.9 L1720.3 575.9 L1721.3 573.1 L1722.3 570.4 L1723.3 567.7 L1724.3 565.1 L1725.3 562.7 L1726.3 560.4 L1727.3 558.0 L1728.2 556.0 L1728.3 555.9 L1729.3 554.9 L1730.3 554.0 L1731.3 552.9 L1732.3 551.3 L1733.3 550.4 L1734.3 550.3 L1735.3 549.1 L1736.1 547.5 L1736.3 547.1 L1737.3 544.7 L1738.3 541.3 L1739.3 537.9 L1740.3 534.3 L1741.3 530.0 L1741.3 529.6 L1742.3 525.2 L1743.3 520.3 L1744.3 514.4 L1745.3 507.6 L1746.3 501.7 L1746.6 499.9 L1747.3 495.3 L1748.3 490.1 L1749.3 484.8 L1750.3 479.3 L1751.3 475.1 L1752.3 471.8 L1753.3 467.5 L1754.3 462.3 L1754.5 461.1 L1755.3 458.7 L1756.3 456.6 L1757.3 453.8 L1758.3 450.3 L1759.3 447.9 L1760.3 446.1 L1761.3 444.0 L1762.3 441.5 L1762.3 441.8 L1763.3 439.7 L1764.3 436.9 L1765.3 434.8 L1766.3 432.6 L1767.3 430.1 L1768.3 428.6 L1769.3 427.2 L1770.3 425.4 L1771.3 423.8 L1772.3 421.7 L1772.8 420.1 L1773.3 419.6 L1774.3 418.3 L1775.3 416.1 L1776.3 413.9 L1777.3 412.4 L1778.3 410.4 L1779.3 408.2 L1780.3 406.4 L1781.3 404.8 L1782.0 404.0 L1782.3 403.9 L1783.3 403.1 L1784.3 402.3 L1785.3 401.5 L1786.0 401.4 L1786.3 401.9 L1787.3 403.7 L1788.3 406.3 L1789.3 409.4 L1790.3 411.9 L1791.2 413.1 L1791.3 413.2 L1792.3 410.7 L1793.3 407.0 L1794.3 403.7 L1795.3 401.2 L1796.3 400.0 L1796.5 400.1 L1797.3 399.7 L1798.3 399.6 L1799.3 399.9 L1800.3 400.6 L1801.3 401.2 L1801.7 400.8 L1802.3 400.1 L1803.3 398.8 L1804.3 396.4 L1805.3 394.2 L1806.3 392.0 L1807.3 388.7 L1808.3 385.5 L1809.3 383.9 L1809.6 384.8 L1810.3 385.4 L1811.3 385.4 L1812.3 385.5 L1813.3 384.8 L1814.3 384.2 L1814.9 383.6 L1815.3 382.7 L1816.3 382.9 L1817.3 383.9 L1818.3 384.7 L1819.3 386.2 L1820.3 387.8 L1821.3 388.3 L1822.3 388.4 L1822.7 388.7 L1823.3 389.5 L1824.3 390.6 L1825.3 391.4 L1826.3 392.2 L1827.3 393.1 L1828.3 393.8 L1829.3 395.0 L1830.3 396.3 L1831.3 396.9 L1832.3 397.2 L1833.2 398.3 L1833.3 398.9 L1834.3 398.9 L1835.3 398.9 L1836.3 399.4 L1837.3 399.7 L1838.3 399.7 L1839.3 400.2 L1840.3 400.8 L1841.3 401.1 L1842.3 401.1 L1843.3 401.9 L1843.8 402.5 L1844.3 403.1 L1845.3 404.6 L1846.3 405.5 L1847.3 406.3 L1847.7 407.2 L1848.3 407.6 L1849.3 407.2 L1850.3 406.5 L1851.3 406.5 L1852.3 406.8 L1853.3 407.0 L1854.3 407.0 L1855.3 406.4 L1856.3 406.2 L1856.9 406.8 L1857.3 407.1 L1858.3 406.5 L1859.3 406.0 L1860.3 406.6 L1861.3 406.7 L1862.3 405.9 L1863.3 405.4 L1864.3 405.0 L1865.3 404.7 L1866.1 404.8 L1866.3 405.0 L1867.3 405.1 L1868.3 405.0 L1869.3 405.6 L1870.3 406.6 L1871.3 407.3 L1872.3 408.9 L1873.3 410.8 L1874.3 412.2 L1875.3 412.9 L1875.3 412.7 L1876.3 413.4 L1877.3 414.8 L1878.3 416.6 L1879.3 417.1 L1880.3 417.1 L1881.3 417.4 L1882.3 418.0 L1883.3 419.0 L1884.3 419.9 L1885.3 420.6 L1886.3 421.0 L1887.3 420.8 L1888.3 420.8 L1888.4 421.4 L1889.3 423.1 L1890.3 423.6 L1891.3 423.6 L1892.3 424.5 L1893.3 425.3 L1894.3 425.4 L1895.3 425.9 L1896.3 427.0 L1897.3 428.0 L1898.3 428.7 L1899.3 429.7 L1900.3 430.6 L1901.3 431.4 L1902.3 432.4 L1903.3 433.2 L1904.2 433.5 L1904.3 433.5 L1905.3 434.8 L1906.3 435.6 L1907.3 436.2 L1908.3 437.9 L1909.3 439.3 L1910.3 439.7 L1911.3 440.2 L1912.0 441.2 L1912.3 441.2 L1913.3 441.0 L1914.3 441.8 L1915.3 443.0 L1916.3 442.6 L1917.3 441.1 L1918.3 440.6 L1919.3 441.1 L1920.3 441.5 L1921.3 442.4 L1922.3 443.4 L1922.5 443.3 L1923.3 442.8 L1924.3 445.2 L1925.3 449.4 L1926.3 453.6 L1927.3 457.5 L1927.8 459.2 L1928.3 461.0 L1929.3 464.5 L1930.3 468.8 L1931.3 472.7 L1932.3 475.5 L1933.3 478.4 L1934.3 482.1 L1935.3 486.7 L1935.7 488.5 L1936.3 491.6 L1937.3 496.8 L1938.3 502.6 L1939.3 509.8 L1940.3 516.7 L1940.9 519.1 L1941.3 520.0 L1942.3 524.1 L1943.3 528.5 L1944.3 532.7 L1945.3 536.4 L1946.2 539.3 L1946.3 539.9 L1947.3 545.4 L1948.3 551.5 L1949.3 557.4 L1950.3 563.1 L1951.3 570.0 L1952.3 577.7 L1953.3 585.4 L1954.0 591.1 L1954.3 593.7 L1955.3 604.4 L1956.3 616.2 L1957.3 628.4 L1958.3 639.4 L1959.3 647.6 L1959.3 647.6 L1960.3 653.3 L1961.3 658.5 L1962.3 663.8 L1963.2 668.7 L1963.3 667.9 L1964.3 674.3 L1965.3 683.3 L1966.3 692.4 L1967.3 700.3 L1968.3 708.4 L1968.5 710.8 L1969.3 717.0 L1970.3 723.8 L1971.3 730.1 L1972.3 735.8 L1973.3 741.3 L1973.7 743.9 L1974.3 747.2 L1975.3 753.2 L1976.3 759.2 L1977.3 764.3 L1978.3 768.4 L1979.0 770.0 L1979.3 769.4 L1980.3 768.7 L1981.3 768.3 L1982.3 761.8 L1983.3 758.5 L1984.3 763.9 L1984.7 762.0 L1985.3 760.8 L1986.3 756.8 L1987.3 741.7 L1988.3 736.8 L1989.1 733.9 L1989.3 746.2 L1990.3 745.7 L1991.3 742.0 L1992.3 727.6 L1993.3 726.4 L1994.3 734.4 L1994.9 731.7 L1995.3 731.1 L1996.3 731.3 L1997.3 721.4 L1998.3 720.1 L1999.2 717.1 L1999.3 725.7 L2000.3 722.1 L2001.3 719.5 L2002.3 706.5 L2003.3 702.8 L2003.6 703.1"/>
<path stroke="#b077e0" d="M88.3 976.9 L89.3 976.7 L90.3 976.9 L91.3 977.0 L92.3 976.8 L93.3 977.3 L94.3 978.5 L95.3 978.5 L96.3 977.4 L97.3 976.6 L98.3 976.5 L99.3 977.0 L100.3 977.4 L101.3 977.4 L102.3 977.2 L103.3 977.4 L104.3 977.9 L105.3 977.7 L106.3 977.5 L107.3 977.2 L108.3 976.7 L109.3 977.1 L110.3 977.5 L111.3 977.4 L112.3 977.7 L113.3 978.2 L114.3 978.0 L115.3 976.9 L116.3 976.9 L117.3 977.8 L118.3 978.0 L119.3 977.4 L120.3 977.6 L121.3 977.8 L122.3 977.4 L123.3 977.2 L124.3 977.6 L125.3 977.8 L126.3 977.2 L127.3 977.2 L128.3 978.0 L129.3 977.8 L130.3 976.6 L131.3 976.4 L132.3 976.9 L133.3 977.1 L134.3 976.8 L135.3 976.2 L136.3 976.2 L137.3 977.1 L138.3 977.3 L139.3 976.6 L140.3 976.3 L141.3 976.5 L142.3 976.8 L143.3 976.8 L144.3 976.5 L145.3 976.7 L146.3 977.0 L147.3 976.8 L148.3 977.0 L149.3 977.6 L150.3 977.8 L151.3 977.7 L152.3 977.6 L153.3 977.2 L154.3 977.1 L155.3 977.1 L156.3 977.1 L157.3 976.8 L158.3 976.3 L159.3 975.9 L160.3 976.2 L161.3 976.9 L162.3 977.2 L163.3 977.0 L164.3 976.5 L165.3 975.9 L166.3 975.6 L167.3 975.8 L168.3 976.4 L169.3 976.4 L170.3 976.2 L171.3 976.6 L172.3 976.9 L173.3 976.7 L174.3 976.5 L175.3 976.5 L176.3 976.2 L177.3 976.1 L178.3 976.9 L179.3 977.2 L180.3 976.8 L181.3 977.3 L182.3 977.6 L183.3 976.5 L184.3 975.7 L185.3 975.6 L186.3 976.0 L187.3 976.8 L188.3 976.8 L189.3 976.4 L190.3 976.2 L191.3 976.2 L192.3 976.8 L193.3 976.9 L194.3 976.8 L195.3 976.5 L196.3 976.6 L197.3 976.5 L198.3 976.2 L199.3 976.4 L200.3 976.4 L201.3 976.1 L202.3 976.4 L203.3 977.5 L204.3 978.1 L205.3 977.3 L206.3 976.4 L207.3 976.5 L208.3 976.9 L209.3 976.6 L210.3 976.0 L211.3 976.1 L212.3 976.6 L213.3 976.7 L214.3 977.2 L215.3 977.8 L216.3 977.7 L217.3 977.1 L218.3 976.7 L219.3 977.0 L220.3 977.3 L221.3 977.1 L222.3 977.0 L223.3 977.0 L224.3 976.5 L225.3 976.6 L226.3 976.7 L227.3 976.3 L228.3 976.5 L229.3 976.9 L230.3 976.9 L230.7 977.2 L231.3 977.5 L232.3 977.0 L233.3 976.6 L234.3 976.7 L235.3 976.9 L236.3 977.0 L237.3 976.8 L238.3 976.9 L239.3 977.3 L240.3 977.6 L241.3 977.5 L242.3 977.6 L243.3 978.7 L244.3 979.0 L245.3 978.6 L246.3 978.6 L247.3 978.5 L248.3 978.9 L249.3 979.5 L250.3 980.1 L251.3 980.4 L252.3 980.8 L252.3 981.1 L253.3 980.9 L254.3 981.2 L255.3 982.1 L256.3 982.2 L257.3 982.3 L258.3 983.0 L259.3 983.4 L260.3 983.7 L261.3 984.6 L262.3 985.5 L263.3 985.6 L264.3 986.1 L265.3 987.2 L266.3 987.8 L267.3 987.7 L268.3 988.4 L269.3 989.9 L270.3 990.8 L271.3 991.2 L272.3 992.0 L273.3 993.1 L274.0 993.3 L274.3 993.4 L275.3 994.4 L276.3 994.6 L277.3 995.1 L278.3 996.6 L279.3 997.0 L280.3 997.2 L281.3 998.2 L282.3 999.1 L283.3 1000.0 L284.3 1000.6 L285.3 1001.2 L286.3 1001.8 L287.3 1002.4 L288.3 1003.9 L289.3 1005.5 L290.3 1005.8 L291.3 1005.7 L292.3 1006.1 L293.3 1007.3 L294.3 1008.6 L295.3 1008.8 L296.3 1009.1 L297.3 1010.4 L298.3 1011.3 L299.3 1011.8 L300.3 1011.9 L301.3 1012.1 L302.3 1013.5 L302.8 1014.3 L303.3 1014.8 L304.3 1015.4 L305.3 1015.7 L306.3 1016.2 L307.3 1017.1 L308.3 1018.1 L309.3 1019.0 L310.3 1020.5 L311.3 1022.0 L312.3 1022.5 L313.3 1023.3 L314.3 1024.4 L315.3 1024.8 L316.3 1025.0 L317.3 1026.0 L318.3 1026.8 L319.3 1027.1 L320.3 1027.9 L321.3 1029.2 L322.3 1030.6 L323.3 1031.2 L324.3 1031.8 L325.3 1032.7 L326.3 1033.0 L327.3 1033.2 L328.3 1033.9 L329.3 1035.0 L330.3 1035.6 L331.3 1036.1 L331.7 1036.6 L332.3 1037.4 L333.3 1037.6 L334.3 1037.2 L335.3 1037.2 L336.3 1038.1 L337.3 1038.7 L338.3 1038.7 L339.3 1039.5 L340.3 1041.0 L341.3 1041.4 L342.3 1041.3 L343.3 1042.2 L344.3 1043.2 L345.3 1043.2 L346.3 1043.3 L347.3 1043.8 L348.3 1044.5 L349.3 1045.3 L350.3 1046.1 L351.3 1046.3 L352.3 1045.7 L353.3 1045.8 L354.3 1046.6 L355.3 1047.2 L356.3 1047.9 L357.3 1048.6 L358.3 1048.9 L359.3 1049.0 L360.3 1049.2 L360.5 1049.2 L361.3 1049.7 L362.3 1050.2 L363.3 1050.4 L364.3 1050.1 L365.3 1050.3 L366.3 1051.1 L367.3 1051.4 L368.3 1051.3 L369.3 1051.7 L370.3 1052.4 L371.3 1052.6 L372.3 1052.4 L373.3 1052.7 L374.3 1053.8 L375.3 1054.3 L376.3 1054.2 L377.3 1054.3 L378.3 1054.6 L379.3 1054.8 L380.3 1054.8 L381.3 1054.9 L382.3 1055.1 L383.3 1055.5 L384.3 1055.6 L385.3 1055.8 L386.3 1056.5 L387.3 1056.5 L388.3 1056.0 L389.3 1056.1 L389.3 1056.0 L390.3 1056.0 L391.3 1056.5 L392.3 1056.2 L393.3 1055.9 L394.3 1056.5 L395.3 1057.1 L396.3 1057.3 L397.3 1057.2 L398.3 1057.2 L399.3 1057.9 L400.3 1058.2 L401.3 1057.8 L402.3 1057.9 L403.3 1057.6 L404.3 1057.9 L405.3 1059.1 L406.3 1059.5 L407.3 1059.4 L408.3 1059.1 L409.3 1058.4 L410.3 1058.2 L411.3 1058.5 L412.3 1058.8 L413.3 1058.8 L414.3 1059.0 L415.3 1059.1 L416.3 1058.9 L417.3 1058.5 L418.3 1058.0 L419.3 1057.6 L419.3 1057.6 L420.3 1058.1 L421.3 1058.7 L422.3 1058.6 L423.3 1058.6 L424.3 1058.7 L425.3 1058.7 L426.3 1058.4 L427.3 1057.7 L428.3 1058.0 L429.3 1058.3 L430.3 1057.7 L431.3 1057.8 L432.3 1058.3 L433.3 1058.3 L434.3 1058.0 L435.3 1057.9 L436.3 1058.3 L437.3 1058.5 L438.3 1058.1 L439.3 1057.7 L440.3 1057.8 L441.3 1057.5 L442.3 1057.0 L443.3 1056.8 L444.3 1056.5 L445.3 1056.3 L446.3 1057.2 L447.0 1057.4 L447.3 1056.7 L448.3 1056.8 L449.3 1056.7 L450.3 1056.9 L451.3 1057.9 L452.3 1058.1 L453.3 1057.2 L454.3 1056.4 L455.3 1056.4 L456.3 1056.0 L457.3 1056.0 L458.3 1056.1 L459.3 1055.5 L460.3 1055.4 L461.3 1055.5 L462.3 1055.1 L463.3 1054.6 L464.3 1054.4 L465.3 1054.7 L466.3 1054.8 L467.3 1054.5 L468.3 1053.9 L469.3 1053.2 L470.3 1053.4 L471.3 1054.1 L472.3 1054.2 L473.3 1054.0 L474.3 1053.6 L475.3 1052.8 L476.3 1052.1 L477.3 1052.2 L478.3 1052.4 L479.3 1052.3 L480.3 1052.1 L481.3 1052.0 L482.3 1052.0 L483.3 1052.3 L484.3 1052.7 L485.3 1053.0 L486.3 1052.3 L487.3 1051.5 L488.3 1051.8 L489.3 1052.1 L490.3 1051.3 L491.3 1050.9 L492.3 1051.1 L493.3 1050.5 L494.3 1050.0 L495.3 1049.9 L496.3 1049.8 L497.3 1049.9 L498.3 1049.7 L499.3 1049.5 L500.3 1049.4 L501.3 1049.4 L502.3 1049.2 L503.3 1049.0 L504.3 1049.2 L504.7 1048.8 L505.3 1048.0 L506.3 1047.8 L507.3 1047.8 L508.3 1047.6 L509.3 1047.5 L510.3 1048.1 L511.3 1048.5 L512.3 1047.6 L513.3 1047.0 L514.3 1047.4 L515.3 1047.1 L516.3 1047.2 L517.3 1047.6 L518.3 1047.2 L519.3 1047.3 L520.3 1047.5 L521.3 1046.6 L522.3 1045.4 L523.3 1045.0 L524.3 1045.1 L525.3 1044.7 L526.3 1044.1 L527.3 1044.2 L528.3 1044.7 L529.3 1045.4 L530.3 1045.9 L531.3 1045.7 L532.3 1045.0 L533.3 1044.5 L534.3 1044.2 L535.3 1043.9 L536.3 1043.6 L537.3 1043.4 L538.3 1043.6 L539.3 1043.7 L540.3 1044.1 L541.3 1043.8 L542.3 1042.7 L543.3 1042.3 L544.3 1042.8 L545.3 1043.4 L546.3 1042.8 L547.3 1041.7 L548.3 1041.4 L549.3 1041.4 L550.3 1041.5 L551.3 1041.5 L552.3 1041.3 L553.3 1041.4 L554.3 1041.5 L555.3 1041.7 L556.3 1041.5 L557.3 1040.8 L558.3 1040.3 L559.3 1040.0 L560.3 1040.1 L561.3 1040.3 L562.3 1040.4 L562.4 1039.8 L563.3 1038.7 L564.3 1038.4 L565.3 1038.8 L566.3 1039.5 L567.3 1039.6 L568.3 1039.0 L569.3 1038.3 L570.3 1037.4 L571.3 1037.0 L572.3 1037.4 L573.3 1037.3 L574.3 1037.1 L575.3 1036.7 L576.3 1036.6 L577.3 1036.5 L578.3 1036.4 L579.3 1036.8 L580.3 1036.8 L581.3 1036.2 L582.3 1035.6 L583.3 1034.9 L584.3 1034.3 L585.3 1034.0 L586.3 1034.1 L587.3 1034.3 L588.3 1033.8 L589.3 1033.2 L590.3 1033.2 L591.3 1033.7 L592.3 1034.5 L593.3 1034.6 L594.3 1033.9 L595.3 1033.4 L596.3 1032.4 L597.3 1031.5 L598.3 1031.8 L599.3 1032.3 L600.3 1032.0 L601.3 1030.7 L602.3 1030.3 L603.3 1030.9 L604.3 1030.8 L605.3 1031.1 L606.3 1032.0 L607.3 1032.1 L608.3 1031.5 L609.3 1030.7 L610.3 1030.7 L611.3 1030.9 L612.3 1030.5 L612.8 1030.6 L613.3 1030.2 L614.3 1029.9 L615.3 1030.7 L616.3 1030.9 L617.3 1030.6 L618.3 1030.7 L619.3 1030.8 L620.3 1030.7 L621.3 1031.0 L622.3 1031.5 L623.3 1031.2 L624.3 1030.8 L625.3 1031.2 L626.3 1031.4 L627.3 1031.5 L627.3 1031.6 L628.3 1031.4 L629.3 1031.9 L630.3 1034.0 L631.3 1036.5 L632.3 1037.7 L633.3 1038.3 L634.3 1038.9 L634.5 1039.7 L635.3 1039.2 L636.3 1037.3 L637.3 1036.5 L638.3 1035.2 L639.3 1033.2 L640.3 1031.8 L641.3 1030.8 L641.7 1030.4 L642.3 1030.8 L643.3 1030.9 L644.3 1030.4 L645.3 1030.4 L646.3 1030.2 L647.3 1029.6 L648.3 1029.5 L649.3 1029.6 L650.3 1029.6 L651.3 1029.7 L652.3 1029.7 L653.3 1029.7 L654.3 1029.1 L655.3 1029.0 L656.3 1029.6 L657.3 1029.9 L658.3 1029.7 L659.3 1029.2 L660.3 1028.7 L661.3 1028.5 L662.3 1029.0 L663.3 1029.2 L663.3 1028.6 L664.3 1028.6 L665.3 1029.1 L666.3 1029.2 L667.3 1029.1 L668.3 1028.6 L669.3 1028.1 L670.3 1027.9 L671.3 1027.9 L672.3 1027.8 L673.3 1027.6 L674.3 1027.0 L675.3 1026.4 L676.3 1026.5 L677.3 1026.7 L678.3 1026.4 L679.3 1026.6 L680.3 1027.3 L681.3 1026.8 L682.3 1026.3 L683.3 1026.7 L684.3 1026.5 L684.9 1025.8 L685.3 1024.9 L686.3 1023.8 L687.3 1023.7 L688.3 1024.3 L689.3 1024.6 L690.3 1024.2 L691.3 1023.1 L692.3 1022.2 L693.3 1021.8 L694.3 1020.9 L695.3 1020.2 L696.3 1020.0 L697.3 1020.0 L697.3 1020.6 L698.3 1020.3 L699.3 1019.3 L700.3 1018.7 L701.3 1019.1 L702.3 1019.0 L703.3 1017.8 L704.3 1017.4 L705.3 1017.8 L706.3 1017.9 L707.3 1017.3 L708.3 1017.5 L709.3 1018.3 L710.3 1018.2 L711.3 1017.7 L712.3 1017.5 L713.3 1017.7 L714.3 1018.1 L715.3 1018.2 L716.3 1017.5 L717.3 1016.8 L718.3 1017.1 L719.3 1017.3 L720.3 1016.8 L721.3 1016.7 L722.3 1016.9 L723.3 1016.5 L724.3 1015.5 L725.3 1014.7 L726.3 1015.2 L727.3 1016.3 L728.3 1016.5 L729.3 1015.5 L730.3 1014.9 L731.3 1014.5 L732.3 1014.8 L733.3 1015.8 L734.3 1015.9 L735.3 1015.1 L736.3 1014.7 L737.3 1014.8 L738.3 1014.4 L739.3 1013.8 L740.3 1014.1 L741.3 1014.3 L742.3 1014.1 L743.3 1014.3 L744.3 1014.4 L745.3 1013.9 L746.3 1013.5 L747.3 1013.4 L748.3 1013.7 L749.3 1013.5 L750.3 1013.4 L751.3 1014.2 L752.3 1014.6 L753.3 1014.4 L754.3 1014.0 L755.3 1013.2 L756.3 1012.6 L757.3 1012.7 L758.3 1013.1 L759.3 1013.1 L760.3 1012.4 L761.3 1012.2 L762.3 1012.0 L763.3 1011.9 L764.3 1012.5 L765.3 1012.9 L766.3 1012.6 L767.3 1012.7 L768.3 1012.3 L769.3 1011.8 L770.3 1011.8 L771.3 1011.4 L772.3 1010.9 L773.3 1011.2 L774.3 1011.4 L774.8 1011.4 L775.3 1011.7 L776.3 1011.9 L777.3 1011.8 L778.3 1011.6 L779.3 1010.9 L780.3 1010.2 L781.3 1010.1 L782.3 1010.3 L783.3 1010.5 L784.3 1010.2 L785.3 1009.5 L786.3 1009.6 L787.3 1010.3 L788.3 1010.4 L789.3 1010.3 L790.3 1010.5 L791.3 1010.5 L792.3 1010.1 L793.3 1009.5 L794.3 1008.9 L795.3 1008.6 L796.3 1008.0 L797.3 1007.8 L798.3 1008.3 L799.3 1008.6 L800.3 1008.4 L801.3 1007.9 L802.3 1007.7 L803.3 1007.7 L804.3 1007.5 L805.3 1007.4 L806.3 1007.6 L807.3 1007.3 L808.3 1006.9 L809.3 1007.2 L810.3 1007.0 L811.3 1005.8 L812.3 1005.8 L813.3 1007.0 L814.3 1007.0 L815.3 1006.4 L816.3 1006.1 L817.3 1005.8 L818.3 1006.0 L819.3 1006.4 L820.3 1006.0 L821.3 1004.7 L822.3 1004.0 L823.3 1004.6 L824.3 1004.9 L825.3 1004.9 L826.3 1005.4 L827.3 1005.7 L828.3 1005.5 L829.3 1004.5 L830.3 1003.8 L831.3 1004.0 L832.3 1004.0 L833.3 1004.0 L834.3 1004.0 L835.3 1003.7 L836.3 1003.5 L837.3 1003.4 L838.3 1003.1 L839.3 1003.0 L840.3 1002.9 L841.3 1002.5 L842.3 1001.9 L843.3 1001.6 L844.3 1001.6 L845.3 1001.9 L846.3 1002.0 L847.3 1002.0 L848.3 1002.0 L849.3 1001.8 L850.3 1002.0 L851.3 1001.9 L852.3 1001.5 L852.3 1001.5 L853.3 1001.7 L854.3 1002.1 L855.3 1002.7 L856.3 1002.5 L857.3 1001.2 L858.3 1000.8 L859.3 1001.6 L860.3 1001.9 L861.3 1001.0 L862.3 1000.2 L863.3 1000.2 L864.3 1000.1 L865.3 999.3 L866.3 998.9 L867.3 999.5 L868.3 1000.0 L869.3 1000.4 L870.3 1000.2 L871.3 1000.1 L872.3 1000.4 L873.3 999.8 L874.3 999.0 L875.3 999.1 L876.3 999.3 L877.3 999.0 L878.3 998.9 L879.3 999.1 L880.3 999.3 L881.3 999.6 L882.3 999.1 L883.3 998.2 L884.3 998.5 L885.3 999.2 L886.3 999.0 L887.3 998.7 L888.3 998.6 L889.3 998.3 L890.3 998.6 L891.3 999.3 L892.3 999.3 L893.3 999.0 L894.3 998.7 L895.3 998.2 L896.3 998.3 L897.3 998.3 L898.3 997.4 L899.3 997.2 L900.3 997.8 L901.3 998.5 L902.3 998.2 L903.3 997.9 L904.3 998.3 L905.3 998.1 L906.3 997.4 L906.4 997.0 L907.3 997.5 L908.3 997.8 L909.3 997.5 L910.3 997.7 L911.3 998.2 L912.3 998.2 L913.3 997.8 L914.3 997.6 L915.3 997.1 L916.3 996.6 L917.3 996.8 L918.3 996.7 L919.3 996.5 L920.3 996.7 L921.3 996.6 L922.3 996.5 L923.3 996.7 L924.3 996.2 L925.3 995.6 L926.3 995.5 L927.3 996.0 L928.3 996.7 L929.3 996.6 L930.3 996.0 L931.3 995.9 L932.3 995.9 L933.3 995.6 L934.3 995.3 L935.3 995.7 L936.3 996.2 L937.3 996.3 L938.3 995.8 L939.3 995.1 L940.3 995.4 L941.3 996.0 L942.3 996.0 L943.3 995.7 L944.3 995.3 L945.3 995.0 L946.3 995.0 L947.3 995.1 L948.3 994.8 L949.3 994.3 L950.3 994.3 L951.3 994.7 L952.3 995.3 L953.3 995.2 L954.3 994.6 L955.3 994.7 L956.3 994.7 L957.3 995.0 L958.3 995.3 L959.3 995.3 L960.3 995.2 L960.5 995.1 L961.3 995.1 L962.3 995.3 L963.3 995.1 L964.3 995.1 L965.3 995.8 L966.3 995.0 L967.3 993.7 L968.3 994.1 L969.3 994.9 L970.3 995.0 L971.3 995.3 L972.3 995.9 L973.3 995.9 L974.3 995.3 L975.3 995.1 L976.3 995.2 L977.3 995.2 L978.3 995.0 L979.3 994.7 L980.3 995.0 L981.3 995.2 L982.3 995.2 L983.3 994.9 L984.3 994.7 L985.3 994.9 L986.3 995.4 L987.3 995.2 L988.3 994.6 L989.3 995.0 L990.3 995.8 L991.3 995.6 L992.3 995.2 L993.3 995.1 L994.3 994.9 L995.3 995.2 L996.3 995.1 L997.3 995.3 L998.3 995.9 L999.3 996.0 L1000.3 995.7 L1001.3 995.4 L1002.3 995.3 L1003.3 994.9 L1004.3 994.3 L1005.3 994.7 L1006.3 995.6 L1007.3 996.1 L1008.3 996.3 L1009.3 996.5 L1010.3 996.6 L1011.3 996.3 L1012.3 995.7 L1013.3 995.4 L1014.3 995.7 L1015.3 995.9 L1016.3 995.1 L1017.3 994.7 L1018.3 995.2 L1019.3 995.9 L1020.3 995.8 L1021.3 995.1 L1022.3 995.8 L1023.3 997.0 L1024.3 996.8 L1025.3 995.8 L1026.3 995.8 L1027.3 997.1 L1028.3 997.9 L1029.3 997.6 L1030.3 997.6 L1031.3 997.4 L1032.3 997.4 L1033.3 997.5 L1034.3 997.3 L1035.3 996.5 L1036.3 996.2 L1037.3 997.1 L1038.3 997.7 L1039.3 997.3 L1040.3 997.5 L1041.3 997.7 L1042.3 997.6 L1043.3 998.4 L1044.3 998.8 L1045.3 998.0 L1046.3 997.9 L1047.3 998.2 L1048.3 998.3 L1049.3 999.0 L1050.3 999.4 L1051.3 999.1 L1052.3 999.2 L1053.3 999.6 L1054.3 1000.2 L1055.3 999.6 L1056.3 998.8 L1057.3 999.7 L1058.3 1000.3 L1059.3 999.6 L1060.3 999.1 L1061.3 999.3 L1062.3 1000.2 L1063.3 1001.0 L1064.3 1001.6 L1065.3 1001.0 L1066.3 999.2 L1067.3 998.0 L1068.3 996.1 L1069.3 993.2 L1070.3 990.2 L1071.3 989.7 L1072.3 989.6 L1073.3 989.7 L1074.3 989.5 L1075.3 990.0 L1076.3 992.0 L1077.3 992.8 L1078.3 991.8 L1079.3 990.9 L1080.3 990.6 L1081.3 991.7 L1082.3 992.1 L1083.3 991.5 L1084.3 991.8 L1085.3 992.4 L1086.3 992.7 L1087.3 992.5 L1088.3 991.1 L1089.3 990.2 L1090.3 991.4 L1091.3 993.2 L1092.3 993.3 L1093.3 992.5 L1094.3 992.2 L1095.3 994.2 L1096.3 995.9 L1097.3 994.7 L1098.3 993.8 L1099.3 992.7 L1100.3 991.3 L1101.3 992.0 L1102.3 993.1 L1103.3 993.6 L1104.3 994.1 L1105.3 994.8 L1106.3 995.5 L1107.3 995.2 L1108.3 994.5 L1109.3 994.9 L1110.3 995.6 L1111.3 995.1 L1112.3 993.7 L1113.3 993.8 L1114.3 995.2 L1115.3 993.9 L1116.3 992.0 L1117.3 994.3 L1118.3 996.7 L1119.3 995.6 L1120.3 994.3 L1121.3 994.7 L1122.3 995.8 L1123.3 995.3 L1124.3 994.8 L1125.3 995.1 L1126.3 993.9 L1127.3 993.8 L1128.3 996.0 L1129.3 995.9 L1130.3 995.0 L1131.3 995.7 L1132.3 995.2 L1133.3 994.6 L1134.3 995.6 L1135.3 997.2 L1136.3 997.4 L1137.3 997.0 L1138.3 998.2 L1139.3 999.8 L1140.3 999.7 L1141.3 998.2 L1142.3 996.9 L1143.3 996.3 L1144.3 996.8 L1145.3 997.9 L1146.3 997.9 L1147.3 997.9 L1148.3 998.6 L1149.3 999.4 L1150.3 999.0 L1151.3 998.0 L1152.3 998.4 L1153.3 999.6 L1154.3 999.6 L1155.3 998.5 L1156.3 997.5 L1157.3 997.2 L1158.3 998.0 L1159.3 998.4 L1160.3 997.8 L1161.3 997.3 L1162.3 996.3 L1163.3 995.9 L1164.3 997.6 L1165.3 998.9 L1166.3 998.2 L1167.3 998.0 L1168.3 997.9 L1169.3 997.4 L1170.3 997.9 L1171.3 997.1 L1172.3 996.4 L1173.3 996.3 L1174.3 995.8 L1175.3 996.4 L1176.3 997.3 L1176.8 997.2 L1177.3 997.6 L1178.3 998.3 L1179.3 997.1 L1180.3 996.2 L1181.3 997.0 L1182.3 996.3 L1183.3 995.7 L1184.3 996.0 L1185.3 995.1 L1186.3 994.6 L1187.3 995.7 L1188.3 996.4 L1189.3 995.1 L1190.3 995.3 L1191.3 997.2 L1192.3 996.9 L1193.3 995.7 L1194.3 995.7 L1195.3 996.1 L1196.3 996.0 L1197.3 995.5 L1198.3 995.5 L1199.3 996.2 L1200.0 997.0 L1200.3 996.4 L1201.3 995.7 L1202.3 996.1 L1203.3 996.4 L1204.3 996.6 L1205.3 996.8 L1206.3 997.0 L1207.3 996.9 L1208.3 996.3 L1209.3 996.1 L1210.3 996.8 L1211.3 997.3 L1212.3 997.5 L1213.3 997.1 L1214.3 995.3 L1215.3 994.0 L1216.3 994.3 L1217.3 995.5 L1218.3 996.6 L1219.3 997.1 L1220.3 996.8 L1221.3 996.0 L1222.3 995.5 L1223.3 995.7 L1224.3 995.9 L1225.3 995.3 L1226.3 994.6 L1227.3 994.4 L1228.3 994.8 L1229.3 995.3 L1230.3 995.4 L1231.3 995.8 L1232.3 995.9 L1233.3 995.2 L1234.3 994.6 L1235.3 994.9 L1236.3 995.3 L1237.3 995.0 L1238.3 995.1 L1239.3 995.3 L1240.3 994.6 L1241.3 994.2 L1242.3 994.1 L1243.3 994.2 L1244.3 994.5 L1245.3 994.5 L1246.3 994.7 L1247.3 994.9 L1248.3 994.8 L1249.3 994.9 L1250.3 994.9 L1251.3 994.8 L1252.3 994.6 L1252.5 994.7 L1253.3 994.8 L1254.3 994.5 L1255.3 994.2 L1256.3 994.2 L1257.3 994.4 L1258.3 994.6 L1259.3 994.7 L1260.3 994.5 L1261.3 994.2 L1262.3 994.8 L1263.3 995.5 L1264.3 995.6 L1265.3 995.4 L1266.3 996.0 L1267.3 996.2 L1268.3 995.4 L1269.3 994.9 L1270.3 994.4 L1271.3 994.4 L1272.3 994.9 L1273.3 994.8 L1274.3 994.7 L1275.3 995.1 L1276.3 995.3 L1277.3 995.1 L1278.3 995.5 L1279.3 995.9 L1280.3 995.9 L1281.3 995.9 L1282.3 996.1 L1283.3 996.7 L1284.3 996.4 L1285.3 996.2 L1286.3 996.2 L1287.3 996.5 L1288.3 996.9 L1289.3 997.1 L1289.3 997.6 L1290.3 997.3 L1291.3 996.4 L1292.3 996.1 L1293.3 996.7 L1294.3 998.0 L1295.3 999.3 L1296.3 999.7 L1297.3 1000.2 L1298.3 1000.9 L1299.3 1001.5 L1300.3 1001.8 L1301.3 1002.6 L1302.3 1004.4 L1303.3 1005.9 L1304.3 1006.1 L1305.0 1005.7 L1305.3 1005.8 L1306.3 1006.5 L1307.3 1006.9 L1308.3 1007.8 L1309.3 1008.9 L1310.3 1009.3 L1311.3 1009.8 L1312.3 1010.4 L1313.3 1010.8 L1314.3 1011.4 L1315.3 1012.5 L1316.3 1013.2 L1317.3 1013.8 L1318.3 1014.6 L1319.3 1014.9 L1320.3 1015.6 L1321.3 1016.2 L1322.3 1016.7 L1323.3 1017.5 L1323.4 1017.6 L1324.3 1017.8 L1325.3 1018.8 L1326.3 1019.7 L1327.3 1019.9 L1328.3 1020.5 L1329.3 1021.8 L1330.3 1023.0 L1331.3 1023.7 L1332.3 1024.1 L1333.3 1024.3 L1334.3 1025.0 L1335.3 1025.7 L1336.3 1025.5 L1336.6 1025.3 L1337.3 1025.3 L1338.3 1024.9 L1339.3 1024.8 L1340.3 1024.9 L1341.3 1024.6 L1342.3 1024.1 L1343.3 1023.7 L1344.3 1024.2 L1345.3 1024.4 L1346.3 1023.9 L1347.1 1023.1 L1347.3 1022.7 L1348.3 1022.8 L1349.3 1022.9 L1350.3 1022.5 L1351.3 1022.0 L1352.3 1021.3 L1353.3 1020.1 L1354.3 1019.2 L1355.3 1018.7 L1356.3 1018.3 L1357.3 1017.8 L1358.3 1017.5 L1359.3 1016.7 L1360.3 1015.6 L1361.3 1015.3 L1362.3 1015.1 L1362.8 1014.6 L1363.3 1014.6 L1364.3 1014.0 L1365.3 1012.9 L1366.3 1012.4 L1367.3 1012.4 L1368.3 1011.8 L1369.3 1010.3 L1370.3 1008.9 L1371.3 1008.6 L1372.3 1008.9 L1373.3 1008.9 L1374.3 1009.1 L1375.3 1009.1 L1376.3 1009.0 L1377.3 1008.8 L1378.3 1008.6 L1378.6 1008.8 L1379.3 1008.5 L1380.3 1008.3 L1381.3 1008.6 L1382.3 1008.9 L1383.3 1008.8 L1384.3 1008.2 L1385.3 1008.0 L1386.3 1008.4 L1387.3 1009.2 L1388.3 1009.3 L1389.1 1009.3 L1389.3 1009.7 L1390.3 1009.5 L1391.3 1009.5 L1392.3 1010.2 L1393.3 1011.0 L1394.3 1011.8 L1395.3 1012.0 L1396.3 1012.0 L1397.3 1012.9 L1398.3 1014.0 L1399.3 1015.2 L1400.3 1016.1 L1401.3 1016.6 L1402.2 1017.0 L1402.3 1017.2 L1403.3 1018.2 L1404.3 1019.1 L1405.3 1020.0 L1406.3 1021.1 L1407.3 1022.6 L1408.3 1024.0 L1409.3 1025.4 L1410.3 1026.2 L1411.3 1027.2 L1412.3 1029.3 L1413.3 1031.1 L1414.3 1031.9 L1415.3 1032.7 L1416.3 1034.0 L1417.3 1035.4 L1418.0 1036.4 L1418.3 1037.0 L1419.3 1037.7 L1420.3 1038.5 L1421.3 1039.2 L1422.3 1039.8 L1423.3 1041.0 L1424.3 1042.4 L1425.3 1043.7 L1426.3 1044.8 L1427.3 1045.8 L1428.3 1046.7 L1429.3 1046.9 L1430.3 1047.2 L1431.3 1048.1 L1432.3 1049.0 L1433.3 1049.1 L1433.7 1048.2 L1434.3 1048.4 L1435.3 1048.9 L1436.3 1048.8 L1437.3 1048.5 L1438.3 1048.5 L1439.3 1048.4 L1440.3 1048.0 L1441.3 1048.1 L1442.3 1048.2 L1443.3 1047.5 L1444.3 1046.8 L1445.3 1046.7 L1446.3 1047.6 L1446.8 1048.1 L1447.3 1047.9 L1448.3 1047.7 L1449.3 1047.4 L1450.3 1047.5 L1451.3 1048.4 L1452.3 1049.6 L1453.3 1050.9 L1454.3 1051.5 L1455.3 1051.9 L1456.3 1052.5 L1457.3 1053.6 L1458.3 1054.8 L1459.3 1055.4 L1460.3 1055.5 L1461.3 1054.9 L1462.3 1054.6 L1462.6 1055.2 L1463.3 1055.5 L1464.3 1055.2 L1465.3 1054.9 L1466.3 1054.0 L1467.3 1052.9 L1468.3 1052.4 L1469.3 1051.6 L1470.3 1050.3 L1471.3 1049.7 L1472.3 1049.6 L1473.1 1049.7 L1473.3 1049.3 L1474.3 1049.2 L1475.3 1050.3 L1476.3 1051.1 L1477.3 1051.2 L1478.3 1051.5 L1479.3 1051.8 L1479.7 1051.6 L1480.3 1051.2 L1481.3 1050.1 L1482.3 1048.5 L1483.3 1046.5 L1484.3 1044.5 L1485.3 1042.5 L1486.2 1040.6 L1486.3 1040.7 L1487.3 1039.1 L1488.3 1037.0 L1489.3 1034.3 L1490.3 1031.5 L1491.3 1029.1 L1492.3 1026.7 L1493.3 1024.2 L1494.1 1022.6 L1494.3 1022.6 L1495.3 1020.3 L1496.3 1018.1 L1497.3 1017.4 L1498.3 1017.0 L1499.3 1016.0 L1500.3 1014.1 L1501.3 1012.4 L1502.0 1011.0 L1502.3 1010.3 L1503.3 1009.4 L1504.3 1008.3 L1505.3 1007.5 L1506.3 1006.9 L1507.3 1005.9 L1508.3 1005.0 L1508.6 1005.2 L1509.3 1005.1 L1510.3 1004.9 L1511.3 1004.8 L1512.3 1004.7 L1513.3 1004.7 L1514.3 1004.2 L1515.3 1003.3 L1516.3 1003.6 L1517.3 1003.9 L1518.3 1003.5 L1519.3 1003.2 L1520.3 1002.7 L1521.3 1001.6 L1522.3 1000.7 L1523.0 1001.3 L1523.3 1001.5 L1524.3 1000.5 L1525.3 1000.5 L1526.3 1000.8 L1527.3 1000.5 L1528.3 999.6 L1529.3 998.2 L1530.3 997.8 L1531.3 997.8 L1532.3 997.3 L1533.3 996.9 L1534.3 996.9 L1535.3 996.9 L1536.1 996.6 L1536.3 996.4 L1537.3 996.2 L1538.3 995.7 L1539.3 995.6 L1540.3 996.2 L1541.3 997.2 L1542.3 997.4 L1543.3 996.6 L1544.3 996.2 L1545.3 995.8 L1546.3 995.3 L1547.3 996.0 L1548.3 996.7 L1549.3 996.5 L1550.3 996.7 L1551.3 997.0 L1551.9 996.6 L1552.3 996.5 L1553.3 996.5 L1554.3 996.6 L1555.3 996.8 L1556.3 996.3 L1557.3 995.8 L1558.3 995.9 L1559.3 996.5 L1560.3 996.9 L1561.3 996.9 L1562.3 997.5 L1563.3 997.5 L1564.3 996.8 L1565.3 996.8 L1566.3 996.9 L1567.3 996.7 L1568.3 997.1 L1569.3 997.9 L1570.3 998.3 L1571.3 998.2 L1572.3 998.3 L1572.9 999.4 L1573.3 999.9 L1574.3 999.7 L1575.3 1000.2 L1576.3 1001.0 L1577.3 1001.6 L1578.3 1002.2 L1579.3 1003.2 L1580.3 1004.1 L1581.3 1004.6 L1582.3 1005.7 L1583.3 1007.2 L1583.4 1007.5 L1584.3 1008.4 L1585.3 1009.6 L1586.3 1010.6 L1587.3 1011.9 L1588.3 1013.3 L1589.3 1014.5 L1590.3 1016.1 L1591.3 1018.2 L1591.3 1018.2 L1592.3 1020.4 L1593.3 1023.2 L1594.3 1026.2 L1595.2 1028.3 L1595.3 1028.5 L1596.3 1029.6 L1597.3 1030.3 L1598.3 1030.8 L1599.3 1031.6 L1600.3 1032.2 L1601.3 1033.1 L1602.3 1034.0 L1603.3 1034.8 L1604.3 1035.5 L1604.4 1035.6 L1605.3 1037.5 L1606.3 1040.0 L1607.3 1042.2 L1608.3 1044.2 L1609.3 1047.0 L1610.3 1050.1 L1611.3 1052.3 L1612.3 1054.2 L1612.3 1054.2 L1613.3 1055.5 L1614.3 1056.8 L1615.3 1058.4 L1616.3 1059.7 L1617.3 1060.7 L1618.3 1061.9 L1619.3 1063.7 L1620.2 1065.4 L1620.3 1065.6 L1621.3 1068.0 L1622.3 1070.8 L1623.2 1073.4 L1623.3 1073.9 L1624.3 1076.3 L1625.3 1079.4 L1626.3 1083.0 L1627.3 1085.5 L1628.3 1087.7 L1629.3 1090.9 L1630.3 1094.0 L1631.3 1096.5 L1632.3 1099.5 L1633.3 1103.4 L1633.7 1105.2 L1634.3 1107.8 L1635.3 1111.6 L1636.3 1114.7 L1637.3 1117.3 L1638.3 1120.7 L1639.3 1125.0 L1640.3 1129.4 L1641.3 1133.2 L1642.3 1136.4 L1643.3 1140.1 L1644.2 1144.2 L1644.3 1145.4 L1645.3 1149.9 L1646.3 1154.3 L1647.3 1158.6 L1648.3 1163.7 L1649.3 1168.9 L1650.3 1173.7 L1651.3 1179.1 L1652.1 1182.9 L1652.3 1183.9 L1653.3 1190.1 L1654.3 1196.5 L1655.3 1202.3 L1656.3 1208.3 L1657.3 1213.5 L1658.3 1218.2 L1658.6 1220.0 L1659.3 1224.3 L1660.3 1230.0 L1661.3 1235.2 L1662.3 1240.1 L1663.3 1245.0 L1664.3 1249.3 L1664.3 1249.0 L1665.3 1254.2 L1666.3 1259.0 L1667.3 1262.6 L1668.3 1266.6 L1669.3 1271.2 L1670.3 1275.7 L1671.3 1279.5 L1672.3 1283.2 L1673.3 1287.7 L1673.5 1289.4 L1674.3 1292.9 L1675.3 1297.3 L1676.3 1302.1 L1677.3 1307.0 L1678.3 1312.7 L1679.3 1318.0 L1680.3 1323.0 L1681.3 1328.2 L1681.4 1328.4 L1682.3 1333.3 L1683.3 1339.4 L1684.3 1345.4 L1685.3 1351.0 L1686.3 1356.9 L1687.3 1363.4 L1688.3 1369.6 L1689.3 1374.9 L1689.3 1374.7 L1690.3 1381.2 L1691.3 1387.9 L1692.3 1394.0 L1693.3 1399.9 L1694.3 1406.4 L1695.3 1413.5 L1696.3 1420.3 L1696.3 1420.0 L1697.3 1428.9 L1698.3 1438.1 L1698.8 1442.0 L1699.3 1445.2 L1700.3 1451.2 L1701.3 1456.7 L1702.2 1461.6 L1702.3 1462.6 L1703.3 1468.7 L1704.3 1473.9 L1705.3 1480.0 L1706.3 1486.6 L1706.4 1486.2 L1707.3 1492.4 L1708.3 1500.1 L1709.3 1505.7 L1709.7 1507.8 L1710.3 1510.0 L1711.3 1511.8 L1711.8 1511.9 L1712.3 1512.2 L1713.3 1511.4 L1714.3 1509.5 L1715.3 1507.5 L1715.6 1507.1 L1716.3 1504.9 L1717.3 1499.0 L1718.3 1491.6 L1719.0 1486.6 L1719.3 1484.4 L1720.3 1479.4 L1721.3 1474.5 L1722.3 1469.9 L1722.4 1470.2 L1723.3 1466.1 L1724.3 1461.5 L1725.3 1457.1 L1725.7 1456.1 L1726.3 1454.6 L1727.3 1452.2 L1728.3 1451.3 L1729.1 1450.9 L1729.3 1450.3 L1730.3 1448.8 L1731.3 1448.3 L1732.3 1447.3 L1733.3 1445.6 L1734.3 1444.4 L1735.3 1442.9 L1736.3 1441.9 L1736.6 1442.6 L1737.3 1441.9 L1738.3 1440.3 L1739.3 1438.6 L1740.3 1436.2 L1740.8 1435.1 L1741.3 1433.5 L1742.3 1429.8 L1743.3 1426.4 L1744.3 1422.1 L1745.3 1416.7 L1745.7 1414.2 L1746.3 1411.8 L1747.3 1407.4 L1748.3 1402.2 L1749.3 1396.5 L1750.3 1390.9 L1751.3 1385.7 L1752.3 1380.9 L1752.3 1381.3 L1753.3 1376.5 L1754.3 1370.9 L1755.3 1364.8 L1756.3 1360.0 L1757.3 1356.3 L1758.3 1352.7 L1758.9 1350.7 L1759.3 1349.7 L1760.3 1347.1 L1761.3 1344.4 L1762.3 1341.9 L1763.3 1339.8 L1764.3 1338.5 L1765.3 1336.7 L1765.4 1336.3 L1766.3 1334.7 L1767.3 1332.8 L1768.3 1330.6 L1769.3 1328.2 L1770.3 1325.7 L1771.3 1323.1 L1772.3 1321.2 L1773.3 1320.2 L1774.3 1318.5 L1774.6 1317.0 L1775.3 1315.7 L1776.3 1314.5 L1777.3 1312.8 L1778.3 1311.6 L1779.3 1310.8 L1780.3 1309.4 L1781.2 1307.4 L1781.3 1307.1 L1782.3 1304.4 L1783.3 1301.2 L1784.3 1297.1 L1785.3 1292.6 L1786.3 1289.6 L1786.4 1290.1 L1787.3 1287.4 L1788.3 1283.9 L1789.3 1280.9 L1790.3 1279.0 L1791.3 1277.2 L1792.3 1274.8 L1793.0 1273.1 L1793.3 1272.8 L1794.3 1271.7 L1795.3 1270.1 L1796.3 1268.4 L1797.3 1267.3 L1798.3 1266.2 L1799.3 1264.7 L1799.6 1264.9 L1800.3 1265.5 L1801.3 1265.0 L1802.3 1264.4 L1803.3 1263.5 L1804.2 1263.1 L1804.3 1263.4 L1805.3 1263.9 L1806.3 1264.2 L1807.3 1264.5 L1808.3 1265.2 L1809.3 1266.5 L1810.3 1267.2 L1811.3 1267.7 L1812.3 1268.9 L1813.3 1270.8 L1814.3 1272.4 L1815.3 1273.3 L1816.3 1274.2 L1817.3 1276.0 L1818.3 1278.2 L1819.3 1279.4 L1819.3 1278.5 L1820.3 1279.1 L1821.3 1280.3 L1822.3 1281.9 L1823.3 1283.8 L1824.3 1285.7 L1825.3 1287.6 L1826.3 1289.5 L1827.3 1291.5 L1828.3 1293.1 L1829.3 1294.2 L1830.3 1295.1 L1831.1 1295.5 L1831.3 1296.1 L1832.3 1297.9 L1833.3 1298.8 L1834.3 1300.4 L1835.3 1301.3 L1836.3 1300.9 L1837.3 1301.1 L1837.7 1301.4 L1838.3 1302.0 L1839.3 1302.9 L1840.3 1303.1 L1841.3 1302.8 L1842.3 1303.1 L1843.3 1303.1 L1844.3 1302.7 L1845.3 1303.2 L1846.3 1304.2 L1846.9 1304.3 L1847.3 1304.3 L1848.3 1305.0 L1849.3 1305.9 L1850.3 1307.2 L1851.3 1308.7 L1852.2 1309.5 L1852.3 1309.6 L1853.3 1312.7 L1854.3 1315.7 L1855.3 1318.2 L1856.1 1320.0 L1856.3 1320.5 L1857.3 1322.3 L1858.3 1324.4 L1859.3 1325.8 L1860.3 1326.9 L1861.3 1328.2 L1862.3 1329.4 L1863.3 1329.6 L1864.3 1329.8 L1865.3 1330.4 L1865.3 1330.4 L1866.3 1330.3 L1867.3 1330.8 L1868.3 1330.4 L1869.3 1329.0 L1870.3 1328.6 L1871.3 1328.1 L1872.3 1326.6 L1873.2 1325.9 L1873.3 1325.5 L1874.3 1324.6 L1875.3 1323.9 L1876.3 1323.4 L1877.3 1323.5 L1878.3 1323.2 L1879.3 1322.7 L1880.3 1322.9 L1881.0 1323.0 L1881.3 1323.6 L1882.3 1324.4 L1883.3 1324.1 L1884.3 1323.8 L1885.3 1324.5 L1886.3 1325.1 L1887.3 1324.7 L1888.3 1325.1 L1888.9 1326.8 L1889.3 1327.1 L1890.3 1327.2 L1891.3 1328.0 L1892.3 1329.0 L1893.3 1329.7 L1894.3 1329.5 L1895.3 1329.6 L1896.3 1330.3 L1897.3 1331.1 L1898.3 1331.8 L1899.3 1332.0 L1899.4 1331.6 L1900.3 1331.5 L1901.3 1330.9 L1902.3 1329.7 L1903.3 1329.5 L1904.3 1330.2 L1905.3 1330.7 L1906.0 1330.8 L1906.3 1330.8 L1907.3 1330.7 L1908.3 1330.3 L1909.3 1330.4 L1910.3 1331.7 L1911.3 1332.6 L1912.3 1332.0 L1913.3 1331.5 L1914.3 1332.6 L1915.2 1334.0 L1915.3 1334.3 L1916.3 1335.4 L1917.3 1337.9 L1918.3 1340.3 L1919.3 1341.4 L1920.3 1342.8 L1921.3 1345.3 L1921.7 1346.4 L1922.3 1347.9 L1923.3 1350.0 L1924.3 1351.9 L1925.3 1354.0 L1926.3 1356.4 L1927.0 1357.9 L1927.3 1358.1 L1928.3 1362.0 L1929.3 1367.6 L1930.3 1372.8 L1931.3 1377.0 L1932.2 1380.6 L1932.3 1381.3 L1933.3 1386.0 L1934.3 1390.4 L1935.3 1393.9 L1936.3 1397.2 L1937.3 1401.4 L1938.3 1405.6 L1938.8 1407.7 L1939.3 1410.2 L1940.3 1413.9 L1941.3 1417.9 L1942.3 1423.8 L1943.3 1429.7 L1944.1 1433.9 L1944.3 1435.4 L1945.3 1440.9 L1946.3 1447.3 L1947.3 1454.6 L1948.0 1460.3 L1948.3 1463.4 L1949.3 1474.6 L1950.3 1486.5 L1951.0 1493.1 L1951.3 1494.8 L1952.3 1503.2 L1953.3 1512.2 L1954.3 1520.1 L1955.3 1527.2 L1956.3 1534.0 L1956.3 1534.2 L1957.3 1542.1 L1958.3 1549.4 L1958.4 1549.5 L1959.3 1554.5 L1960.3 1559.2 L1961.3 1562.8 L1962.3 1566.6 L1963.3 1571.1 L1964.3 1575.2 L1964.7 1576.3 L1965.3 1578.9 L1966.3 1583.5 L1967.3 1588.8 L1968.3 1594.7 L1968.9 1598.4 L1969.3 1601.5 L1970.3 1608.9 L1971.3 1616.8 L1972.0 1622.7 L1972.3 1626.2 L1973.3 1636.5 L1974.3 1646.4 L1975.2 1654.5 L1975.3 1656.6 L1976.3 1668.0 L1977.3 1677.0 L1977.8 1679.2 L1978.3 1680.2 L1979.3 1681.4 L1979.9 1682.1 L1980.3 1682.4 L1981.3 1680.6 L1982.3 1671.8 L1983.3 1668.1 L1983.7 1666.4 L1984.3 1675.8 L1985.3 1676.4 L1986.3 1674.2 L1987.3 1661.2 L1988.0 1660.1 L1988.3 1659.6 L1989.3 1662.2 L1990.1 1657.0 L1990.3 1657.3 L1991.3 1656.8 L1992.3 1644.4 L1993.3 1643.0 L1993.4 1645.4 L1994.3 1655.9 L1995.3 1653.6 L1996.3 1653.5 L1997.3 1644.0 L1998.3 1641.2 L1998.7 1639.4 L1999.3 1650.3 L2000.3 1649.4 L2001.3 1648.1 L2002.3 1637.2 L2003.3 1637.7 L2003.6 1638.6"/>
<path stroke="#c89200" d="M88.3 897.3 L89.3 897.0 L90.3 896.2 L91.3 896.1 L92.3 896.6 L93.3 896.5 L94.3 896.3 L95.3 896.2 L96.3 895.9 L97.3 896.0 L98.3 896.1 L99.3 895.9 L100.3 896.5 L101.3 896.8 L102.3 896.4 L103.3 896.4 L104.3 896.4 L105.3 895.7 L106.3 894.8 L107.3 895.4 L108.3 896.3 L109.3 896.0 L110.3 895.8 L111.3 895.7 L112.3 895.6 L113.3 896.4 L114.3 896.5 L115.3 895.9 L116.3 895.9 L117.3 896.4 L118.3 897.1 L119.3 897.2 L120.3 896.1 L121.3 895.4 L122.3 895.9 L123.3 896.0 L124.3 895.8 L125.3 895.8 L126.3 895.8 L127.3 896.1 L128.3 896.1 L129.3 895.7 L130.3 896.0 L131.3 896.4 L132.3 895.9 L133.3 895.9 L134.3 896.5 L135.3 896.0 L136.3 895.0 L137.3 895.4 L138.3 895.9 L139.3 895.9 L140.3 896.1 L141.3 896.1 L142.3 896.2 L143.3 896.4 L144.3 895.8 L145.3 895.3 L146.3 895.3 L147.3 895.5 L148.3 895.3 L149.3 895.1 L150.3 896.3 L151.3 897.1 L152.3 896.5 L153.3 896.2 L154.3 896.1 L155.3 895.8 L156.3 895.5 L157.3 895.6 L158.3 896.1 L159.3 896.1 L160.3 895.7 L161.3 895.2 L162.3 895.0 L163.3 895.7 L164.3 896.4 L165.3 896.4 L166.3 896.2 L167.3 895.8 L168.3 895.4 L169.3 895.8 L170.3 896.2 L171.3 896.3 L172.3 895.8 L173.3 894.9 L174.3 895.0 L175.3 895.7 L176.3 896.0 L177.3 895.5 L178.3 895.1 L179.3 895.3 L180.3 895.3 L181.3 895.5 L182.3 896.1 L183.3 896.1 L184.3 895.1 L185.3 894.2 L186.3 894.9 L187.3 896.3 L188.3 897.0 L189.3 897.0 L190.3 896.9 L191.3 896.4 L192.3 895.8 L193.3 895.8 L194.3 895.9 L195.3 895.4 L196.3 895.6 L197.3 895.9 L198.3 895.8 L199.3 896.4 L200.3 896.7 L201.3 895.6 L202.3 895.3 L203.3 895.4 L204.3 895.2 L205.3 895.4 L206.3 895.8 L207.3 895.2 L208.3 894.6 L209.3 894.8 L210.3 895.5 L211.3 896.7 L212.3 897.2 L213.3 896.2 L214.3 895.4 L215.3 895.7 L216.3 896.3 L217.3 896.0 L218.3 895.2 L219.3 895.2 L220.3 895.4 L221.3 895.4 L222.3 895.8 L223.3 895.9 L224.3 895.4 L225.3 895.6 L226.3 896.2 L227.3 896.2 L228.3 895.2 L229.3 894.6 L230.3 895.4 L230.7 896.3 L231.3 896.3 L232.3 896.2 L233.3 896.6 L234.3 897.3 L235.3 897.0 L236.3 896.3 L237.3 896.3 L238.3 896.1 L239.3 895.8 L240.3 896.1 L241.3 897.0 L242.3 897.3 L243.3 897.0 L244.3 897.5 L245.3 897.9 L246.3 897.7 L247.3 897.7 L248.3 897.8 L249.3 898.2 L250.3 898.6 L251.3 899.3 L252.3 900.0 L252.3 899.6 L253.3 899.2 L254.3 899.2 L255.3 900.1 L256.3 900.9 L257.3 901.1 L258.3 901.1 L259.3 901.3 L260.3 902.0 L261.3 902.2 L262.3 902.4 L263.3 903.6 L264.3 904.8 L265.3 905.5 L266.3 905.9 L267.3 905.9 L268.3 906.3 L269.3 907.2 L270.3 907.9 L271.3 908.3 L272.3 909.2 L273.3 910.4 L274.0 910.9 L274.3 911.6 L275.3 912.5 L276.3 912.2 L277.3 912.3 L278.3 913.1 L279.3 914.1 L280.3 915.5 L281.3 916.3 L282.3 916.4 L283.3 916.6 L284.3 917.1 L285.3 918.0 L286.3 918.9 L287.3 919.7 L288.3 920.6 L289.3 921.3 L290.3 921.3 L291.3 921.4 L292.3 922.2 L293.3 923.0 L294.3 924.2 L295.3 925.5 L296.3 925.7 L297.3 925.6 L298.3 926.6 L299.3 928.2 L300.3 929.3 L301.3 929.4 L302.3 929.5 L302.8 929.8 L303.3 930.7 L304.3 931.3 L305.3 931.1 L306.3 931.4 L307.3 932.5 L308.3 933.4 L309.3 934.2 L310.3 935.1 L311.3 935.1 L312.3 934.8 L313.3 935.6 L314.3 937.2 L315.3 938.5 L316.3 939.3 L317.3 940.3 L318.3 941.3 L319.3 942.1 L320.3 942.9 L321.3 943.7 L322.3 944.4 L323.3 945.1 L324.3 945.9 L325.3 946.4 L326.3 946.3 L327.3 946.9 L328.3 948.3 L329.3 948.6 L330.3 948.3 L331.3 948.8 L331.7 949.1 L332.3 949.6 L333.3 950.7 L334.3 951.8 L335.3 952.1 L336.3 952.0 L337.3 952.8 L338.3 954.1 L339.3 954.7 L340.3 955.1 L341.3 955.8 L342.3 956.6 L343.3 956.5 L344.3 956.4 L345.3 956.8 L346.3 957.4 L347.3 958.2 L348.3 959.0 L349.3 959.4 L350.3 960.0 L351.3 960.7 L352.3 961.1 L353.3 961.3 L354.3 961.2 L355.3 961.1 L356.3 961.1 L357.3 961.7 L358.3 962.3 L359.3 962.5 L360.3 962.8 L360.5 962.9 L361.3 963.1 L362.3 963.2 L363.3 963.1 L364.3 964.0 L365.3 965.3 L366.3 966.2 L367.3 966.6 L368.3 966.6 L369.3 966.3 L370.3 965.9 L371.3 966.1 L372.3 966.6 L373.3 967.5 L374.3 968.3 L375.3 968.1 L376.3 967.9 L377.3 968.0 L378.3 968.2 L379.3 968.4 L380.3 968.7 L381.3 968.8 L382.3 969.0 L383.3 969.5 L384.3 969.6 L385.3 969.1 L386.3 968.6 L387.3 969.1 L388.3 969.6 L389.3 969.5 L389.3 970.0 L390.3 970.6 L391.3 970.5 L392.3 970.8 L393.3 971.2 L394.3 971.5 L395.3 971.2 L396.3 971.0 L397.3 971.6 L398.3 971.2 L399.3 970.2 L400.3 970.4 L401.3 971.3 L402.3 972.2 L403.3 972.6 L404.3 972.2 L405.3 971.9 L406.3 971.8 L407.3 972.0 L408.3 972.4 L409.3 972.4 L410.3 972.2 L411.3 972.1 L412.3 972.4 L413.3 972.8 L414.3 972.7 L415.3 972.6 L416.3 972.7 L417.3 972.4 L418.3 971.7 L419.3 971.6 L419.3 972.1 L420.3 972.4 L421.3 972.6 L422.3 972.6 L423.3 972.1 L424.3 971.4 L425.3 971.5 L426.3 971.9 L427.3 971.6 L428.3 971.6 L429.3 972.2 L430.3 971.8 L431.3 971.1 L432.3 971.4 L433.3 971.8 L434.3 971.4 L435.3 970.7 L436.3 970.4 L437.3 970.6 L438.3 971.1 L439.3 971.3 L440.3 971.2 L441.3 971.3 L442.3 972.0 L443.3 971.9 L444.3 970.9 L445.3 971.1 L446.3 971.3 L447.0 970.4 L447.3 970.2 L448.3 970.6 L449.3 970.2 L450.3 969.8 L451.3 970.2 L452.3 970.5 L453.3 970.2 L454.3 969.7 L455.3 969.5 L456.3 969.3 L457.3 969.4 L458.3 969.5 L459.3 969.6 L460.3 969.1 L461.3 968.9 L462.3 969.1 L463.3 969.1 L464.3 969.2 L465.3 969.0 L466.3 968.6 L467.3 968.5 L468.3 968.2 L469.3 967.5 L470.3 967.2 L471.3 967.2 L472.3 967.3 L473.3 968.0 L474.3 968.3 L475.3 967.5 L476.3 967.0 L477.3 967.6 L478.3 967.4 L479.3 966.3 L480.3 966.2 L481.3 966.3 L482.3 966.2 L483.3 966.4 L484.3 965.7 L485.3 964.5 L486.3 964.1 L487.3 964.5 L488.3 964.7 L489.3 964.6 L490.3 964.6 L491.3 964.4 L492.3 963.9 L493.3 963.8 L494.3 963.2 L495.3 962.8 L496.3 963.5 L497.3 963.7 L498.3 963.4 L499.3 962.7 L500.3 962.1 L501.3 962.4 L502.3 962.9 L503.3 962.7 L504.3 962.4 L504.7 962.3 L505.3 962.1 L506.3 961.3 L507.3 960.5 L508.3 960.9 L509.3 961.7 L510.3 961.7 L511.3 960.6 L512.3 960.3 L513.3 961.4 L514.3 961.9 L515.3 961.2 L516.3 960.7 L517.3 960.7 L518.3 960.9 L519.3 960.3 L520.3 959.8 L521.3 959.2 L522.3 958.5 L523.3 958.9 L524.3 959.7 L525.3 959.8 L526.3 959.1 L527.3 958.5 L528.3 959.0 L529.3 959.6 L530.3 959.5 L531.3 959.1 L532.3 958.4 L533.3 958.0 L534.3 957.9 L535.3 957.8 L536.3 957.7 L537.3 957.8 L538.3 957.3 L539.3 956.7 L540.3 956.6 L541.3 956.6 L542.3 956.6 L543.3 956.6 L544.3 956.7 L545.3 956.7 L546.3 956.3 L547.3 955.5 L548.3 954.8 L549.3 954.7 L550.3 954.8 L551.3 954.7 L552.3 954.5 L553.3 954.1 L554.3 954.4 L555.3 954.5 L556.3 953.9 L557.3 954.0 L558.3 954.1 L559.3 953.8 L560.3 953.2 L561.3 952.5 L562.3 952.3 L562.4 953.4 L563.3 954.2 L564.3 953.6 L565.3 952.9 L566.3 953.2 L567.3 953.3 L568.3 952.8 L569.3 951.9 L570.3 951.4 L571.3 951.3 L572.3 950.8 L573.3 950.4 L574.3 950.7 L575.3 950.6 L576.3 950.3 L577.3 950.2 L578.3 949.8 L579.3 949.7 L580.3 950.0 L581.3 949.8 L582.3 949.8 L583.3 950.0 L584.3 949.3 L585.3 949.4 L586.3 949.9 L587.3 949.2 L588.3 948.5 L589.3 948.2 L590.3 947.8 L591.3 947.4 L592.3 947.5 L593.3 947.7 L594.3 947.2 L595.3 945.9 L596.3 945.2 L597.3 945.4 L598.3 945.8 L599.3 946.2 L600.3 946.5 L601.3 946.4 L602.3 946.1 L603.3 945.9 L604.3 945.6 L605.3 945.2 L606.3 945.1 L607.3 945.5 L608.3 946.3 L609.3 946.3 L610.3 945.3 L611.3 944.4 L612.3 944.5 L612.8 944.7 L613.3 944.7 L614.3 944.9 L615.3 944.8 L616.3 944.9 L617.3 945.9 L618.3 945.8 L619.3 944.9 L620.3 945.1 L621.3 945.4 L622.3 945.2 L623.3 945.9 L624.3 947.1 L625.3 947.1 L626.3 946.4 L627.3 946.4 L627.3 946.9 L628.3 948.2 L629.3 949.2 L630.3 950.2 L631.3 951.6 L632.3 953.6 L633.3 955.2 L634.3 955.9 L634.5 956.1 L635.3 956.0 L636.3 955.0 L637.3 953.3 L638.3 951.4 L639.3 949.4 L640.3 947.8 L641.3 947.0 L641.7 946.4 L642.3 946.2 L643.3 945.9 L644.3 945.2 L645.3 945.6 L646.3 946.2 L647.3 945.3 L648.3 944.4 L649.3 944.6 L650.3 945.0 L651.3 944.5 L652.3 943.7 L653.3 943.0 L654.3 942.6 L655.3 942.9 L656.3 943.2 L657.3 943.1 L658.3 943.4 L659.3 943.9 L660.3 943.7 L661.3 943.2 L662.3 942.9 L663.3 943.2 L663.3 943.1 L664.3 943.0 L665.3 943.5 L666.3 943.4 L667.3 943.0 L668.3 942.4 L669.3 941.7 L670.3 941.8 L671.3 942.3 L672.3 942.1 L673.3 941.8 L674.3 941.4 L675.3 940.8 L676.3 940.4 L677.3 940.5 L678.3 940.5 L679.3 939.9 L680.3 940.0 L681.3 940.1 L682.3 939.4 L683.3 939.4 L684.3 939.8 L684.9 939.7 L685.3 939.5 L686.3 939.3 L687.3 939.3 L688.3 938.9 L689.3 938.0 L690.3 938.3 L691.3 939.2 L692.3 939.6 L693.3 939.6 L694.3 939.4 L695.3 939.7 L696.3 940.2 L697.3 939.8 L697.3 939.3 L698.3 939.3 L699.3 939.7 L700.3 939.4 L701.3 938.7 L702.3 938.2 L703.3 937.8 L704.3 937.8 L705.3 938.4 L706.3 938.7 L707.3 938.0 L708.3 937.2 L709.3 937.0 L710.3 937.1 L711.3 937.4 L712.3 937.4 L713.3 936.9 L714.3 936.6 L715.3 937.3 L716.3 937.7 L717.3 937.5 L718.3 937.2 L719.3 936.8 L720.3 936.7 L721.3 937.3 L722.3 937.4 L723.3 937.0 L724.3 936.6 L725.3 936.4 L726.3 936.5 L727.3 935.8 L728.3 935.2 L729.3 935.7 L730.3 935.8 L731.3 934.6 L732.3 934.2 L733.3 934.5 L734.3 934.2 L735.3 934.0 L736.3 934.5 L737.3 934.7 L738.3 934.6 L739.3 934.4 L740.3 934.3 L741.3 934.0 L742.3 934.0 L743.3 934.3 L744.3 934.1 L745.3 934.0 L746.3 934.6 L747.3 933.9 L748.3 932.7 L749.3 932.4 L750.3 932.3 L751.3 932.0 L752.3 932.0 L753.3 931.9 L754.3 932.0 L755.3 932.0 L756.3 931.5 L757.3 931.1 L758.3 931.0 L759.3 931.1 L760.3 931.4 L761.3 931.5 L762.3 931.2 L763.3 931.0 L764.3 930.7 L765.3 930.7 L766.3 930.8 L767.3 930.8 L768.3 930.7 L769.3 930.5 L770.3 929.7 L771.3 929.3 L772.3 929.9 L773.3 930.2 L774.3 929.5 L774.8 929.0 L775.3 929.1 L776.3 929.5 L777.3 929.4 L778.3 929.0 L779.3 928.8 L780.3 928.3 L781.3 927.8 L782.3 928.0 L783.3 928.1 L784.3 927.8 L785.3 927.4 L786.3 927.7 L787.3 928.3 L788.3 928.1 L789.3 927.5 L790.3 927.9 L791.3 927.5 L792.3 926.2 L793.3 925.7 L794.3 926.2 L795.3 926.8 L796.3 927.0 L797.3 927.1 L798.3 926.7 L799.3 925.5 L800.3 925.4 L801.3 926.4 L802.3 926.1 L803.3 924.9 L804.3 924.6 L805.3 924.5 L806.3 923.9 L807.3 923.6 L808.3 923.8 L809.3 924.4 L810.3 924.7 L811.3 924.7 L812.3 924.2 L813.3 923.8 L814.3 923.9 L815.3 924.2 L816.3 924.7 L817.3 924.0 L818.3 922.7 L819.3 922.9 L820.3 923.1 L821.3 922.5 L822.3 922.1 L823.3 921.8 L824.3 921.6 L825.3 921.7 L826.3 921.6 L827.3 921.3 L828.3 921.3 L829.3 921.5 L830.3 921.0 L831.3 920.3 L832.3 920.5 L833.3 920.3 L834.3 919.9 L835.3 920.4 L836.3 920.7 L837.3 920.6 L838.3 920.3 L839.3 919.9 L840.3 920.5 L841.3 920.7 L842.3 919.9 L843.3 919.3 L844.3 919.4 L845.3 919.5 L846.3 919.9 L847.3 920.6 L848.3 920.5 L849.3 920.2 L850.3 920.1 L851.3 919.4 L852.3 918.3 L852.3 918.0 L853.3 918.3 L854.3 918.7 L855.3 919.1 L856.3 919.4 L857.3 919.3 L858.3 918.5 L859.3 918.3 L860.3 919.0 L861.3 918.8 L862.3 918.0 L863.3 917.7 L864.3 918.0 L865.3 918.4 L866.3 917.9 L867.3 916.8 L868.3 916.9 L869.3 917.5 L870.3 917.6 L871.3 917.6 L872.3 917.8 L873.3 917.6 L874.3 917.5 L875.3 917.3 L876.3 917.1 L877.3 917.9 L878.3 918.4 L879.3 917.8 L880.3 917.2 L881.3 916.9 L882.3 916.5 L883.3 916.2 L884.3 916.9 L885.3 917.4 L886.3 916.9 L887.3 916.7 L888.3 917.3 L889.3 917.5 L890.3 917.1 L891.3 916.7 L892.3 916.4 L893.3 916.3 L894.3 916.3 L895.3 916.3 L896.3 915.9 L897.3 916.0 L898.3 916.5 L899.3 916.3 L900.3 915.8 L901.3 915.9 L902.3 915.8 L903.3 915.6 L904.3 916.2 L905.3 916.4 L906.3 915.6 L906.4 915.2 L907.3 915.4 L908.3 915.8 L909.3 915.9 L910.3 915.5 L911.3 915.4 L912.3 915.5 L913.3 915.1 L914.3 915.0 L915.3 915.9 L916.3 916.6 L917.3 916.5 L918.3 916.1 L919.3 915.8 L920.3 915.7 L921.3 915.9 L922.3 915.6 L923.3 915.1 L924.3 915.0 L925.3 914.6 L926.3 914.5 L927.3 914.7 L928.3 914.2 L929.3 914.0 L930.3 914.0 L931.3 914.3 L932.3 914.2 L933.3 913.9 L934.3 914.5 L935.3 915.2 L936.3 915.2 L937.3 914.2 L938.3 913.1 L939.3 913.3 L940.3 914.4 L941.3 915.3 L942.3 915.1 L943.3 914.0 L944.3 913.7 L945.3 914.3 L946.3 914.2 L947.3 913.2 L948.3 912.7 L949.3 913.5 L950.3 914.4 L951.3 913.9 L952.3 913.3 L953.3 913.4 L954.3 913.7 L955.3 913.9 L956.3 913.8 L957.3 913.8 L958.3 914.0 L959.3 913.0 L960.3 912.9 L960.5 913.9 L961.3 914.4 L962.3 913.8 L963.3 913.5 L964.3 914.1 L965.3 914.1 L966.3 914.0 L967.3 914.0 L968.3 913.9 L969.3 914.5 L970.3 914.7 L971.3 914.4 L972.3 914.1 L973.3 914.1 L974.3 914.2 L975.3 914.0 L976.3 914.2 L977.3 914.4 L978.3 914.2 L979.3 914.0 L980.3 914.0 L981.3 914.5 L982.3 914.9 L983.3 914.5 L984.3 914.3 L985.3 913.8 L986.3 913.5 L987.3 913.7 L988.3 913.6 L989.3 913.6 L990.3 913.2 L991.3 913.1 L992.3 913.8 L993.3 914.4 L994.3 914.6 L995.3 915.2 L996.3 915.0 L997.3 914.1 L998.3 913.6 L999.3 913.8 L1000.3 914.1 L1001.3 914.2 L1002.3 914.2 L1003.3 913.9 L1004.3 914.2 L1005.3 914.8 L1006.3 914.8 L1007.3 914.5 L1008.3 914.8 L1009.3 915.1 L1010.3 914.8 L1011.3 914.9 L1012.3 915.5 L1013.3 915.0 L1014.3 914.6 L1015.3 915.2 L1016.3 915.2 L1017.3 914.9 L1018.3 915.5 L1019.3 915.8 L1020.3 915.3 L1021.3 914.7 L1022.3 914.9 L1023.3 915.6 L1024.3 916.5 L1025.3 916.9 L1026.3 916.3 L1027.3 915.4 L1028.3 915.1 L1029.3 915.0 L1030.3 914.7 L1031.3 915.1 L1032.3 915.7 L1033.3 915.5 L1034.3 914.9 L1035.3 915.0 L1036.3 915.5 L1037.3 916.1 L1038.3 916.0 L1039.3 915.9 L1040.3 916.8 L1041.3 917.5 L1042.3 917.4 L1043.3 916.8 L1044.3 916.5 L1045.3 916.6 L1046.3 916.6 L1047.3 916.9 L1048.3 917.3 L1049.3 917.2 L1050.3 915.7 L1051.3 914.7 L1052.3 916.0 L1053.3 917.3 L1054.3 917.0 L1055.3 916.9 L1056.3 917.9 L1057.3 918.3 L1058.3 918.0 L1059.3 918.0 L1060.3 917.7 L1061.3 918.0 L1062.3 918.8 L1063.3 918.7 L1064.3 918.1 L1065.3 918.2 L1066.3 918.9 L1067.3 918.2 L1068.3 914.5 L1069.3 911.0 L1070.3 909.6 L1071.3 910.0 L1072.3 908.8 L1073.3 908.1 L1074.3 908.3 L1075.3 908.9 L1076.3 909.5 L1077.3 909.9 L1078.3 910.5 L1079.3 909.8 L1080.3 909.0 L1081.3 909.2 L1082.3 908.8 L1083.3 909.3 L1084.3 910.2 L1085.3 909.5 L1086.3 909.1 L1087.3 909.9 L1088.3 910.1 L1089.3 909.5 L1090.3 909.4 L1091.3 910.3 L1092.3 911.0 L1093.3 911.1 L1094.3 911.0 L1095.3 910.2 L1096.3 909.8 L1097.3 910.1 L1098.3 910.5 L1099.3 910.4 L1100.3 909.9 L1101.3 911.2 L1102.3 912.4 L1103.3 911.7 L1104.3 910.6 L1105.3 910.9 L1106.3 912.0 L1107.3 912.0 L1108.3 911.8 L1109.3 911.1 L1110.3 910.6 L1111.3 911.8 L1112.3 913.4 L1113.3 913.1 L1114.3 911.7 L1115.3 910.0 L1116.3 909.9 L1117.3 911.2 L1118.3 910.8 L1119.3 911.6 L1120.3 913.4 L1121.3 912.8 L1122.3 912.1 L1123.3 913.5 L1124.3 914.4 L1125.3 914.4 L1126.3 915.5 L1127.3 915.2 L1128.3 913.8 L1129.3 914.6 L1130.3 915.7 L1131.3 914.3 L1132.3 912.6 L1133.3 913.4 L1134.3 914.1 L1135.3 913.1 L1136.3 912.9 L1137.3 913.8 L1138.3 916.6 L1139.3 918.1 L1140.3 914.9 L1141.3 912.4 L1142.3 914.0 L1143.3 916.1 L1144.3 915.7 L1145.3 913.4 L1146.3 913.2 L1147.3 915.0 L1148.3 915.0 L1149.3 914.3 L1150.3 914.8 L1151.3 914.9 L1152.3 915.2 L1153.3 915.9 L1154.3 915.7 L1155.3 915.3 L1156.3 914.3 L1157.3 913.4 L1158.3 914.9 L1159.3 916.2 L1160.3 915.2 L1161.3 914.0 L1162.3 914.8 L1163.3 915.6 L1164.3 915.0 L1165.3 914.7 L1166.3 913.9 L1167.3 913.9 L1168.3 915.5 L1169.3 915.7 L1170.3 914.9 L1171.3 914.8 L1172.3 914.0 L1173.3 913.3 L1174.3 913.6 L1175.3 914.0 L1176.3 914.9 L1176.8 915.0 L1177.3 913.8 L1178.3 913.1 L1179.3 913.1 L1180.3 913.2 L1181.3 913.3 L1182.3 912.8 L1183.3 912.2 L1184.3 911.7 L1185.3 911.4 L1186.3 912.6 L1187.3 914.1 L1188.3 914.3 L1189.3 913.5 L1190.3 912.5 L1191.3 912.0 L1192.3 912.1 L1193.3 912.5 L1194.3 912.1 L1195.3 911.9 L1196.3 912.8 L1197.3 913.1 L1198.3 912.2 L1199.3 911.6 L1200.0 912.0 L1200.3 912.9 L1201.3 913.1 L1202.3 912.5 L1203.3 912.2 L1204.3 912.6 L1205.3 912.8 L1206.3 912.6 L1207.3 912.8 L1208.3 912.7 L1209.3 912.5 L1210.3 912.7 L1211.3 912.3 L1212.3 912.1 L1213.3 912.2 L1214.3 912.0 L1215.3 911.4 L1216.3 911.2 L1217.3 911.5 L1218.3 911.6 L1219.3 911.7 L1220.3 911.8 L1221.3 911.8 L1222.3 912.2 L1223.3 912.7 L1224.3 912.8 L1225.3 912.5 L1226.3 911.8 L1227.3 911.7 L1228.3 911.8 L1229.3 911.9 L1230.3 912.1 L1231.3 912.1 L1232.3 912.1 L1233.3 912.3 L1234.3 912.1 L1235.3 912.1 L1236.3 912.4 L1237.3 912.5 L1238.3 912.2 L1239.3 911.7 L1240.3 911.6 L1241.3 911.3 L1242.3 911.0 L1243.3 911.8 L1244.3 912.4 L1245.3 912.1 L1246.3 911.8 L1247.3 912.3 L1248.3 912.8 L1249.3 912.7 L1250.3 912.1 L1251.3 911.7 L1252.3 911.4 L1253.3 911.4 L1254.3 911.8 L1255.3 911.6 L1256.3 911.9 L1257.3 912.7 L1258.3 912.6 L1259.3 911.7 L1260.3 910.9 L1261.3 910.7 L1262.3 911.9 L1263.3 912.6 L1264.3 912.0 L1265.3 911.6 L1266.3 911.6 L1267.3 911.9 L1268.3 912.2 L1269.3 911.9 L1270.3 912.0 L1271.3 912.5 L1272.3 912.5 L1273.3 912.0 L1274.3 911.9 L1275.3 912.4 L1276.3 912.5 L1277.3 912.1 L1278.3 912.0 L1279.3 912.5 L1280.3 911.9 L1281.3 911.0 L1282.3 911.8 L1283.3 912.7 L1284.3 912.4 L1285.3 911.5 L1286.3 911.6 L1287.3 911.8 L1288.3 912.3 L1289.3 912.8 L1289.3 912.3 L1290.3 912.3 L1291.3 912.7 L1292.3 912.7 L1293.3 913.1 L1294.3 914.3 L1295.3 915.1 L1296.3 914.9 L1297.3 915.6 L1298.3 916.4 L1299.3 916.5 L1300.3 916.6 L1301.3 917.2 L1302.3 917.7 L1303.3 918.4 L1304.3 919.8 L1305.0 920.8 L1305.3 921.1 L1306.3 921.4 L1307.3 921.6 L1308.3 922.2 L1309.3 923.4 L1310.3 924.9 L1311.3 925.9 L1312.3 926.2 L1313.3 926.8 L1314.3 927.6 L1315.3 928.4 L1316.3 929.2 L1317.3 930.0 L1318.3 930.3 L1319.3 930.3 L1320.3 931.0 L1321.3 932.2 L1322.3 933.0 L1323.3 933.9 L1323.4 933.9 L1324.3 933.9 L1325.3 933.7 L1326.3 934.4 L1327.3 935.8 L1328.3 936.0 L1329.3 936.5 L1330.3 937.3 L1331.3 937.9 L1332.3 938.7 L1333.3 938.9 L1334.3 939.0 L1335.3 939.3 L1336.3 939.5 L1337.3 939.7 L1338.3 939.8 L1339.2 940.2 L1339.3 940.8 L1340.3 940.9 L1341.3 940.5 L1342.3 939.7 L1343.3 939.1 L1344.3 939.6 L1345.3 939.4 L1346.3 938.5 L1347.3 938.3 L1348.3 937.7 L1349.3 937.4 L1349.7 937.9 L1350.3 937.4 L1351.3 936.1 L1352.3 935.3 L1353.3 935.2 L1354.3 935.0 L1355.3 934.6 L1356.3 933.7 L1357.3 933.1 L1358.3 932.5 L1359.3 931.1 L1360.3 930.8 L1361.3 931.2 L1362.3 930.2 L1362.8 929.1 L1363.3 929.0 L1364.3 928.6 L1365.3 928.0 L1366.3 927.6 L1367.3 927.0 L1368.3 926.5 L1369.3 926.5 L1370.3 925.7 L1371.3 925.0 L1372.3 925.4 L1373.3 925.5 L1374.3 925.0 L1375.3 925.0 L1376.3 925.3 L1377.3 925.1 L1378.3 924.6 L1378.6 924.2 L1379.3 924.2 L1380.3 924.7 L1381.3 924.2 L1382.3 923.4 L1383.3 923.8 L1384.3 924.8 L1385.3 925.5 L1386.3 925.7 L1387.3 925.2 L1388.3 925.1 L1389.3 925.2 L1390.3 925.2 L1391.3 924.7 L1392.3 924.6 L1393.3 925.4 L1394.3 926.1 L1394.3 926.1 L1395.3 926.3 L1396.3 926.7 L1397.3 927.7 L1398.3 929.1 L1399.3 930.6 L1400.3 932.1 L1401.3 932.8 L1402.3 932.9 L1403.3 933.7 L1404.3 934.9 L1405.3 935.8 L1406.3 936.9 L1407.3 938.4 L1407.5 938.9 L1408.3 939.9 L1409.3 941.3 L1410.3 942.3 L1411.3 942.5 L1412.3 943.4 L1413.3 945.0 L1414.3 946.0 L1415.3 947.0 L1416.3 947.8 L1417.3 948.7 L1418.3 950.2 L1419.3 951.3 L1420.3 951.8 L1420.6 952.1 L1421.3 953.0 L1422.3 953.5 L1423.3 954.2 L1424.3 955.7 L1425.3 956.9 L1426.3 957.6 L1427.3 958.9 L1428.3 960.1 L1429.3 961.0 L1430.3 961.4 L1431.3 961.2 L1432.3 961.2 L1433.3 961.7 L1433.7 962.1 L1434.3 962.1 L1435.3 961.8 L1436.3 961.9 L1437.3 962.0 L1438.3 961.4 L1439.3 960.1 L1440.3 959.0 L1441.3 958.5 L1442.3 958.3 L1443.3 958.3 L1444.3 957.9 L1445.3 957.7 L1445.5 958.1 L1446.3 957.8 L1447.3 957.9 L1448.3 959.0 L1449.3 959.3 L1450.3 958.6 L1451.3 959.2 L1452.3 960.9 L1453.3 961.6 L1454.3 961.6 L1455.3 962.3 L1456.3 963.5 L1457.3 964.6 L1458.3 965.2 L1459.3 965.5 L1460.3 966.0 L1461.3 966.2 L1462.3 966.5 L1462.6 966.2 L1463.3 966.0 L1464.3 966.1 L1465.3 965.9 L1466.3 965.6 L1467.3 965.2 L1468.3 964.6 L1469.3 963.7 L1470.3 963.0 L1471.3 962.7 L1472.3 962.4 L1473.1 962.3 L1473.3 962.7 L1474.3 962.8 L1475.3 962.8 L1476.3 963.2 L1477.3 963.4 L1478.3 963.5 L1478.4 963.6 L1479.3 963.4 L1480.3 963.3 L1481.3 962.6 L1482.3 960.0 L1483.3 958.6 L1484.3 958.6 L1485.3 957.0 L1486.2 954.6 L1486.3 954.6 L1487.3 952.3 L1488.3 949.1 L1489.3 945.7 L1490.3 941.9 L1491.3 938.7 L1491.5 938.3 L1492.3 936.4 L1493.3 934.0 L1494.3 932.4 L1495.3 931.8 L1496.3 930.6 L1497.3 928.1 L1498.3 925.9 L1499.3 924.9 L1499.4 925.3 L1500.3 925.2 L1501.3 924.9 L1502.3 924.1 L1503.3 923.5 L1504.3 922.1 L1505.3 920.7 L1506.3 920.3 L1507.3 919.9 L1508.3 919.7 L1508.6 920.3 L1509.3 920.2 L1510.3 919.5 L1511.3 919.3 L1512.3 919.3 L1513.3 918.7 L1514.3 918.8 L1515.3 919.4 L1516.3 919.7 L1517.3 919.0 L1518.3 918.7 L1519.3 919.0 L1520.3 918.8 L1521.3 918.9 L1522.3 919.2 L1523.0 918.6 L1523.3 917.5 L1524.3 916.9 L1525.3 917.1 L1526.3 917.5 L1527.3 916.8 L1528.3 915.6 L1529.3 915.2 L1530.3 915.0 L1531.3 914.6 L1532.3 914.3 L1533.3 914.1 L1534.3 914.0 L1535.3 914.2 L1536.3 913.9 L1537.3 913.9 L1538.3 913.5 L1538.8 913.3 L1539.3 913.8 L1540.3 913.4 L1541.3 912.9 L1542.3 913.4 L1543.3 913.3 L1544.3 912.1 L1545.3 912.0 L1546.3 913.3 L1547.3 914.1 L1548.3 913.6 L1549.3 913.0 L1550.3 913.1 L1551.3 912.9 L1552.3 913.0 L1553.3 913.3 L1554.3 913.6 L1554.5 914.1 L1555.3 914.3 L1556.3 913.8 L1557.3 913.6 L1558.3 914.2 L1559.3 914.8 L1560.3 915.1 L1561.3 914.9 L1562.3 914.7 L1563.3 915.3 L1564.3 915.8 L1565.3 915.8 L1566.3 916.2 L1567.3 916.8 L1568.3 916.9 L1569.3 916.8 L1570.3 917.4 L1571.3 917.8 L1572.3 918.1 L1572.9 918.9 L1573.3 919.6 L1574.3 920.1 L1575.3 921.2 L1576.3 922.9 L1577.3 923.9 L1578.3 924.4 L1579.3 925.6 L1580.3 926.9 L1580.8 927.2 L1581.3 928.3 L1582.3 930.1 L1583.3 931.5 L1584.3 932.5 L1585.3 933.8 L1586.3 935.3 L1587.3 936.5 L1588.3 938.4 L1588.7 939.8 L1589.3 941.0 L1590.3 943.5 L1591.3 947.6 L1592.3 951.9 L1593.3 955.5 L1593.9 956.5 L1594.3 956.7 L1595.3 958.4 L1596.3 959.9 L1597.3 961.1 L1598.3 961.4 L1599.3 961.9 L1600.3 963.6 L1601.3 965.1 L1601.8 965.0 L1602.3 964.9 L1603.3 966.7 L1604.3 969.3 L1605.3 971.8 L1606.3 973.7 L1607.3 975.7 L1608.3 979.0 L1609.3 982.5 L1610.3 985.0 L1611.3 986.9 L1612.3 988.7 L1612.3 989.0 L1613.3 991.1 L1614.3 992.6 L1615.3 994.7 L1616.3 997.5 L1617.3 999.4 L1618.3 1000.7 L1619.3 1002.4 L1620.3 1004.8 L1621.3 1007.7 L1622.3 1010.2 L1622.8 1010.7 L1623.3 1011.2 L1624.3 1013.2 L1625.3 1015.4 L1626.3 1017.7 L1627.3 1019.8 L1628.3 1022.4 L1628.4 1022.5 L1629.3 1025.1 L1630.3 1028.2 L1631.3 1030.6 L1632.3 1033.8 L1633.3 1037.9 L1634.3 1042.1 L1635.3 1045.5 L1636.3 1048.0 L1637.3 1051.2 L1638.3 1055.3 L1638.9 1057.7 L1639.3 1059.0 L1640.3 1062.9 L1641.3 1067.7 L1642.3 1072.5 L1643.3 1077.0 L1644.3 1081.5 L1645.3 1086.6 L1646.3 1092.4 L1647.3 1098.1 L1648.3 1102.9 L1649.3 1107.4 L1649.4 1107.4 L1650.3 1111.2 L1651.3 1115.4 L1652.3 1119.4 L1653.3 1124.3 L1654.3 1129.9 L1655.3 1135.3 L1656.3 1139.8 L1657.3 1143.8 L1658.3 1147.9 L1658.6 1149.0 L1659.3 1152.4 L1660.3 1157.4 L1661.3 1162.1 L1662.3 1166.1 L1663.3 1170.5 L1664.3 1174.6 L1665.3 1178.4 L1666.3 1182.6 L1667.3 1186.9 L1668.3 1191.1 L1669.3 1196.5 L1670.3 1201.7 L1670.4 1201.7 L1671.3 1206.1 L1672.3 1212.1 L1673.3 1218.2 L1674.3 1224.4 L1675.3 1230.5 L1676.3 1235.7 L1677.3 1241.2 L1678.3 1247.4 L1678.8 1250.5 L1679.3 1253.8 L1680.3 1258.9 L1681.3 1263.4 L1682.3 1267.6 L1683.3 1272.1 L1684.3 1276.8 L1685.3 1281.9 L1686.3 1287.4 L1687.3 1292.8 L1688.3 1297.5 L1689.3 1302.4 L1689.3 1302.7 L1690.3 1308.6 L1691.3 1315.1 L1692.3 1322.0 L1693.3 1329.1 L1694.3 1335.9 L1695.3 1342.2 L1696.3 1348.6 L1697.2 1354.7 L1697.3 1356.7 L1698.3 1364.0 L1699.3 1370.8 L1700.3 1377.0 L1701.3 1383.8 L1702.3 1391.0 L1703.3 1397.1 L1704.3 1403.0 L1705.0 1407.8 L1705.3 1409.6 L1706.3 1414.6 L1707.3 1419.7 L1708.3 1424.4 L1709.3 1427.8 L1710.3 1429.5 L1711.0 1430.1 L1711.3 1430.6 L1712.3 1429.9 L1713.3 1428.3 L1714.3 1426.4 L1715.3 1424.4 L1715.5 1424.5 L1716.3 1423.5 L1717.3 1420.4 L1718.3 1416.0 L1719.3 1410.5 L1720.3 1405.4 L1721.3 1401.0 L1722.3 1396.4 L1723.3 1391.9 L1723.4 1391.9 L1724.3 1389.0 L1725.3 1384.7 L1726.3 1380.0 L1727.3 1376.2 L1728.3 1373.7 L1728.7 1373.4 L1729.3 1372.5 L1730.3 1371.1 L1731.3 1369.2 L1732.3 1366.9 L1732.6 1366.3 L1733.3 1366.0 L1734.3 1365.3 L1735.3 1364.3 L1736.3 1363.6 L1737.3 1362.2 L1737.9 1361.5 L1738.3 1361.6 L1739.3 1358.4 L1740.3 1354.1 L1741.3 1351.1 L1741.8 1350.6 L1742.3 1348.8 L1743.3 1343.6 L1744.3 1338.3 L1745.3 1333.1 L1746.3 1327.8 L1747.1 1323.5 L1747.3 1321.7 L1748.3 1316.7 L1749.3 1311.3 L1750.3 1305.8 L1751.3 1299.8 L1752.3 1293.9 L1753.3 1289.5 L1754.3 1285.6 L1754.9 1282.7 L1755.3 1280.6 L1756.3 1276.8 L1757.3 1273.2 L1758.3 1269.1 L1759.3 1264.6 L1760.3 1260.5 L1761.3 1257.6 L1762.3 1255.2 L1763.3 1252.0 L1764.1 1249.3 L1764.3 1248.9 L1765.3 1246.8 L1766.3 1245.1 L1767.3 1244.1 L1768.3 1242.9 L1769.3 1241.0 L1770.3 1238.5 L1771.3 1236.2 L1772.3 1234.0 L1772.8 1232.7 L1773.3 1232.0 L1774.3 1229.6 L1775.3 1226.9 L1776.3 1225.2 L1777.3 1223.6 L1778.3 1221.1 L1779.3 1218.8 L1780.3 1217.1 L1780.7 1216.4 L1781.3 1213.9 L1782.3 1209.4 L1783.3 1205.9 L1784.3 1203.3 L1785.3 1201.3 L1786.0 1200.0 L1786.3 1199.5 L1787.3 1198.4 L1788.3 1197.0 L1789.3 1195.5 L1790.3 1194.3 L1791.3 1193.6 L1792.3 1193.0 L1793.3 1192.1 L1793.9 1191.2 L1794.3 1190.3 L1795.3 1188.9 L1796.3 1186.6 L1797.3 1184.2 L1798.3 1182.5 L1799.1 1181.8 L1799.3 1182.3 L1800.3 1181.8 L1801.3 1181.2 L1802.3 1181.8 L1803.3 1182.0 L1804.3 1181.4 L1805.3 1180.7 L1806.3 1180.1 L1807.3 1180.0 L1808.3 1180.6 L1808.3 1180.8 L1809.3 1180.7 L1810.3 1180.6 L1811.3 1180.8 L1812.3 1181.9 L1813.3 1182.9 L1814.3 1183.3 L1814.9 1183.7 L1815.3 1183.8 L1816.3 1184.6 L1817.3 1186.1 L1818.3 1187.8 L1819.3 1190.1 L1820.3 1192.2 L1821.3 1193.6 L1822.3 1195.1 L1822.7 1196.2 L1823.3 1197.6 L1824.3 1199.2 L1825.3 1200.2 L1826.3 1201.1 L1827.3 1203.2 L1828.3 1205.8 L1829.3 1207.8 L1830.3 1209.0 L1831.3 1209.4 L1832.3 1209.7 L1833.2 1210.2 L1833.3 1210.4 L1834.3 1210.7 L1835.3 1211.4 L1836.3 1212.6 L1837.3 1213.2 L1838.3 1214.3 L1839.3 1215.6 L1840.3 1216.0 L1841.1 1215.8 L1841.3 1215.4 L1842.3 1216.0 L1843.3 1217.0 L1844.3 1217.8 L1845.3 1218.1 L1846.3 1218.9 L1847.3 1220.9 L1848.3 1222.5 L1849.3 1223.1 L1850.3 1223.9 L1850.3 1224.0 L1851.3 1225.3 L1852.3 1227.2 L1853.3 1228.7 L1854.3 1229.8 L1855.3 1231.4 L1856.3 1233.2 L1856.9 1234.1 L1857.3 1233.7 L1858.3 1234.3 L1859.3 1235.7 L1860.3 1236.6 L1861.3 1237.1 L1862.3 1237.7 L1863.3 1238.5 L1864.3 1238.7 L1864.8 1238.6 L1865.3 1238.6 L1866.3 1238.4 L1867.3 1238.1 L1868.3 1238.0 L1869.3 1238.0 L1870.3 1237.3 L1871.3 1235.4 L1872.3 1234.7 L1872.6 1235.1 L1873.3 1235.4 L1874.3 1235.6 L1875.3 1235.7 L1876.3 1236.0 L1877.3 1236.3 L1878.3 1236.4 L1879.3 1236.1 L1880.3 1236.1 L1880.5 1236.3 L1881.3 1235.8 L1882.3 1235.9 L1883.3 1236.8 L1884.3 1238.1 L1885.3 1239.8 L1886.3 1240.6 L1887.3 1241.6 L1888.3 1243.4 L1889.3 1244.2 L1890.3 1244.6 L1891.3 1245.9 L1892.3 1246.4 L1893.3 1246.6 L1893.6 1246.8 L1894.3 1246.7 L1895.3 1247.2 L1896.3 1247.7 L1897.3 1246.9 L1898.3 1246.5 L1899.3 1247.1 L1900.3 1247.7 L1901.3 1247.8 L1901.5 1247.1 L1902.3 1246.6 L1903.3 1247.4 L1904.3 1247.9 L1905.3 1247.8 L1906.3 1248.0 L1907.3 1249.5 L1908.3 1251.2 L1909.3 1251.7 L1910.3 1252.3 L1911.3 1252.9 L1912.0 1253.0 L1912.3 1253.1 L1913.3 1253.5 L1914.3 1253.0 L1915.3 1253.1 L1916.3 1254.7 L1917.3 1255.6 L1918.3 1255.9 L1919.3 1256.4 L1920.3 1256.9 L1920.4 1257.3 L1921.3 1258.8 L1922.3 1259.9 L1923.3 1261.3 L1924.3 1263.2 L1925.3 1265.4 L1926.3 1267.8 L1927.0 1269.2 L1927.3 1270.2 L1928.3 1274.7 L1929.3 1279.7 L1930.3 1284.7 L1930.9 1287.6 L1931.3 1288.7 L1932.3 1291.8 L1933.3 1295.5 L1934.3 1298.7 L1935.3 1301.2 L1936.2 1304.6 L1936.3 1306.4 L1937.3 1310.7 L1938.3 1314.9 L1939.3 1320.5 L1940.3 1325.6 L1941.3 1330.5 L1941.4 1331.5 L1942.3 1336.3 L1943.3 1341.8 L1944.3 1347.5 L1945.3 1353.4 L1946.3 1360.1 L1946.7 1363.0 L1947.3 1368.1 L1948.3 1375.8 L1949.3 1383.7 L1950.3 1392.3 L1950.6 1395.1 L1951.3 1400.9 L1952.3 1409.0 L1953.3 1417.0 L1954.3 1424.7 L1954.6 1426.7 L1955.3 1433.7 L1956.3 1441.8 L1957.3 1448.4 L1958.3 1455.8 L1959.3 1463.4 L1959.8 1466.4 L1960.3 1469.8 L1961.3 1477.7 L1962.3 1485.0 L1962.6 1486.4 L1963.3 1492.0 L1964.3 1499.5 L1965.3 1507.0 L1966.3 1514.1 L1967.3 1520.4 L1967.8 1523.3 L1968.3 1527.2 L1969.3 1533.1 L1970.3 1538.5 L1971.3 1544.2 L1972.3 1550.4 L1973.1 1555.7 L1973.3 1557.7 L1974.3 1565.8 L1975.3 1574.2 L1976.2 1581.0 L1976.3 1581.9 L1977.3 1591.8 L1978.3 1600.6 L1979.3 1605.2 L1979.6 1606.0 L1980.3 1606.8 L1981.3 1606.0 L1982.3 1598.5 L1983.1 1594.1 L1983.3 1592.2 L1984.3 1600.1 L1985.3 1601.0 L1986.3 1600.1 L1987.3 1586.7 L1987.4 1587.5 L1988.3 1585.7 L1989.3 1589.4 L1989.6 1588.4 L1990.3 1587.7 L1991.3 1585.4 L1992.3 1572.7 L1992.8 1571.1 L1993.3 1567.9 L1994.2 1561.9 L1994.3 1574.0 L1995.3 1573.9 L1996.3 1572.9 L1997.3 1562.0 L1998.3 1560.8 L1998.5 1559.2 L1999.3 1564.2 L2000.3 1556.8 L2000.7 1556.6 L2001.3 1558.6 L2002.3 1551.3 L2003.3 1554.6 L2003.6 1553.4"/>
<path stroke="#00c8c8" d="M88.3 809.7 L89.3 809.8 L90.3 810.3 L91.3 810.9 L92.3 811.0 L93.3 810.2 L94.3 809.3 L95.3 809.1 L96.3 809.6 L97.3 810.0 L98.3 810.0 L99.3 809.4 L100.3 808.8 L101.3 808.9 L102.3 808.5 L103.3 808.6 L104.3 809.3 L105.3 809.5 L106.3 810.0 L107.3 809.9 L108.3 809.1 L109.3 808.7 L110.3 808.5 L111.3 808.7 L112.3 808.7 L113.3 809.0 L114.3 809.7 L115.3 810.1 L116.3 809.8 L117.3 809.2 L118.3 809.4 L119.3 809.9 L120.3 810.0 L121.3 810.2 L122.3 810.4 L123.3 810.1 L124.3 809.8 L125.3 809.6 L126.3 809.6 L127.3 809.3 L128.3 808.6 L129.3 808.3 L130.3 808.8 L131.3 809.6 L132.3 809.8 L133.3 809.0 L134.3 808.1 L135.3 808.5 L136.3 809.1 L137.3 809.1 L138.3 809.4 L139.3 809.7 L140.3 809.7 L141.3 809.9 L142.3 809.7 L143.3 808.9 L144.3 808.4 L145.3 808.1 L146.3 808.5 L147.3 809.7 L148.3 809.9 L149.3 809.2 L150.3 808.9 L151.3 809.1 L152.3 809.9 L153.3 810.3 L154.3 809.9 L155.3 809.1 L156.3 808.7 L157.3 808.5 L158.3 808.1 L159.3 807.9 L160.3 808.5 L161.3 809.0 L162.3 808.6 L163.3 808.5 L164.3 809.2 L165.3 809.7 L166.3 810.2 L167.3 810.3 L168.3 810.0 L169.3 810.0 L170.3 810.0 L171.3 809.7 L172.3 809.8 L173.3 809.5 L174.3 809.0 L175.3 809.3 L176.3 809.3 L177.3 809.2 L178.3 809.1 L179.3 808.6 L180.3 808.9 L181.3 809.3 L182.3 809.0 L183.3 809.3 L184.3 809.6 L185.3 809.3 L186.3 808.9 L187.3 808.6 L188.3 808.7 L189.3 809.3 L190.3 809.6 L191.3 809.2 L192.3 808.6 L193.3 808.8 L194.3 809.1 L195.3 808.8 L196.3 808.7 L197.3 809.1 L198.3 809.0 L199.3 808.9 L200.3 809.0 L201.3 808.7 L202.3 808.7 L203.3 809.0 L204.3 808.9 L205.3 809.0 L206.3 809.4 L207.3 809.0 L208.3 808.9 L209.3 809.1 L210.3 809.0 L211.3 809.4 L212.3 809.7 L213.3 809.4 L214.3 809.3 L215.3 809.2 L216.3 808.9 L217.3 808.8 L218.3 809.5 L219.3 809.9 L220.3 809.5 L221.3 809.0 L222.3 809.0 L223.3 809.0 L224.3 809.0 L225.3 808.9 L226.3 809.0 L227.3 809.6 L228.3 810.0 L229.3 809.5 L230.3 808.8 L230.7 808.6 L231.3 808.6 L232.3 808.0 L233.3 807.8 L234.3 808.8 L235.3 809.5 L236.3 809.3 L237.3 809.4 L238.3 810.0 L239.3 810.2 L240.3 810.1 L241.3 810.3 L242.3 811.0 L243.3 811.8 L244.3 812.0 L245.3 811.7 L246.3 812.3 L247.3 812.7 L248.3 812.5 L249.3 813.0 L250.3 813.7 L251.3 813.6 L252.3 813.5 L252.3 814.6 L253.3 815.5 L254.3 815.4 L255.3 815.9 L256.3 816.2 L257.3 815.9 L258.3 816.2 L259.3 817.5 L260.3 818.7 L261.3 819.2 L262.3 819.8 L263.3 820.6 L264.3 820.6 L265.3 820.8 L266.3 821.0 L267.3 821.4 L268.3 823.0 L269.3 824.0 L270.3 824.7 L271.3 826.1 L272.3 826.5 L273.3 826.6 L274.0 827.2 L274.3 827.7 L275.3 828.4 L276.3 829.1 L277.3 829.9 L278.3 830.0 L279.3 830.3 L280.3 831.7 L281.3 833.2 L282.3 833.2 L283.3 833.3 L284.3 834.6 L285.3 835.5 L286.3 835.8 L287.3 836.0 L288.3 836.4 L289.3 837.6 L290.3 839.4 L291.3 840.4 L292.3 840.8 L293.3 842.0 L294.3 843.3 L295.3 843.8 L296.3 843.8 L297.3 844.1 L298.3 845.6 L299.3 846.4 L300.3 846.0 L301.3 846.8 L302.3 848.8 L302.8 849.3 L303.3 849.1 L304.3 850.0 L305.3 851.0 L306.3 851.7 L307.3 852.4 L308.3 853.5 L309.3 855.0 L310.3 856.0 L311.3 856.2 L312.3 856.1 L313.3 857.0 L314.3 858.6 L315.3 859.5 L316.3 860.2 L317.3 860.7 L318.3 860.8 L319.3 861.5 L320.3 863.0 L321.3 865.3 L322.3 866.9 L323.3 867.2 L324.3 866.7 L325.3 867.1 L326.3 867.9 L327.3 868.5 L328.3 869.2 L329.3 869.8 L330.3 870.9 L331.3 872.0 L331.7 872.1 L332.3 872.5 L333.3 872.6 L334.3 872.9 L335.3 874.2 L336.3 875.3 L337.3 875.8 L338.3 876.3 L339.3 877.4 L340.3 878.3 L341.3 878.5 L342.3 878.6 L343.3 878.9 L344.3 879.9 L345.3 880.4 L346.3 880.7 L347.3 881.4 L348.3 881.9 L349.3 882.4 L350.3 883.2 L351.3 883.6 L352.3 883.9 L353.3 884.6 L354.3 884.9 L355.3 885.3 L356.3 886.0 L357.3 886.3 L358.3 886.8 L359.3 887.6 L360.3 888.3 L360.5 888.3 L361.3 888.6 L362.3 889.2 L363.3 889.4 L364.3 889.8 L365.3 890.6 L366.3 891.3 L367.3 892.1 L368.3 892.9 L369.3 892.7 L370.3 892.6 L371.3 892.7 L372.3 892.9 L373.3 893.6 L374.3 894.1 L375.3 894.3 L376.3 895.0 L377.3 895.4 L378.3 895.1 L379.3 895.1 L380.3 895.3 L381.3 896.0 L382.3 896.8 L383.3 897.0 L384.3 897.1 L385.3 898.1 L386.3 898.6 L387.3 898.4 L388.3 898.4 L389.3 898.6 L389.3 898.9 L390.3 899.1 L391.3 898.7 L392.3 898.7 L393.3 899.0 L394.3 899.1 L395.3 899.7 L396.3 900.3 L397.3 900.5 L398.3 900.8 L399.3 900.9 L400.3 900.5 L401.3 900.6 L402.3 901.0 L403.3 901.0 L404.3 901.0 L405.3 901.4 L406.3 901.7 L407.3 901.5 L408.3 901.3 L409.3 901.9 L410.3 902.3 L411.3 902.2 L412.3 902.0 L413.3 901.6 L414.3 902.1 L415.3 903.3 L416.3 903.2 L417.3 902.4 L418.3 902.0 L419.3 902.2 L419.3 902.3 L420.3 902.4 L421.3 902.5 L422.3 902.2 L423.3 902.2 L424.3 902.6 L425.3 902.4 L426.3 902.1 L427.3 902.4 L428.3 903.2 L429.3 903.4 L430.3 903.2 L431.3 902.5 L432.3 901.9 L433.3 902.4 L434.3 902.6 L435.3 902.5 L436.3 902.5 L437.3 902.0 L438.3 901.9 L439.3 901.8 L440.3 900.9 L441.3 900.6 L442.3 901.5 L443.3 901.7 L444.3 900.9 L445.3 900.2 L446.3 899.9 L447.0 899.9 L447.3 900.4 L448.3 901.0 L449.3 900.9 L450.3 900.8 L451.3 901.1 L452.3 900.9 L453.3 900.6 L454.3 900.4 L455.3 899.6 L456.3 898.8 L457.3 899.1 L458.3 899.4 L459.3 899.3 L460.3 899.1 L461.3 899.0 L462.3 898.4 L463.3 898.2 L464.3 898.8 L465.3 898.8 L466.3 898.4 L467.3 898.4 L468.3 898.7 L469.3 898.5 L470.3 897.7 L471.3 897.2 L472.3 897.1 L473.3 897.1 L474.3 897.3 L475.3 897.3 L476.3 897.1 L477.3 897.0 L478.3 896.6 L479.3 895.4 L480.3 894.8 L481.3 895.0 L482.3 894.7 L483.3 894.8 L484.3 895.4 L485.3 894.9 L486.3 893.4 L487.3 893.4 L488.3 894.1 L489.3 894.0 L490.3 893.6 L491.3 893.2 L492.3 893.2 L493.3 893.4 L494.3 893.2 L495.3 892.2 L496.3 890.8 L497.3 890.5 L498.3 891.2 L499.3 891.6 L500.3 890.9 L501.3 890.4 L502.3 890.5 L503.3 890.1 L504.3 889.8 L504.7 890.5 L505.3 890.8 L506.3 889.9 L507.3 889.0 L508.3 888.5 L509.3 888.6 L510.3 888.7 L511.3 889.0 L512.3 889.2 L513.3 888.7 L514.3 887.9 L515.3 887.7 L516.3 887.6 L517.3 887.3 L518.3 887.8 L519.3 887.9 L520.3 886.7 L521.3 886.1 L522.3 886.0 L523.3 885.7 L524.3 886.0 L525.3 886.1 L526.3 885.4 L527.3 885.2 L528.3 885.3 L529.3 885.0 L530.3 885.0 L531.3 884.9 L532.3 884.6 L533.3 884.3 L534.3 883.7 L535.3 882.9 L536.3 882.9 L537.3 882.9 L538.3 882.2 L539.3 881.9 L540.3 882.0 L541.3 882.6 L542.3 883.0 L543.3 882.3 L544.3 881.8 L545.3 881.7 L546.3 881.5 L547.3 881.1 L548.3 880.5 L549.3 880.3 L550.3 880.5 L551.3 879.9 L552.3 879.6 L553.3 879.6 L554.3 879.3 L555.3 879.6 L556.3 879.7 L557.3 878.7 L558.3 877.9 L559.3 878.0 L560.3 878.4 L561.3 878.4 L562.3 877.8 L562.4 877.6 L563.3 877.6 L564.3 877.5 L565.3 876.9 L566.3 876.4 L567.3 876.5 L568.3 876.5 L569.3 876.0 L570.3 875.2 L571.3 874.8 L572.3 874.8 L573.3 874.7 L574.3 875.2 L575.3 875.6 L576.3 874.9 L577.3 873.6 L578.3 872.9 L579.3 872.9 L580.3 872.6 L581.3 872.3 L582.3 872.2 L583.3 871.9 L584.3 871.4 L585.3 871.4 L586.3 871.4 L587.3 870.7 L588.3 870.4 L589.3 870.5 L590.3 870.4 L591.3 870.6 L592.3 870.6 L593.3 870.0 L594.3 869.4 L595.3 869.3 L596.3 869.8 L597.3 869.6 L598.3 868.6 L599.3 868.4 L600.3 868.3 L601.3 867.6 L602.3 868.1 L603.3 869.2 L604.3 868.8 L605.3 867.7 L606.3 867.3 L607.3 867.5 L608.3 867.5 L609.3 867.2 L610.3 867.3 L611.3 867.8 L612.3 867.6 L612.8 867.1 L613.3 866.6 L614.3 866.8 L615.3 867.6 L616.3 867.7 L617.3 867.6 L618.3 867.3 L619.3 867.0 L620.3 867.0 L621.3 867.2 L622.3 867.1 L623.3 867.1 L624.3 867.5 L625.3 868.1 L626.3 868.1 L627.3 868.3 L627.3 868.6 L628.3 869.6 L629.3 871.4 L630.3 873.3 L631.3 876.1 L632.3 879.2 L633.3 880.6 L634.3 880.4 L634.5 880.2 L635.3 880.2 L636.3 879.1 L637.3 877.0 L638.3 874.5 L639.3 871.9 L640.3 870.3 L641.3 870.0 L641.7 869.6 L642.3 868.1 L643.3 866.8 L644.3 866.5 L645.3 866.6 L646.3 866.5 L647.3 866.4 L648.3 866.3 L649.3 866.0 L650.3 865.3 L651.3 865.4 L652.3 866.1 L653.3 866.3 L654.3 866.0 L655.3 865.7 L656.3 865.6 L657.3 865.7 L658.3 865.5 L659.3 865.1 L660.3 865.1 L661.3 865.0 L662.3 864.5 L663.3 864.2 L663.3 864.4 L664.3 864.8 L665.3 864.7 L666.3 863.6 L667.3 862.9 L668.3 863.4 L669.3 863.9 L670.3 863.5 L671.3 862.8 L672.3 862.5 L673.3 862.3 L674.3 862.1 L675.3 862.4 L676.3 862.7 L677.3 862.2 L678.3 862.0 L679.3 862.3 L680.3 861.5 L681.3 861.0 L682.3 861.0 L683.3 860.7 L684.3 860.7 L684.9 860.4 L685.3 859.5 L686.3 859.2 L687.3 859.3 L688.3 858.6 L689.3 858.6 L690.3 859.6 L691.3 859.2 L692.3 858.4 L693.3 857.9 L694.3 857.9 L695.3 858.3 L696.3 858.1 L697.3 857.4 L697.3 856.6 L698.3 856.7 L699.3 857.6 L700.3 857.5 L701.3 856.5 L702.3 855.8 L703.3 855.4 L704.3 855.7 L705.3 855.5 L706.3 855.3 L707.3 856.1 L708.3 856.3 L709.3 855.3 L710.3 854.6 L711.3 855.0 L712.3 855.6 L713.3 855.8 L714.3 855.9 L715.3 855.7 L716.3 854.7 L717.3 853.5 L718.3 853.7 L719.3 855.0 L720.3 855.3 L721.3 854.9 L722.3 854.2 L723.3 853.1 L724.3 852.7 L725.3 853.2 L726.3 854.2 L727.3 854.4 L728.3 853.1 L729.3 852.6 L730.3 853.3 L731.3 853.2 L732.3 853.2 L733.3 853.6 L734.3 853.4 L735.3 852.2 L736.3 851.5 L737.3 851.9 L738.3 852.1 L739.3 851.7 L740.3 851.6 L741.3 851.7 L742.3 851.5 L743.3 851.4 L744.3 851.4 L745.3 851.1 L746.3 850.6 L747.3 850.2 L748.3 850.9 L749.3 851.6 L750.3 851.0 L751.3 850.5 L752.3 849.9 L753.3 849.1 L754.3 849.9 L755.3 850.5 L756.3 849.6 L757.3 849.6 L758.3 850.0 L759.3 849.7 L760.3 849.2 L761.3 849.0 L762.3 849.6 L763.3 849.7 L764.3 848.5 L765.3 848.6 L766.3 848.9 L767.3 848.5 L768.3 848.7 L769.3 848.6 L770.3 848.0 L771.3 847.3 L772.3 847.2 L773.3 847.8 L774.3 847.2 L774.8 846.5 L775.3 847.1 L776.3 847.4 L777.3 847.1 L778.3 846.9 L779.3 846.5 L780.3 845.7 L781.3 845.5 L782.3 846.2 L783.3 846.3 L784.3 845.8 L785.3 845.4 L786.3 845.3 L787.3 845.6 L788.3 845.7 L789.3 845.3 L790.3 845.0 L791.3 845.0 L792.3 844.7 L793.3 844.2 L794.3 844.4 L795.3 844.5 L796.3 843.9 L797.3 843.0 L798.3 843.0 L799.3 843.4 L800.3 844.1 L801.3 844.3 L802.3 843.6 L803.3 843.2 L804.3 842.9 L805.3 842.6 L806.3 842.7 L807.3 843.0 L808.3 842.7 L809.3 841.8 L810.3 841.1 L811.3 841.7 L812.3 842.5 L813.3 842.1 L814.3 841.3 L815.3 840.7 L816.3 840.6 L817.3 840.7 L818.3 840.3 L819.3 839.9 L820.3 839.6 L821.3 839.7 L822.3 840.3 L823.3 840.6 L824.3 840.1 L825.3 839.2 L826.3 839.1 L827.3 839.6 L828.3 839.3 L829.3 838.5 L830.3 838.6 L831.3 839.0 L832.3 838.6 L833.3 838.2 L834.3 838.0 L835.3 837.2 L836.3 837.3 L837.3 838.2 L838.3 838.6 L839.3 838.1 L840.3 837.3 L841.3 837.4 L842.3 837.5 L843.3 837.2 L844.3 837.3 L845.3 837.5 L846.3 837.7 L847.3 837.8 L848.3 837.3 L849.3 836.4 L850.3 836.0 L851.3 836.0 L852.3 836.4 L852.3 836.6 L853.3 836.1 L854.3 835.9 L855.3 836.3 L856.3 836.0 L857.3 835.7 L858.3 836.0 L859.3 835.8 L860.3 835.2 L861.3 834.4 L862.3 834.3 L863.3 834.9 L864.3 835.3 L865.3 835.7 L866.3 835.8 L867.3 834.9 L868.3 834.2 L869.3 834.3 L870.3 834.3 L871.3 834.3 L872.3 834.5 L873.3 834.4 L874.3 834.1 L875.3 834.5 L876.3 834.7 L877.3 834.4 L878.3 834.4 L879.3 834.6 L880.3 834.4 L881.3 834.1 L882.3 833.7 L883.3 833.8 L884.3 834.4 L885.3 834.0 L886.3 833.1 L887.3 833.5 L888.3 834.0 L889.3 833.6 L890.3 832.9 L891.3 832.5 L892.3 832.8 L893.3 833.5 L894.3 833.7 L895.3 833.6 L896.3 834.0 L897.3 834.3 L898.3 833.6 L899.3 832.6 L900.3 832.1 L901.3 831.9 L902.3 831.6 L903.3 831.8 L904.3 832.7 L905.3 832.9 L906.3 832.4 L906.4 832.8 L907.3 832.6 L908.3 831.5 L909.3 831.5 L910.3 832.2 L911.3 832.9 L912.3 833.6 L913.3 833.0 L914.3 831.8 L915.3 831.5 L916.3 831.6 L917.3 831.8 L918.3 831.7 L919.3 831.0 L920.3 830.5 L921.3 830.6 L922.3 830.5 L923.3 830.5 L924.3 830.6 L925.3 830.3 L926.3 830.8 L927.3 831.6 L928.3 831.1 L929.3 830.6 L930.3 830.7 L931.3 830.5 L932.3 830.3 L933.3 830.3 L934.3 830.1 L935.3 830.0 L936.3 830.0 L937.3 829.9 L938.3 829.8 L939.3 829.6 L940.3 829.6 L941.3 829.9 L942.3 830.2 L943.3 830.3 L944.3 830.0 L945.3 830.2 L946.3 830.5 L947.3 830.1 L948.3 829.5 L949.3 829.9 L950.3 830.1 L951.3 829.5 L952.3 829.4 L953.3 829.9 L954.3 830.0 L955.3 829.7 L956.3 829.7 L957.3 830.1 L958.3 830.4 L959.3 830.1 L960.3 829.6 L960.5 829.6 L961.3 829.3 L962.3 828.9 L963.3 829.3 L964.3 829.7 L965.3 829.5 L966.3 829.3 L967.3 829.7 L968.3 830.7 L969.3 830.7 L970.3 829.6 L971.3 829.5 L972.3 830.0 L973.3 829.6 L974.3 828.8 L975.3 829.4 L976.3 830.7 L977.3 830.6 L978.3 829.6 L979.3 829.2 L980.3 829.3 L981.3 829.4 L982.3 829.9 L983.3 830.6 L984.3 830.5 L985.3 830.1 L986.3 830.6 L987.3 831.3 L988.3 830.7 L989.3 830.2 L990.3 829.9 L991.3 829.2 L992.3 829.1 L993.3 829.8 L994.3 830.2 L995.3 829.8 L996.3 830.1 L997.3 830.7 L998.3 831.2 L999.3 831.6 L1000.3 831.3 L1001.3 830.4 L1002.3 829.9 L1003.3 830.7 L1004.3 831.0 L1005.3 830.6 L1006.3 830.8 L1007.3 830.5 L1008.3 829.8 L1009.3 829.9 L1010.3 830.5 L1011.3 831.0 L1012.3 830.8 L1013.3 830.6 L1014.3 831.0 L1015.3 831.1 L1016.3 831.0 L1017.3 830.8 L1018.3 830.9 L1019.3 831.1 L1020.3 831.1 L1021.3 831.0 L1022.3 831.3 L1023.3 831.4 L1024.3 831.5 L1025.3 832.0 L1026.3 832.2 L1027.3 831.8 L1028.3 831.8 L1029.3 832.1 L1030.3 832.2 L1031.3 831.9 L1032.3 831.8 L1033.3 831.6 L1034.3 830.9 L1035.3 831.0 L1036.3 831.8 L1037.3 832.1 L1038.3 832.3 L1039.3 832.6 L1040.3 832.0 L1041.3 831.6 L1042.3 832.1 L1043.3 832.9 L1044.3 833.2 L1045.3 833.1 L1046.3 833.1 L1047.3 833.1 L1048.3 832.8 L1049.3 832.5 L1050.3 833.1 L1051.3 833.8 L1052.3 833.2 L1053.3 832.4 L1054.3 833.3 L1055.3 835.1 L1056.3 834.7 L1057.3 833.5 L1058.3 834.1 L1059.3 834.2 L1060.3 834.0 L1061.3 834.6 L1062.3 834.0 L1063.3 833.7 L1064.3 835.1 L1065.3 835.0 L1066.3 834.6 L1067.3 834.0 L1068.3 829.8 L1069.3 826.1 L1070.3 824.9 L1071.3 824.9 L1072.3 824.8 L1073.3 825.9 L1074.3 826.2 L1075.3 825.4 L1076.3 825.0 L1077.3 824.5 L1078.3 824.7 L1079.3 825.8 L1080.3 826.8 L1081.3 826.5 L1082.3 824.3 L1083.3 823.7 L1084.3 825.7 L1085.3 826.4 L1086.3 825.4 L1087.3 824.4 L1088.3 824.9 L1089.3 826.7 L1090.3 828.0 L1091.3 828.2 L1092.3 827.4 L1093.3 826.6 L1094.3 827.0 L1095.3 827.4 L1096.3 827.5 L1097.3 827.0 L1098.3 826.3 L1099.3 826.8 L1100.3 827.2 L1101.3 827.1 L1102.3 827.4 L1103.3 827.1 L1104.3 826.7 L1105.3 827.2 L1106.3 827.9 L1107.3 828.7 L1108.3 829.1 L1109.3 827.9 L1110.3 826.4 L1111.3 826.9 L1112.3 827.6 L1113.3 827.3 L1114.3 827.2 L1115.3 827.5 L1116.3 827.4 L1117.3 826.7 L1118.3 827.2 L1119.3 829.1 L1120.3 830.4 L1121.3 829.3 L1122.3 827.2 L1123.3 827.5 L1124.3 829.1 L1125.3 830.6 L1126.3 832.1 L1127.3 831.5 L1128.3 829.5 L1129.3 829.0 L1130.3 829.5 L1131.3 829.0 L1132.3 829.7 L1133.3 830.6 L1134.3 829.7 L1135.3 829.2 L1136.3 828.4 L1137.3 827.6 L1138.3 829.7 L1139.3 830.8 L1140.3 829.3 L1141.3 829.6 L1142.3 830.6 L1143.3 831.5 L1144.3 832.6 L1145.3 832.1 L1146.3 831.9 L1147.3 831.7 L1148.3 830.7 L1149.3 830.1 L1150.3 830.8 L1151.3 831.2 L1152.3 830.9 L1153.3 831.0 L1154.3 830.8 L1155.3 831.0 L1156.3 831.8 L1157.3 832.7 L1158.3 832.7 L1159.3 831.9 L1160.3 831.5 L1161.3 831.7 L1162.3 831.1 L1163.3 830.2 L1164.3 830.8 L1165.3 831.0 L1166.3 830.6 L1167.3 831.3 L1168.3 831.5 L1169.3 830.9 L1170.3 831.1 L1171.3 831.7 L1172.3 831.2 L1173.3 830.0 L1174.3 829.6 L1175.3 829.9 L1176.3 830.6 L1176.8 831.8 L1177.3 831.4 L1178.3 830.6 L1179.3 830.5 L1180.3 829.1 L1181.3 827.4 L1182.3 827.0 L1183.3 828.2 L1184.3 829.2 L1185.3 829.1 L1186.3 829.3 L1187.3 830.6 L1188.3 831.0 L1189.3 830.4 L1190.3 830.5 L1191.3 830.7 L1192.3 829.8 L1193.3 828.9 L1194.3 829.5 L1195.3 829.8 L1196.3 829.6 L1197.3 829.5 L1198.3 829.4 L1199.3 829.7 L1200.0 829.4 L1200.3 829.2 L1201.3 829.8 L1202.3 829.5 L1203.3 828.9 L1204.3 829.4 L1205.3 829.6 L1206.3 829.4 L1207.3 829.5 L1208.3 829.6 L1209.3 829.6 L1210.3 829.7 L1211.3 830.4 L1212.3 830.7 L1213.3 830.5 L1214.3 830.3 L1215.3 830.2 L1216.3 829.7 L1217.3 829.3 L1218.3 829.5 L1219.3 829.4 L1220.3 829.4 L1221.3 830.2 L1222.3 830.9 L1223.3 830.3 L1224.3 829.0 L1225.3 828.8 L1226.3 829.5 L1227.3 829.8 L1228.3 829.7 L1229.3 829.4 L1230.3 829.3 L1231.3 829.4 L1232.3 829.6 L1233.3 829.8 L1234.3 829.8 L1235.3 829.4 L1236.3 829.3 L1237.3 829.3 L1238.3 828.8 L1239.3 828.5 L1240.3 828.6 L1241.3 828.9 L1242.3 829.6 L1243.3 829.7 L1244.3 829.1 L1245.3 828.9 L1246.3 828.6 L1247.3 827.9 L1248.3 827.8 L1249.3 828.4 L1250.3 828.9 L1251.3 829.2 L1252.3 829.4 L1253.3 829.1 L1254.3 828.8 L1255.3 828.7 L1256.3 828.6 L1257.3 828.4 L1258.3 828.3 L1259.3 828.5 L1260.3 828.8 L1261.3 828.3 L1262.3 827.9 L1263.3 828.5 L1264.3 829.0 L1265.3 828.5 L1266.3 828.3 L1267.3 828.6 L1268.3 828.5 L1269.3 828.3 L1270.3 828.3 L1271.3 828.3 L1272.3 828.0 L1273.3 827.9 L1274.3 828.5 L1275.3 829.2 L1276.3 829.1 L1277.3 828.5 L1278.3 828.1 L1278.8 828.0 L1279.3 828.1 L1280.3 828.3 L1281.3 828.9 L1282.3 829.2 L1283.3 829.0 L1284.3 828.7 L1285.3 829.0 L1286.3 829.3 L1287.3 829.4 L1288.3 829.9 L1289.3 830.7 L1290.3 831.1 L1291.3 831.0 L1292.3 830.9 L1293.3 831.8 L1294.3 832.6 L1294.5 832.4 L1295.3 833.3 L1296.3 834.4 L1297.3 834.5 L1298.3 834.4 L1299.3 835.3 L1300.3 836.2 L1301.3 836.3 L1302.3 836.6 L1303.3 837.4 L1304.3 838.1 L1305.3 839.2 L1306.3 840.9 L1307.3 841.8 L1308.3 842.0 L1309.3 842.6 L1310.3 843.3 L1310.3 843.2 L1311.3 843.9 L1312.3 844.6 L1313.3 845.6 L1314.3 846.8 L1315.3 847.4 L1316.3 848.4 L1317.3 849.7 L1318.3 851.2 L1319.3 852.8 L1320.3 853.7 L1321.3 854.3 L1322.3 855.1 L1323.3 855.3 L1324.3 855.6 L1325.3 856.8 L1326.1 857.7 L1326.3 857.4 L1327.3 857.5 L1328.3 858.4 L1329.3 859.1 L1330.3 859.4 L1331.3 860.2 L1332.3 860.8 L1333.3 860.6 L1334.3 861.0 L1335.3 861.6 L1336.3 861.9 L1337.3 861.9 L1338.3 861.6 L1339.2 862.0 L1339.3 862.3 L1340.3 861.8 L1341.3 862.0 L1342.3 861.9 L1343.3 861.6 L1344.3 861.6 L1345.3 861.0 L1346.3 860.3 L1347.3 859.8 L1348.3 859.0 L1349.3 858.8 L1349.7 859.0 L1350.3 858.4 L1351.3 857.7 L1352.3 856.8 L1353.3 856.0 L1354.3 855.7 L1355.3 854.5 L1356.3 853.2 L1357.3 852.0 L1358.3 850.8 L1359.3 850.0 L1360.3 849.7 L1361.3 849.3 L1362.3 848.5 L1362.8 848.2 L1363.3 848.1 L1364.3 847.1 L1365.3 846.4 L1366.3 846.3 L1367.3 846.1 L1368.3 845.2 L1369.3 844.2 L1370.3 843.6 L1371.3 843.4 L1372.3 843.3 L1373.3 843.0 L1374.3 843.0 L1375.3 843.2 L1376.3 843.1 L1377.3 842.7 L1378.3 841.8 L1378.6 840.9 L1379.3 840.7 L1380.3 840.4 L1381.3 840.2 L1382.3 839.9 L1383.3 839.8 L1384.3 840.0 L1385.3 840.0 L1386.3 840.2 L1387.3 840.7 L1388.3 840.7 L1389.1 840.2 L1389.3 839.7 L1390.3 839.8 L1391.3 839.9 L1392.3 840.8 L1393.3 842.5 L1394.3 842.9 L1395.3 842.9 L1396.3 844.0 L1397.3 845.5 L1398.3 846.6 L1399.3 847.1 L1399.6 847.4 L1400.3 848.5 L1401.3 849.3 L1402.3 849.5 L1403.3 849.9 L1404.3 851.1 L1405.3 852.0 L1406.3 852.3 L1407.3 853.1 L1408.3 854.8 L1409.3 856.3 L1410.3 856.6 L1411.3 856.6 L1412.3 857.6 L1413.3 859.2 L1414.3 860.5 L1415.3 861.6 L1415.3 861.3 L1416.3 861.8 L1417.3 862.7 L1418.3 863.7 L1419.3 864.7 L1420.3 865.3 L1421.3 866.5 L1422.3 868.6 L1423.3 869.7 L1424.3 870.6 L1425.3 872.2 L1426.3 873.2 L1427.3 873.5 L1428.3 874.4 L1429.3 875.6 L1430.3 875.9 L1431.1 875.9 L1431.3 876.4 L1432.3 876.9 L1433.3 876.5 L1434.3 876.2 L1435.0 876.4 L1435.3 876.6 L1436.3 876.9 L1437.3 877.0 L1438.3 876.3 L1439.3 875.3 L1440.3 874.6 L1441.3 873.8 L1442.3 873.3 L1443.3 872.7 L1444.3 872.1 L1445.3 871.9 L1445.5 872.0 L1446.3 872.6 L1447.3 873.4 L1448.3 873.2 L1449.3 873.1 L1450.3 873.3 L1451.3 874.6 L1452.3 876.2 L1453.3 876.8 L1454.3 877.7 L1455.3 878.0 L1456.3 878.2 L1457.3 879.3 L1458.3 880.2 L1459.3 880.4 L1460.3 880.4 L1461.3 880.1 L1462.3 880.3 L1462.6 880.9 L1463.3 880.7 L1464.3 880.2 L1465.3 879.2 L1466.3 878.2 L1467.3 878.1 L1468.3 878.0 L1469.3 877.3 L1470.3 877.2 L1471.3 877.2 L1472.3 876.9 L1473.1 876.6 L1473.3 876.5 L1474.3 876.5 L1475.3 876.6 L1476.3 877.6 L1477.3 878.9 L1478.3 879.8 L1479.3 880.5 L1479.7 880.5 L1480.3 880.3 L1481.3 880.2 L1482.3 879.6 L1483.3 878.0 L1484.3 876.4 L1485.3 874.6 L1486.2 872.8 L1486.3 872.8 L1487.3 870.3 L1488.3 866.7 L1489.3 862.2 L1490.3 858.4 L1491.3 855.9 L1491.5 855.3 L1492.3 853.3 L1493.3 851.2 L1494.3 848.8 L1495.3 847.1 L1496.3 846.5 L1497.3 846.1 L1498.3 845.1 L1499.3 843.9 L1499.4 843.7 L1500.3 842.3 L1501.3 841.3 L1502.3 840.3 L1503.3 839.6 L1504.3 839.3 L1505.3 838.6 L1506.3 837.5 L1507.3 837.2 L1508.3 837.2 L1508.6 836.8 L1509.3 837.4 L1510.3 838.0 L1511.3 837.4 L1512.3 837.0 L1513.3 837.2 L1514.3 837.1 L1515.3 836.7 L1516.3 837.1 L1517.3 837.3 L1518.3 836.7 L1519.3 836.5 L1520.3 836.7 L1521.3 836.8 L1522.3 836.3 L1523.0 836.0 L1523.3 836.5 L1524.3 836.9 L1525.3 836.9 L1526.3 836.3 L1527.3 835.2 L1528.3 834.0 L1529.3 833.4 L1530.3 833.2 L1531.3 832.6 L1532.3 832.0 L1533.3 831.7 L1533.5 830.8 L1534.3 830.5 L1535.3 831.0 L1536.3 831.5 L1537.3 832.2 L1538.3 832.1 L1539.3 831.6 L1540.3 831.5 L1541.3 830.8 L1542.3 830.5 L1543.3 831.2 L1544.3 831.3 L1545.3 830.8 L1546.3 830.5 L1547.3 831.1 L1548.3 831.5 L1549.3 831.3 L1550.3 831.7 L1551.3 832.1 L1551.9 831.9 L1552.3 831.8 L1553.3 831.7 L1554.3 831.8 L1555.3 831.9 L1556.3 831.3 L1557.3 831.7 L1558.3 832.9 L1559.3 833.8 L1560.3 834.6 L1561.3 834.7 L1562.3 834.6 L1563.3 835.1 L1564.3 835.7 L1565.0 836.0 L1565.3 836.3 L1566.3 837.3 L1567.3 838.3 L1568.3 839.4 L1569.3 840.1 L1570.3 840.6 L1571.3 842.0 L1572.3 842.9 L1573.3 843.8 L1574.3 845.3 L1575.3 846.7 L1575.5 847.1 L1576.3 848.1 L1577.3 849.6 L1578.3 851.6 L1579.3 853.4 L1580.3 855.0 L1581.3 856.8 L1582.3 858.3 L1583.3 859.6 L1584.3 861.9 L1585.3 864.8 L1586.0 866.0 L1586.3 866.0 L1587.3 868.6 L1588.3 871.7 L1589.3 875.1 L1590.3 878.9 L1591.3 882.9 L1592.3 886.0 L1592.6 886.7 L1593.3 888.8 L1594.3 891.8 L1595.3 894.8 L1596.3 897.4 L1596.5 898.3 L1597.3 899.6 L1598.3 900.9 L1599.3 902.0 L1600.3 902.8 L1601.3 903.8 L1602.3 904.8 L1603.3 905.4 L1604.3 906.8 L1604.4 907.5 L1605.3 909.0 L1606.3 911.1 L1607.3 914.5 L1608.3 917.7 L1609.3 920.9 L1610.3 924.2 L1611.3 927.2 L1612.3 930.7 L1613.3 934.4 L1614.3 937.7 L1614.9 939.3 L1615.3 940.2 L1616.3 942.1 L1617.3 944.0 L1618.3 946.3 L1619.3 948.7 L1620.3 950.4 L1621.3 951.6 L1622.3 953.9 L1623.3 956.3 L1624.3 959.1 L1625.3 964.3 L1625.4 965.9 L1625.8 969.3 L1626.3 971.8 L1627.3 976.1 L1628.3 980.0 L1629.3 983.9 L1630.3 987.8 L1631.3 991.1 L1632.3 994.3 L1633.3 997.2 L1634.3 999.5 L1635.3 1002.0 L1636.3 1005.4 L1637.3 1009.9 L1638.3 1014.3 L1638.9 1016.1 L1639.3 1017.2 L1640.3 1021.9 L1641.3 1027.2 L1642.3 1032.0 L1643.3 1036.5 L1644.3 1041.8 L1645.3 1047.1 L1646.3 1051.5 L1647.3 1056.4 L1648.3 1062.2 L1649.3 1067.9 L1649.4 1068.7 L1650.3 1073.2 L1651.3 1078.1 L1652.3 1083.2 L1653.3 1088.8 L1654.3 1094.9 L1655.3 1100.5 L1656.3 1106.1 L1657.3 1111.0 L1657.3 1109.9 L1658.3 1114.4 L1659.3 1120.0 L1660.3 1125.4 L1661.3 1130.3 L1662.3 1135.0 L1663.3 1139.8 L1664.3 1145.1 L1665.3 1150.2 L1666.3 1155.3 L1667.3 1160.0 L1668.3 1164.3 L1669.3 1169.6 L1670.3 1175.4 L1670.4 1176.1 L1671.3 1181.1 L1672.3 1187.5 L1673.3 1193.7 L1674.3 1199.3 L1675.3 1205.9 L1676.3 1212.8 L1677.3 1219.1 L1678.3 1225.6 L1679.3 1232.4 L1680.3 1238.4 L1681.3 1243.7 L1682.3 1248.6 L1683.3 1253.2 L1683.6 1254.8 L1684.3 1257.4 L1685.3 1260.7 L1686.3 1264.5 L1687.3 1267.9 L1688.3 1270.8 L1689.3 1273.6 L1690.3 1276.8 L1691.3 1280.7 L1691.9 1282.8 L1692.3 1283.8 L1693.3 1288.7 L1694.3 1294.4 L1695.3 1299.8 L1696.3 1305.6 L1697.3 1312.0 L1698.3 1319.0 L1699.3 1326.0 L1699.8 1328.7 L1700.3 1331.9 L1701.3 1338.8 L1702.3 1346.3 L1703.3 1354.6 L1704.3 1362.2 L1705.0 1367.5 L1705.3 1370.2 L1706.3 1379.9 L1707.3 1390.9 L1708.3 1401.5 L1709.3 1410.7 L1710.3 1417.9 L1711.3 1421.5 L1711.6 1421.5 L1712.3 1420.9 L1713.3 1417.9 L1714.3 1413.7 L1715.3 1409.3 L1715.5 1408.3 L1716.3 1404.5 L1717.3 1399.0 L1718.3 1394.2 L1719.3 1389.7 L1720.3 1384.0 L1720.8 1381.1 L1721.3 1378.6 L1722.3 1373.3 L1723.3 1368.4 L1724.3 1364.4 L1724.7 1363.4 L1725.3 1362.5 L1726.3 1359.7 L1727.3 1356.8 L1728.3 1355.0 L1728.7 1355.4 L1729.3 1355.2 L1730.3 1353.5 L1731.3 1352.1 L1732.3 1350.7 L1733.3 1348.8 L1734.3 1347.0 L1735.2 1345.5 L1735.3 1345.5 L1736.3 1343.0 L1737.3 1339.5 L1738.3 1335.5 L1739.2 1331.9 L1739.3 1330.6 L1740.3 1324.8 L1741.3 1319.2 L1742.3 1314.0 L1743.3 1308.8 L1744.3 1302.7 L1744.4 1301.9 L1745.3 1297.0 L1746.3 1290.9 L1747.3 1284.5 L1748.3 1277.8 L1749.3 1271.3 L1749.7 1269.1 L1750.3 1265.8 L1751.3 1260.9 L1752.3 1255.9 L1753.3 1250.7 L1753.6 1248.9 L1754.3 1245.3 L1755.3 1239.8 L1756.3 1233.9 L1757.3 1227.8 L1758.3 1221.4 L1759.3 1214.8 L1760.3 1208.9 L1761.3 1204.0 L1762.3 1199.6 L1762.3 1198.8 L1763.3 1195.0 L1764.3 1192.1 L1765.3 1188.9 L1766.3 1185.2 L1767.3 1182.0 L1768.3 1179.8 L1769.3 1178.3 L1770.3 1176.2 L1771.3 1173.6 L1772.3 1171.5 L1772.8 1170.2 L1773.3 1169.2 L1774.3 1168.6 L1775.3 1168.3 L1776.3 1167.5 L1777.3 1166.3 L1778.3 1164.3 L1779.3 1162.6 L1779.4 1162.9 L1780.3 1161.1 L1781.3 1157.5 L1782.3 1154.0 L1783.3 1151.7 L1784.3 1150.1 L1784.7 1149.1 L1785.3 1149.2 L1786.3 1149.7 L1787.3 1150.0 L1788.3 1150.1 L1789.3 1149.9 L1790.3 1149.8 L1791.2 1150.0 L1791.3 1150.5 L1792.3 1150.3 L1793.3 1147.6 L1794.3 1143.7 L1795.3 1141.0 L1796.3 1139.2 L1796.5 1138.7 L1797.3 1139.3 L1798.3 1139.8 L1799.3 1140.0 L1800.3 1141.1 L1801.3 1142.0 L1801.7 1141.4 L1802.3 1140.6 L1803.3 1140.2 L1804.3 1139.3 L1805.3 1137.5 L1806.3 1135.9 L1807.3 1134.8 L1808.3 1134.7 L1808.3 1135.2 L1809.3 1135.3 L1810.3 1136.0 L1811.3 1137.1 L1812.3 1137.9 L1813.3 1139.1 L1814.3 1140.8 L1815.3 1142.7 L1816.3 1144.9 L1817.3 1147.1 L1817.5 1147.5 L1818.3 1148.5 L1819.3 1149.5 L1820.3 1151.1 L1821.3 1153.0 L1822.3 1154.6 L1823.3 1156.4 L1824.3 1157.5 L1825.3 1158.6 L1826.3 1160.5 L1827.3 1162.3 L1828.0 1162.9 L1828.3 1162.9 L1829.3 1164.1 L1830.3 1165.4 L1831.3 1166.3 L1832.3 1167.2 L1833.3 1167.8 L1834.3 1168.5 L1835.3 1169.5 L1836.3 1170.8 L1837.3 1171.9 L1838.3 1173.2 L1838.5 1173.6 L1839.3 1173.8 L1840.3 1174.7 L1841.3 1176.3 L1842.3 1176.8 L1843.3 1177.1 L1844.3 1178.2 L1845.3 1179.6 L1846.3 1181.6 L1847.3 1183.0 L1848.3 1183.1 L1849.0 1183.1 L1849.3 1183.7 L1850.3 1185.1 L1851.3 1185.8 L1852.3 1186.7 L1853.3 1188.2 L1854.3 1189.7 L1855.3 1191.0 L1856.3 1191.9 L1856.9 1192.5 L1857.3 1193.2 L1858.3 1194.2 L1859.3 1195.0 L1860.3 1196.2 L1861.3 1196.8 L1862.3 1196.9 L1863.3 1198.8 L1864.3 1201.0 L1865.3 1200.9 L1866.3 1200.2 L1867.3 1200.2 L1867.4 1200.4 L1868.3 1200.5 L1869.3 1200.4 L1870.3 1200.1 L1871.3 1200.0 L1872.3 1200.1 L1873.3 1200.2 L1874.3 1200.4 L1875.3 1200.0 L1876.3 1199.2 L1877.3 1199.2 L1877.9 1199.7 L1878.3 1200.0 L1879.3 1200.1 L1880.3 1200.0 L1881.3 1200.3 L1882.3 1200.5 L1883.3 1200.6 L1884.3 1201.4 L1885.3 1202.5 L1886.3 1203.3 L1887.3 1204.0 L1888.3 1204.4 L1888.4 1204.0 L1889.3 1204.7 L1890.3 1205.9 L1891.3 1206.9 L1892.3 1208.4 L1893.3 1209.9 L1894.3 1210.6 L1895.3 1211.2 L1896.3 1212.2 L1897.3 1212.9 L1898.3 1213.5 L1898.9 1214.4 L1899.3 1215.5 L1900.3 1216.5 L1901.3 1216.9 L1902.3 1217.6 L1903.3 1218.1 L1904.3 1218.2 L1905.3 1218.4 L1906.3 1218.9 L1907.3 1219.7 L1908.3 1220.2 L1909.3 1220.2 L1909.4 1220.1 L1910.3 1220.7 L1911.3 1221.1 L1912.3 1221.5 L1913.3 1221.7 L1914.3 1222.1 L1915.3 1222.3 L1916.3 1222.1 L1917.3 1222.2 L1918.3 1222.7 L1919.3 1222.8 L1919.9 1222.8 L1920.3 1222.8 L1921.3 1223.8 L1922.3 1225.7 L1923.3 1227.1 L1924.3 1228.8 L1925.2 1230.7 L1925.3 1231.0 L1926.3 1233.8 L1927.3 1237.3 L1928.3 1240.6 L1929.3 1243.8 L1930.3 1247.5 L1931.3 1251.6 L1931.7 1253.2 L1932.3 1255.0 L1933.3 1258.7 L1934.3 1263.4 L1935.3 1267.8 L1936.3 1271.3 L1937.3 1275.6 L1937.5 1277.0 L1938.3 1280.8 L1939.3 1284.7 L1940.3 1289.2 L1941.3 1294.5 L1942.3 1299.6 L1943.3 1304.5 L1944.1 1308.7 L1944.3 1310.1 L1945.3 1315.3 L1946.3 1321.1 L1947.3 1327.9 L1948.3 1334.7 L1949.3 1341.5 L1949.3 1341.7 L1950.3 1349.9 L1951.3 1358.7 L1952.3 1367.2 L1953.3 1374.8 L1953.3 1375.5 L1954.3 1384.2 L1955.3 1392.6 L1956.3 1400.7 L1957.2 1407.2 L1957.3 1407.7 L1958.3 1415.3 L1959.3 1422.6 L1960.3 1430.0 L1961.3 1437.7 L1962.3 1445.6 L1962.4 1447.0 L1963.3 1454.3 L1964.3 1462.6 L1965.3 1470.3 L1966.3 1477.7 L1966.8 1481.1 L1967.3 1486.1 L1968.3 1493.9 L1969.3 1500.9 L1970.3 1508.3 L1971.0 1513.5 L1971.3 1516.9 L1972.3 1526.9 L1973.3 1536.4 L1974.1 1544.0 L1974.3 1546.6 L1975.3 1557.4 L1976.3 1567.5 L1977.3 1576.3 L1977.3 1577.1 L1978.3 1586.7 L1979.3 1596.0 L1980.3 1603.4 L1981.0 1605.5 L1981.3 1605.9 L1982.3 1598.8 L1983.3 1594.0 L1983.7 1592.2 L1984.3 1602.1 L1985.3 1602.2 L1986.3 1600.4 L1987.3 1589.3 L1988.0 1588.2 L1988.3 1586.6 L1989.3 1591.2 L1990.1 1586.5 L1990.3 1585.8 L1991.3 1583.5 L1992.3 1571.4 L1993.3 1571.1 L1993.4 1571.2 L1994.3 1570.0 L1994.4 1570.4 L1995.3 1571.0 L1996.3 1566.4 L1997.3 1552.0 L1998.3 1555.3 L1998.7 1557.0 L1999.3 1562.4 L2000.3 1555.6 L2000.9 1555.2 L2001.3 1554.5 L2002.3 1542.9 L2003.3 1546.5 L2003.6 1550.0"/>
<path stroke="#7b4b4b" d="M88.3 725.6 L89.3 725.6 L90.3 725.0 L91.3 725.3 L92.3 725.6 L93.3 725.2 L94.3 725.0 L95.3 724.4 L96.3 724.2 L97.3 725.2 L98.3 726.1 L99.3 726.0 L100.3 725.5 L101.3 725.4 L102.3 725.4 L103.3 725.1 L104.3 725.0 L105.3 725.1 L106.3 725.0 L107.3 724.7 L108.3 724.5 L109.3 724.5 L110.3 724.7 L111.3 724.6 L112.3 724.3 L113.3 724.5 L114.3 724.9 L115.3 725.1 L116.3 724.9 L117.3 724.9 L118.3 725.0 L119.3 725.0 L120.3 725.0 L121.3 725.0 L122.3 725.4 L123.3 725.9 L124.3 726.3 L125.3 725.9 L126.3 725.3 L127.3 725.1 L128.3 725.1 L129.3 725.5 L130.3 725.5 L131.3 724.9 L132.3 724.5 L133.3 724.7 L134.3 725.3 L135.3 725.8 L136.3 725.8 L137.3 725.3 L138.3 725.2 L139.3 725.3 L140.3 725.1 L141.3 725.3 L142.3 725.5 L143.3 725.6 L144.3 725.8 L145.3 725.8 L146.3 725.3 L147.3 724.9 L148.3 724.8 L149.3 724.8 L150.3 725.2 L151.3 725.7 L152.3 725.3 L153.3 725.2 L154.3 725.7 L155.3 725.5 L156.3 725.2 L157.3 725.2 L158.3 725.0 L159.3 725.1 L160.3 725.1 L161.3 724.6 L162.3 723.9 L163.3 724.4 L164.3 724.9 L165.3 724.6 L166.3 724.2 L167.3 724.3 L168.3 724.6 L169.3 724.3 L170.3 724.7 L171.3 725.2 L172.3 725.3 L173.3 725.0 L174.3 724.2 L175.3 724.2 L176.3 724.6 L177.3 724.6 L178.3 724.4 L179.3 724.5 L180.3 724.9 L181.3 725.6 L182.3 725.7 L183.3 725.2 L184.3 724.6 L185.3 723.8 L186.3 724.3 L187.3 725.7 L188.3 726.4 L189.3 726.0 L190.3 725.4 L191.3 725.3 L192.3 725.6 L193.3 725.4 L194.3 725.0 L195.3 724.7 L196.3 724.7 L197.3 725.0 L198.3 725.3 L199.3 725.4 L200.3 725.7 L201.3 726.1 L202.3 725.6 L203.3 724.9 L204.3 724.7 L205.3 724.9 L206.3 725.4 L207.3 725.8 L208.3 726.0 L209.3 725.7 L210.3 725.5 L211.3 725.4 L212.3 725.3 L213.3 725.6 L214.3 725.9 L215.3 726.3 L216.3 726.3 L217.3 725.5 L218.3 724.8 L219.3 724.4 L220.3 724.7 L221.3 725.2 L222.3 725.5 L223.3 725.2 L224.3 724.4 L225.3 724.7 L226.3 725.5 L227.3 725.2 L228.3 724.3 L229.3 724.6 L230.3 725.0 L230.7 724.8 L231.3 725.1 L232.3 725.6 L233.3 725.9 L234.3 725.7 L235.3 725.3 L236.3 725.2 L237.3 725.5 L238.3 725.3 L239.3 724.9 L240.3 725.5 L241.3 727.0 L242.3 727.5 L243.3 726.6 L244.3 726.2 L245.3 726.9 L246.3 727.5 L247.3 727.6 L248.3 727.7 L249.3 728.3 L250.3 728.3 L251.3 728.2 L252.3 728.7 L252.3 728.7 L253.3 728.6 L254.3 728.6 L255.3 729.1 L256.3 730.0 L257.3 730.6 L258.3 730.4 L259.3 730.2 L260.3 730.5 L261.3 731.2 L262.3 731.6 L263.3 731.6 L264.3 732.0 L265.3 732.7 L266.3 732.9 L267.3 733.4 L268.3 734.0 L269.3 734.6 L270.3 735.4 L271.3 736.2 L272.3 737.2 L273.3 737.6 L274.0 737.4 L274.3 737.6 L275.3 737.8 L276.3 738.1 L277.3 738.9 L278.3 740.0 L279.3 740.1 L280.3 740.0 L281.3 740.8 L282.3 741.7 L283.3 742.1 L284.3 742.6 L285.3 743.9 L286.3 744.5 L287.3 744.2 L288.3 744.7 L289.3 745.6 L290.3 746.0 L291.3 746.2 L292.3 746.5 L293.3 747.4 L294.3 748.4 L295.3 749.0 L296.3 749.4 L297.3 750.3 L298.3 751.3 L299.3 751.3 L300.3 751.2 L301.3 752.0 L302.3 753.4 L302.8 754.0 L303.3 753.8 L304.3 754.0 L305.3 754.8 L306.3 755.8 L307.3 756.5 L308.3 756.5 L309.3 756.9 L310.3 757.9 L311.3 758.4 L312.3 759.1 L313.3 759.8 L314.3 760.0 L315.3 760.3 L316.3 761.0 L317.3 761.9 L318.3 762.1 L319.3 762.2 L320.3 762.7 L321.3 763.0 L322.3 763.4 L323.3 764.7 L324.3 765.7 L325.3 766.4 L326.3 767.3 L327.3 767.9 L328.3 767.6 L329.3 767.9 L330.3 769.5 L331.3 770.4 L331.7 770.2 L332.3 770.3 L333.3 770.7 L334.3 771.2 L335.3 771.9 L336.3 772.8 L337.3 773.3 L338.3 772.8 L339.3 772.4 L340.3 773.6 L341.3 775.1 L342.3 775.6 L343.3 775.8 L344.3 775.9 L345.3 776.1 L346.3 777.2 L347.3 778.2 L348.3 778.7 L349.3 779.3 L350.3 779.9 L351.3 780.3 L352.3 780.7 L353.3 781.1 L354.3 781.8 L355.3 782.5 L356.3 782.3 L357.3 782.1 L358.3 782.9 L359.3 783.9 L360.3 784.7 L360.5 784.2 L361.3 783.4 L362.3 784.2 L363.3 785.3 L364.3 785.8 L365.3 785.5 L366.3 785.6 L367.3 785.9 L368.3 786.3 L369.3 787.2 L370.3 787.8 L371.3 788.2 L372.3 788.1 L373.3 787.9 L374.3 788.3 L375.3 788.7 L376.3 789.4 L377.3 789.9 L378.3 789.9 L379.3 789.6 L380.3 789.5 L381.3 790.1 L382.3 790.5 L383.3 790.9 L384.3 791.5 L385.3 792.5 L386.3 793.0 L387.3 792.6 L388.3 792.8 L389.3 793.9 L389.3 793.6 L390.3 792.8 L391.3 792.8 L392.3 793.0 L393.3 793.3 L394.3 794.0 L395.3 794.8 L396.3 795.2 L397.3 794.5 L398.3 794.1 L399.3 794.2 L400.3 794.4 L401.3 795.0 L402.3 795.3 L403.3 794.7 L404.3 794.0 L405.3 794.2 L406.3 795.2 L407.3 796.5 L408.3 797.0 L409.3 796.3 L410.3 795.9 L411.3 796.8 L412.3 797.9 L413.3 798.4 L414.3 798.0 L415.3 797.5 L416.3 797.1 L417.3 796.9 L418.3 797.1 L419.3 797.8 L419.3 798.4 L420.3 798.2 L421.3 797.3 L422.3 796.9 L423.3 796.8 L424.3 796.6 L425.3 797.2 L426.3 797.5 L427.3 797.1 L428.3 796.8 L429.3 796.4 L430.3 795.9 L431.3 795.9 L432.3 796.2 L433.3 796.0 L434.3 795.9 L435.3 796.6 L436.3 797.3 L437.3 797.1 L438.3 796.8 L439.3 796.8 L440.3 796.4 L441.3 795.5 L442.3 795.5 L443.3 796.0 L444.3 795.7 L445.3 795.3 L446.3 795.2 L447.0 795.2 L447.3 795.7 L448.3 796.2 L449.3 796.6 L450.3 796.8 L451.3 796.4 L452.3 796.1 L453.3 796.0 L454.3 796.2 L455.3 796.0 L456.3 795.3 L457.3 795.1 L458.3 794.8 L459.3 794.5 L460.3 795.0 L461.3 795.6 L462.3 795.1 L463.3 793.9 L464.3 793.9 L465.3 794.6 L466.3 794.9 L467.3 795.0 L468.3 794.7 L469.3 793.7 L470.3 793.4 L471.3 793.5 L472.3 793.0 L473.3 792.6 L474.3 793.0 L475.3 793.6 L476.3 793.2 L477.3 792.3 L478.3 792.0 L479.3 792.2 L480.3 792.6 L481.3 792.1 L482.3 790.8 L483.3 791.4 L484.3 792.5 L485.3 791.8 L486.3 791.4 L487.3 791.2 L488.3 790.9 L489.3 791.2 L490.3 790.5 L491.3 789.7 L492.3 789.6 L493.3 789.6 L494.3 789.8 L495.3 789.4 L496.3 788.4 L497.3 788.3 L498.3 789.2 L499.3 789.1 L500.3 788.9 L501.3 789.0 L502.3 788.3 L503.3 787.8 L504.3 788.3 L504.7 789.0 L505.3 788.5 L506.3 787.7 L507.3 787.5 L508.3 787.4 L509.3 787.1 L510.3 787.2 L511.3 787.1 L512.3 787.0 L513.3 787.0 L514.3 786.9 L515.3 786.9 L516.3 786.6 L517.3 785.7 L518.3 785.1 L519.3 785.1 L520.3 784.8 L521.3 784.5 L522.3 784.2 L523.3 784.5 L524.3 784.9 L525.3 784.5 L526.3 784.1 L527.3 783.4 L528.3 782.9 L529.3 782.7 L530.3 782.3 L531.3 782.3 L532.3 782.8 L533.3 782.9 L534.3 782.9 L535.3 783.1 L536.3 782.6 L537.3 781.6 L538.3 781.2 L539.3 781.2 L540.3 781.5 L541.3 781.1 L542.3 780.1 L543.3 779.9 L544.3 780.4 L545.3 780.5 L546.3 779.4 L547.3 778.8 L548.3 779.8 L549.3 780.3 L550.3 779.7 L551.3 779.4 L552.3 779.5 L553.3 779.2 L554.3 778.5 L555.3 777.0 L556.3 776.0 L557.3 776.2 L558.3 777.1 L559.3 777.6 L560.3 777.2 L561.3 776.9 L562.3 776.5 L562.4 776.4 L563.3 777.0 L564.3 777.3 L565.3 776.5 L566.3 776.0 L567.3 775.8 L568.3 775.6 L569.3 775.3 L570.3 774.4 L571.3 774.0 L572.3 774.4 L573.3 774.8 L574.3 775.3 L575.3 775.2 L576.3 774.6 L577.3 773.5 L578.3 772.6 L579.3 772.5 L580.3 773.0 L581.3 773.2 L582.3 773.0 L583.3 772.5 L584.3 771.9 L585.3 771.6 L586.3 771.3 L587.3 770.7 L588.3 770.6 L589.3 770.7 L590.3 770.7 L591.3 770.5 L592.3 770.4 L593.3 770.6 L594.3 770.7 L595.3 770.4 L596.3 769.8 L597.3 769.7 L598.3 769.9 L599.3 769.7 L600.3 769.3 L601.3 768.9 L602.3 768.5 L603.3 768.5 L604.3 768.3 L605.3 767.8 L606.3 767.7 L607.3 768.2 L608.3 768.5 L609.3 768.4 L610.3 767.9 L611.3 767.8 L612.3 767.9 L612.8 767.9 L613.3 768.0 L614.3 768.7 L615.3 769.0 L616.3 768.4 L617.3 768.3 L618.3 769.0 L619.3 768.9 L620.3 768.2 L621.3 768.4 L622.3 769.1 L623.3 769.1 L624.3 769.0 L625.3 769.4 L626.3 769.9 L627.3 770.6 L627.3 770.6 L628.3 770.4 L629.3 771.2 L630.3 773.2 L631.3 775.5 L632.3 777.8 L633.3 779.8 L634.3 780.8 L634.5 780.3 L635.3 778.6 L636.3 777.2 L637.3 776.1 L638.3 774.6 L639.3 772.7 L640.3 771.4 L641.3 770.6 L641.7 769.7 L642.3 768.5 L643.3 768.5 L644.3 769.1 L645.3 769.0 L646.3 768.5 L647.3 768.3 L648.3 767.7 L649.3 767.4 L650.3 768.0 L651.3 767.8 L652.3 767.5 L653.3 767.4 L654.3 767.1 L655.3 767.0 L656.3 767.0 L657.3 766.9 L658.3 767.0 L659.3 766.9 L660.3 767.1 L661.3 767.6 L662.3 767.6 L663.3 766.8 L663.3 766.7 L664.3 767.3 L665.3 766.9 L666.3 766.0 L667.3 765.4 L668.3 765.0 L669.3 764.8 L670.3 764.9 L671.3 765.1 L672.3 765.6 L673.3 766.0 L674.3 765.5 L675.3 764.9 L676.3 765.2 L677.3 765.5 L678.3 764.9 L679.3 764.4 L680.3 764.4 L681.3 764.1 L682.3 764.2 L683.3 764.8 L684.3 765.3 L684.9 764.9 L685.3 764.4 L686.3 764.1 L687.3 763.6 L688.3 763.4 L689.3 763.3 L690.3 763.2 L691.3 763.2 L692.3 763.2 L693.3 762.6 L694.3 762.2 L695.3 762.7 L696.3 762.7 L697.3 761.9 L697.3 761.8 L698.3 761.6 L699.3 761.1 L700.3 761.3 L701.3 761.4 L702.3 760.8 L703.3 760.2 L704.3 760.0 L705.3 760.8 L706.3 761.3 L707.3 761.0 L708.3 760.8 L709.3 760.7 L710.3 760.7 L711.3 760.4 L712.3 760.5 L713.3 760.7 L714.3 760.6 L715.3 760.4 L716.3 760.1 L717.3 759.9 L718.3 759.5 L719.3 759.6 L720.3 760.1 L721.3 759.8 L722.3 758.9 L723.3 758.9 L724.3 759.3 L725.3 759.3 L726.3 758.9 L727.3 758.5 L728.3 758.2 L729.3 757.7 L730.3 757.7 L731.3 758.6 L732.3 758.9 L733.3 758.1 L734.3 757.8 L735.3 758.3 L736.3 759.0 L737.3 759.0 L738.3 757.6 L739.3 757.1 L740.3 757.6 L741.3 757.6 L742.3 757.4 L743.3 757.7 L744.3 757.8 L745.3 757.6 L746.3 757.1 L747.3 756.8 L748.3 757.0 L749.3 757.0 L750.3 756.8 L751.3 757.0 L752.3 757.2 L753.3 756.7 L754.3 756.2 L755.3 756.5 L756.3 756.7 L757.3 756.4 L758.3 755.8 L759.3 755.0 L760.3 754.3 L761.3 754.5 L762.3 755.6 L763.3 756.0 L764.3 755.7 L765.3 755.7 L766.3 755.5 L767.3 755.2 L768.3 754.9 L769.3 754.8 L770.3 754.8 L771.3 754.1 L772.3 754.0 L773.3 754.2 L774.3 753.6 L774.8 753.9 L775.3 754.7 L776.3 754.5 L777.3 754.4 L778.3 754.8 L779.3 754.4 L780.3 753.8 L781.3 753.7 L782.3 753.2 L783.3 752.6 L784.3 752.6 L785.3 752.6 L786.3 753.1 L787.3 753.5 L788.3 753.3 L789.3 752.9 L790.3 752.4 L791.3 751.9 L792.3 751.5 L793.3 751.4 L794.3 751.9 L795.3 752.2 L796.3 752.2 L797.3 752.2 L798.3 751.7 L799.3 751.4 L800.3 751.9 L801.3 751.7 L802.3 750.8 L803.3 750.3 L804.3 750.0 L805.3 750.4 L806.3 751.0 L807.3 750.5 L808.3 750.2 L809.3 750.3 L810.3 750.1 L811.3 749.8 L812.3 749.6 L813.3 749.9 L814.3 749.7 L815.3 749.1 L816.3 749.5 L817.3 749.2 L818.3 748.3 L819.3 748.5 L820.3 749.4 L821.3 750.2 L822.3 750.0 L823.3 749.0 L824.3 748.8 L825.3 750.0 L826.3 750.2 L827.3 749.2 L828.3 748.6 L829.3 748.8 L830.3 748.2 L831.3 747.8 L832.3 748.2 L833.3 748.3 L834.3 748.0 L835.3 747.9 L836.3 748.2 L837.3 747.9 L838.3 747.0 L839.3 746.8 L840.3 746.7 L841.3 746.9 L842.3 747.0 L843.3 746.7 L844.3 746.7 L845.3 746.6 L846.3 746.6 L847.3 746.6 L848.3 745.9 L849.3 745.7 L850.3 746.4 L851.3 746.4 L852.3 745.9 L852.3 745.5 L853.3 745.1 L854.3 745.6 L855.3 746.3 L856.3 746.1 L857.3 745.8 L858.3 745.6 L859.3 745.7 L860.3 746.0 L861.3 745.6 L862.3 745.0 L863.3 744.5 L864.3 744.3 L865.3 744.5 L866.3 744.5 L867.3 744.4 L868.3 744.7 L869.3 744.6 L870.3 743.9 L871.3 744.0 L872.3 744.2 L873.3 744.0 L874.3 744.0 L875.3 744.1 L876.3 744.2 L877.3 744.3 L878.3 744.2 L879.3 743.7 L880.3 743.8 L881.3 744.1 L882.3 744.4 L883.3 744.6 L884.3 744.3 L885.3 743.6 L886.3 743.3 L887.3 743.3 L888.3 743.1 L889.3 742.6 L890.3 741.9 L891.3 742.1 L892.3 743.6 L893.3 743.8 L894.3 742.8 L895.3 742.1 L896.3 741.9 L897.3 742.3 L898.3 742.4 L899.3 742.0 L900.3 741.9 L901.3 741.7 L902.3 741.7 L903.3 742.1 L904.3 742.1 L905.3 741.8 L906.3 741.8 L906.4 741.9 L907.3 741.3 L908.3 741.2 L909.3 741.6 L910.3 741.5 L911.3 741.3 L912.3 741.3 L913.3 741.7 L914.3 742.1 L915.3 741.8 L916.3 740.9 L917.3 741.1 L918.3 741.4 L919.3 740.9 L920.3 741.1 L921.3 741.3 L922.3 741.3 L923.3 741.9 L924.3 742.4 L925.3 742.0 L926.3 741.3 L927.3 740.8 L928.3 740.0 L929.3 740.1 L930.3 740.6 L931.3 740.9 L932.3 740.9 L933.3 740.4 L934.3 740.8 L935.3 741.2 L936.3 740.8 L937.3 740.1 L938.3 740.0 L939.3 740.5 L940.3 740.4 L941.3 739.8 L942.3 739.7 L943.3 740.4 L944.3 740.7 L945.3 740.9 L946.3 741.2 L947.3 740.9 L948.3 740.3 L949.3 740.1 L950.3 740.3 L951.3 740.2 L952.3 739.8 L953.3 739.6 L954.3 740.0 L955.3 739.9 L956.3 739.6 L957.3 740.3 L958.3 740.5 L959.3 740.1 L960.3 740.0 L960.5 740.0 L961.3 740.1 L962.3 740.1 L963.3 739.4 L964.3 739.2 L965.3 739.6 L966.3 740.0 L967.3 740.1 L968.3 739.7 L969.3 739.6 L970.3 740.0 L971.3 740.2 L972.3 740.4 L973.3 740.1 L974.3 739.7 L975.3 740.0 L976.3 740.2 L977.3 740.1 L978.3 740.0 L979.3 740.0 L980.3 740.0 L981.3 740.1 L982.3 740.4 L983.3 740.4 L984.3 740.2 L985.3 740.7 L986.3 741.1 L987.3 740.3 L988.3 739.8 L989.3 740.4 L990.3 740.7 L991.3 740.6 L992.3 740.1 L993.3 739.7 L994.3 740.4 L995.3 740.7 L996.3 740.4 L997.3 740.6 L998.3 740.6 L999.3 740.0 L1000.3 739.3 L1001.3 739.5 L1002.3 740.5 L1003.3 741.5 L1004.3 741.8 L1005.3 741.4 L1006.3 741.3 L1007.3 741.4 L1008.3 741.1 L1009.3 740.5 L1010.3 740.1 L1011.3 740.4 L1012.3 740.8 L1013.3 740.9 L1014.3 741.5 L1015.3 742.2 L1016.3 741.7 L1017.3 740.6 L1018.3 740.0 L1019.3 739.9 L1020.3 740.2 L1021.3 740.7 L1022.3 741.3 L1023.3 741.9 L1024.3 741.9 L1025.3 741.9 L1026.3 742.2 L1027.3 742.1 L1028.3 741.5 L1029.3 741.3 L1030.3 741.5 L1031.3 741.2 L1032.3 740.7 L1033.3 741.1 L1034.3 741.6 L1035.3 741.9 L1036.3 742.4 L1037.3 743.0 L1038.3 743.0 L1039.3 741.9 L1040.3 740.9 L1041.3 741.1 L1042.3 741.5 L1043.3 742.0 L1044.3 742.8 L1045.3 742.6 L1046.3 741.4 L1047.3 741.4 L1048.3 742.5 L1049.3 743.4 L1050.3 743.5 L1051.3 743.4 L1052.3 742.8 L1053.3 742.1 L1054.3 742.6 L1055.3 743.0 L1056.3 742.6 L1057.3 742.8 L1058.3 743.4 L1059.3 742.6 L1060.3 742.0 L1061.3 743.1 L1062.3 744.1 L1063.3 744.6 L1064.3 744.2 L1065.3 744.0 L1066.3 744.3 L1067.3 742.7 L1068.3 739.0 L1069.3 736.1 L1070.3 733.5 L1071.3 734.1 L1072.3 734.8 L1073.3 733.8 L1074.3 734.1 L1075.3 735.2 L1076.3 734.9 L1077.3 734.9 L1078.3 734.9 L1079.3 734.5 L1080.3 735.1 L1081.3 736.3 L1082.3 736.5 L1083.3 735.8 L1084.3 735.7 L1085.3 735.8 L1086.3 735.9 L1087.3 736.1 L1088.3 735.4 L1089.3 733.7 L1090.3 733.8 L1091.3 735.5 L1092.3 736.2 L1093.3 736.6 L1094.3 737.4 L1095.3 737.6 L1096.3 737.3 L1097.3 736.8 L1098.3 737.3 L1099.3 737.6 L1100.3 737.0 L1101.3 736.9 L1102.3 737.1 L1103.3 736.8 L1104.3 736.4 L1105.3 736.6 L1106.3 736.3 L1107.3 735.9 L1108.3 737.4 L1109.3 738.6 L1110.3 737.9 L1111.3 737.4 L1112.3 737.5 L1113.3 736.1 L1114.3 735.9 L1115.3 738.3 L1116.3 739.4 L1117.3 739.2 L1118.3 738.9 L1119.3 738.8 L1120.3 737.7 L1121.3 736.1 L1122.3 737.0 L1123.3 737.4 L1124.3 736.6 L1125.3 737.6 L1126.3 739.1 L1127.3 739.0 L1128.3 738.5 L1129.3 739.1 L1130.3 738.5 L1131.3 737.4 L1132.3 738.7 L1133.3 739.3 L1134.3 738.5 L1135.3 739.2 L1136.3 740.5 L1137.3 740.2 L1138.3 739.3 L1139.3 739.2 L1140.3 740.1 L1141.3 740.5 L1142.3 739.1 L1143.3 738.8 L1144.3 740.1 L1145.3 739.5 L1146.3 738.4 L1147.3 739.9 L1148.3 741.5 L1149.3 740.4 L1150.3 739.2 L1151.3 738.8 L1152.3 738.7 L1153.3 739.3 L1154.3 740.7 L1155.3 741.9 L1156.3 741.0 L1157.3 739.3 L1158.3 738.9 L1159.3 739.4 L1160.3 740.3 L1161.3 740.1 L1162.3 739.4 L1163.3 740.2 L1164.3 741.2 L1165.3 741.8 L1166.3 741.5 L1167.3 739.6 L1168.3 738.4 L1169.3 738.8 L1170.3 740.0 L1171.3 741.3 L1172.3 741.1 L1173.3 739.5 L1174.3 738.7 L1175.3 739.4 L1176.3 739.4 L1176.8 739.0 L1177.3 739.1 L1178.3 738.4 L1179.3 738.3 L1180.3 739.4 L1181.3 740.0 L1182.3 739.9 L1183.3 739.2 L1184.3 738.5 L1185.3 738.0 L1186.3 737.7 L1187.3 738.0 L1188.3 739.0 L1189.3 739.3 L1190.3 739.3 L1191.3 739.6 L1192.3 739.3 L1193.3 739.1 L1194.3 739.1 L1195.3 738.4 L1196.3 738.5 L1197.3 739.1 L1198.3 739.2 L1199.3 739.7 L1200.0 739.2 L1200.3 739.0 L1201.3 740.7 L1202.3 740.8 L1203.3 739.3 L1204.3 739.1 L1205.3 739.8 L1206.3 740.0 L1207.3 739.5 L1208.3 738.5 L1209.3 738.7 L1210.3 739.5 L1211.3 740.1 L1212.3 740.6 L1213.3 740.5 L1214.3 739.8 L1215.3 739.5 L1216.3 739.5 L1217.3 739.2 L1218.3 738.9 L1219.3 738.6 L1220.3 738.5 L1221.3 738.6 L1222.3 738.6 L1223.3 738.9 L1224.3 739.1 L1225.3 739.2 L1226.3 739.5 L1227.3 739.1 L1228.3 738.3 L1229.3 738.2 L1230.3 738.8 L1231.3 739.0 L1232.3 738.8 L1233.3 738.7 L1234.3 738.7 L1235.3 738.6 L1236.3 738.8 L1237.3 738.5 L1238.3 737.7 L1239.3 738.2 L1240.3 739.5 L1241.3 739.9 L1242.3 739.9 L1243.3 739.9 L1244.3 740.0 L1245.3 739.9 L1246.3 739.8 L1247.3 739.9 L1248.3 738.9 L1249.3 738.1 L1250.3 738.5 L1251.3 738.5 L1252.3 738.5 L1253.3 738.8 L1254.3 739.1 L1255.3 739.6 L1256.3 739.5 L1257.3 739.4 L1258.3 739.4 L1259.3 739.2 L1260.3 738.1 L1261.3 737.4 L1262.3 737.8 L1263.3 738.0 L1264.3 738.0 L1265.3 738.1 L1266.3 737.8 L1267.3 738.6 L1268.3 739.6 L1269.3 739.5 L1270.3 738.8 L1271.3 738.3 L1272.3 738.6 L1273.3 738.6 L1274.3 738.4 L1275.3 738.9 L1276.3 739.2 L1277.3 738.6 L1278.3 738.3 L1279.3 738.3 L1280.3 738.3 L1281.3 738.4 L1282.3 738.7 L1283.3 739.0 L1284.0 739.0 L1284.3 739.0 L1285.3 738.8 L1286.3 738.3 L1287.3 738.7 L1288.3 739.2 L1289.3 739.5 L1290.3 739.9 L1291.3 739.6 L1292.3 739.3 L1293.3 739.4 L1294.3 739.4 L1295.3 740.0 L1296.3 741.0 L1297.3 741.7 L1298.3 742.2 L1299.3 742.2 L1299.8 742.0 L1300.3 742.2 L1301.3 742.9 L1302.3 743.8 L1303.3 744.6 L1304.3 745.0 L1305.3 745.3 L1306.3 746.5 L1307.3 747.4 L1308.3 747.5 L1309.3 748.1 L1310.3 749.2 L1311.3 750.2 L1312.3 751.0 L1312.9 750.9 L1313.3 750.9 L1314.3 751.4 L1315.3 751.9 L1316.3 753.0 L1317.3 754.2 L1318.3 755.1 L1319.3 756.0 L1320.3 756.9 L1321.3 757.6 L1322.3 758.0 L1323.3 758.1 L1324.3 758.3 L1325.3 758.8 L1326.1 759.8 L1326.3 759.7 L1327.3 760.3 L1328.3 762.0 L1329.3 762.4 L1330.3 761.9 L1331.3 762.8 L1332.3 764.3 L1333.3 764.9 L1334.3 764.7 L1335.3 764.8 L1336.3 765.8 L1337.3 766.2 L1338.3 765.6 L1339.2 765.1 L1339.3 765.1 L1340.3 765.4 L1341.3 765.5 L1342.3 765.3 L1343.3 765.0 L1344.3 764.9 L1345.3 764.5 L1346.3 763.5 L1347.3 763.4 L1348.3 763.5 L1349.3 762.8 L1350.3 762.4 L1351.0 762.1 L1351.3 761.4 L1352.3 760.8 L1353.3 760.5 L1354.3 759.5 L1355.3 758.2 L1356.3 757.4 L1357.3 757.1 L1358.3 756.8 L1359.3 756.0 L1360.3 755.1 L1361.3 754.6 L1362.3 754.4 L1362.8 753.9 L1363.3 753.4 L1364.3 753.6 L1365.3 753.7 L1366.3 752.9 L1367.3 751.5 L1368.3 750.9 L1369.3 751.5 L1370.3 751.5 L1371.3 750.7 L1372.3 750.0 L1373.3 749.6 L1374.3 749.3 L1375.3 748.8 L1376.3 748.5 L1377.3 748.8 L1378.3 748.9 L1378.6 748.6 L1379.3 748.6 L1380.3 748.7 L1381.3 748.4 L1382.3 748.1 L1383.3 748.3 L1384.3 749.2 L1385.3 749.3 L1386.3 748.7 L1387.3 749.0 L1388.3 749.6 L1389.3 749.6 L1390.3 748.9 L1391.3 748.0 L1392.3 748.0 L1393.3 749.1 L1394.3 749.6 L1394.3 749.9 L1395.3 750.1 L1396.3 749.3 L1397.3 749.0 L1398.3 749.3 L1399.3 749.9 L1400.3 750.4 L1401.3 750.9 L1402.3 751.4 L1403.3 751.9 L1404.3 752.9 L1405.3 753.8 L1406.3 754.4 L1407.3 755.1 L1407.5 755.2 L1408.3 755.7 L1409.3 756.1 L1410.3 756.5 L1411.3 757.5 L1412.3 758.7 L1413.3 759.2 L1414.3 760.0 L1415.3 760.8 L1416.3 761.3 L1417.3 762.9 L1418.3 764.4 L1419.3 764.9 L1420.3 765.3 L1420.6 765.3 L1421.3 765.5 L1422.3 766.2 L1423.3 767.3 L1424.3 768.1 L1425.3 768.8 L1426.3 769.8 L1427.3 770.5 L1428.3 770.8 L1429.3 771.6 L1430.3 772.5 L1431.3 772.7 L1432.3 772.8 L1433.3 773.3 L1433.7 773.4 L1434.3 773.2 L1435.3 773.2 L1436.3 773.4 L1437.3 773.0 L1438.3 772.1 L1439.3 771.5 L1440.3 771.4 L1441.3 771.1 L1442.3 770.6 L1443.3 770.3 L1444.3 770.1 L1445.3 770.6 L1445.5 770.8 L1446.3 770.7 L1447.3 770.7 L1448.3 771.0 L1449.3 771.7 L1450.3 771.9 L1451.3 772.1 L1452.3 773.5 L1453.3 774.1 L1454.3 774.7 L1455.3 775.4 L1456.3 774.7 L1457.3 774.7 L1458.3 775.4 L1459.3 775.8 L1460.3 776.5 L1461.3 776.6 L1462.3 776.2 L1462.6 776.3 L1463.3 776.2 L1464.3 775.9 L1465.3 776.2 L1466.3 776.1 L1467.3 775.3 L1468.3 774.4 L1469.3 773.6 L1470.3 774.0 L1471.3 774.9 L1472.3 774.5 L1473.1 773.2 L1473.3 772.6 L1474.3 773.4 L1475.3 774.4 L1476.3 775.2 L1477.3 776.6 L1478.3 777.2 L1479.3 777.4 L1479.7 777.5 L1480.3 776.9 L1481.3 775.9 L1482.3 775.6 L1483.3 775.0 L1484.3 773.6 L1485.3 772.2 L1486.2 771.4 L1486.3 771.3 L1487.3 768.9 L1488.3 766.1 L1489.3 762.8 L1490.3 759.5 L1491.3 757.3 L1491.5 757.4 L1492.3 756.6 L1493.3 755.3 L1494.3 753.5 L1495.3 751.9 L1496.3 750.8 L1497.3 749.6 L1498.3 748.7 L1499.3 748.2 L1499.4 748.1 L1500.3 747.5 L1501.3 746.9 L1502.3 746.6 L1503.3 746.6 L1504.3 746.7 L1505.3 746.1 L1506.3 745.5 L1507.3 746.0 L1508.3 745.8 L1508.6 744.9 L1509.3 745.1 L1510.3 745.4 L1511.3 745.1 L1512.3 744.5 L1513.3 744.1 L1514.3 745.1 L1515.3 746.2 L1516.3 746.3 L1517.3 745.9 L1518.3 745.8 L1519.3 746.3 L1520.3 746.6 L1521.3 746.7 L1522.3 746.4 L1523.0 746.4 L1523.3 747.0 L1524.3 746.7 L1525.3 745.0 L1526.3 744.2 L1527.3 744.7 L1528.3 744.5 L1529.3 743.6 L1530.3 742.8 L1531.3 742.4 L1532.3 742.1 L1533.3 741.9 L1533.5 742.0 L1534.3 741.8 L1535.3 741.7 L1536.3 741.8 L1537.3 741.6 L1538.3 741.1 L1539.3 741.3 L1540.3 741.2 L1541.3 740.3 L1542.3 740.5 L1543.3 741.8 L1544.3 741.7 L1545.3 740.7 L1546.3 740.7 L1547.3 741.6 L1548.3 741.5 L1549.3 741.0 L1550.3 741.3 L1551.3 741.9 L1551.9 742.4 L1552.3 742.0 L1553.3 741.5 L1554.3 741.9 L1555.3 742.0 L1556.3 741.8 L1557.3 742.5 L1558.3 744.0 L1559.3 744.6 L1560.3 744.7 L1561.3 745.3 L1562.3 745.7 L1563.3 746.1 L1564.3 747.5 L1565.0 748.4 L1565.3 748.5 L1566.3 749.3 L1567.3 749.7 L1568.3 749.7 L1569.3 750.1 L1570.3 751.4 L1571.3 752.5 L1572.3 753.3 L1573.3 754.2 L1574.3 755.6 L1575.3 757.8 L1575.5 758.2 L1576.3 759.0 L1577.3 759.9 L1578.3 761.4 L1579.3 763.1 L1580.3 764.4 L1581.3 766.1 L1582.3 767.9 L1583.3 769.5 L1584.3 771.5 L1585.3 774.6 L1586.0 776.9 L1586.3 777.3 L1587.3 779.4 L1588.3 782.5 L1589.3 786.2 L1590.3 789.6 L1591.3 792.8 L1592.3 795.8 L1592.6 796.6 L1593.3 799.1 L1594.3 802.6 L1595.3 805.6 L1596.3 808.0 L1596.5 807.9 L1597.3 809.0 L1598.3 810.9 L1599.3 812.3 L1600.3 813.7 L1601.3 815.0 L1602.3 815.6 L1603.3 816.1 L1604.3 817.8 L1604.4 818.4 L1605.3 820.0 L1606.3 822.1 L1607.3 825.0 L1608.3 828.1 L1609.3 831.3 L1610.3 834.5 L1611.3 838.0 L1612.3 841.2 L1613.3 844.0 L1614.3 847.6 L1614.9 850.0 L1615.3 851.4 L1616.3 854.7 L1617.3 857.6 L1618.3 860.3 L1619.3 863.8 L1620.3 867.3 L1621.3 869.9 L1622.3 872.4 L1623.3 875.5 L1624.3 878.2 L1625.3 880.3 L1625.4 880.6 L1626.3 883.7 L1627.3 886.5 L1628.3 888.5 L1629.3 890.8 L1630.3 893.7 L1631.3 895.7 L1632.3 897.5 L1633.3 900.3 L1634.3 903.0 L1635.3 904.3 L1636.3 905.4 L1637.3 907.2 L1638.3 909.8 L1639.3 912.6 L1640.3 915.4 L1641.3 917.9 L1642.3 920.4 L1643.3 923.8 L1644.2 927.1 L1644.3 926.9 L1645.3 929.6 L1646.3 933.8 L1647.3 938.0 L1648.3 942.6 L1649.3 947.7 L1650.3 952.4 L1651.3 956.9 L1652.1 960.4 L1652.3 961.8 L1653.3 967.1 L1654.3 973.2 L1655.3 979.5 L1656.3 985.2 L1657.3 990.7 L1658.3 995.8 L1658.6 997.0 L1659.3 1000.5 L1660.3 1005.2 L1661.3 1009.1 L1662.3 1012.7 L1663.3 1016.6 L1664.3 1020.4 L1665.3 1024.3 L1666.3 1028.5 L1667.3 1032.6 L1668.3 1036.2 L1669.3 1039.5 L1670.3 1043.3 L1670.4 1044.2 L1671.3 1048.2 L1672.3 1051.8 L1673.3 1056.2 L1674.3 1061.1 L1675.3 1065.1 L1676.3 1069.8 L1677.3 1074.6 L1678.3 1078.7 L1679.3 1082.7 L1680.3 1087.1 L1681.3 1092.7 L1682.3 1098.1 L1683.3 1101.8 L1683.6 1101.9 L1684.3 1105.2 L1685.3 1109.7 L1686.3 1113.7 L1687.3 1118.1 L1688.3 1122.8 L1689.3 1127.9 L1690.3 1133.0 L1691.3 1137.4 L1692.3 1141.6 L1693.3 1146.1 L1694.3 1150.9 L1695.3 1155.9 L1696.3 1160.5 L1696.7 1162.4 L1697.3 1165.7 L1698.3 1170.8 L1699.3 1176.8 L1700.3 1183.3 L1701.3 1190.0 L1702.3 1196.4 L1703.3 1202.3 L1704.3 1208.5 L1704.6 1210.5 L1705.3 1215.2 L1706.3 1221.9 L1707.3 1228.2 L1708.3 1233.3 L1709.3 1237.3 L1709.8 1238.9 L1710.3 1239.9 L1711.3 1241.6 L1711.9 1242.1 L1712.3 1242.9 L1713.3 1241.7 L1714.3 1237.7 L1715.3 1233.0 L1716.3 1228.8 L1717.3 1224.8 L1717.7 1223.6 L1718.3 1221.2 L1719.3 1216.5 L1720.3 1211.7 L1721.3 1206.7 L1722.3 1201.9 L1723.0 1199.3 L1723.3 1197.8 L1724.3 1193.1 L1725.3 1189.0 L1726.3 1185.7 L1727.3 1181.7 L1728.2 1178.5 L1728.3 1178.6 L1729.3 1176.8 L1730.3 1174.7 L1731.3 1172.9 L1732.3 1170.7 L1733.3 1169.2 L1734.3 1168.5 L1735.3 1167.1 L1736.1 1165.6 L1736.3 1164.9 L1737.3 1162.2 L1738.3 1159.2 L1739.3 1156.1 L1740.3 1153.1 L1741.3 1149.7 L1741.3 1149.8 L1742.3 1145.6 L1743.3 1140.6 L1744.3 1135.8 L1745.3 1130.9 L1746.3 1125.9 L1746.6 1124.5 L1747.3 1119.8 L1748.3 1112.6 L1749.3 1104.9 L1750.3 1098.0 L1751.3 1091.7 L1751.8 1088.4 L1752.3 1085.9 L1753.3 1080.2 L1754.3 1073.7 L1755.3 1068.1 L1756.3 1064.0 L1757.1 1060.9 L1757.3 1060.0 L1758.3 1056.3 L1759.3 1051.8 L1760.3 1047.7 L1761.3 1044.7 L1762.3 1041.5 L1763.3 1038.6 L1764.3 1035.7 L1765.0 1033.8 L1765.3 1033.1 L1766.3 1030.3 L1767.3 1027.2 L1768.3 1024.6 L1769.3 1022.0 L1770.3 1019.6 L1771.3 1018.3 L1772.3 1016.6 L1772.8 1015.1 L1773.3 1014.6 L1774.3 1013.2 L1775.3 1011.7 L1776.3 1010.4 L1777.3 1008.9 L1778.3 1007.5 L1779.3 1005.3 L1779.4 1004.4 L1780.3 1003.3 L1781.3 1002.0 L1782.3 1000.1 L1783.3 998.5 L1783.4 997.8 L1784.3 997.7 L1785.3 999.1 L1786.3 1001.2 L1787.3 1002.1 L1788.3 1002.6 L1789.3 1004.0 L1790.3 1005.0 L1791.2 1005.2 L1791.3 1005.7 L1792.3 1004.8 L1793.3 1001.9 L1794.3 999.1 L1795.3 997.2 L1796.3 996.4 L1796.5 996.4 L1797.3 996.4 L1798.3 996.9 L1799.3 998.2 L1800.3 999.7 L1801.3 1000.0 L1801.7 999.4 L1802.3 999.3 L1803.3 999.0 L1804.3 997.8 L1805.3 996.6 L1806.3 995.1 L1807.3 993.2 L1808.3 993.0 L1808.3 994.0 L1809.3 994.4 L1810.3 993.9 L1811.3 994.5 L1812.3 996.5 L1813.3 997.3 L1814.3 998.2 L1815.3 999.9 L1816.3 1000.9 L1817.3 1001.9 L1817.5 1002.2 L1818.3 1002.9 L1819.3 1004.4 L1820.3 1006.3 L1821.3 1007.8 L1822.3 1008.7 L1823.3 1009.6 L1824.3 1011.2 L1825.3 1012.7 L1826.3 1013.6 L1827.3 1014.8 L1828.0 1015.6 L1828.3 1015.7 L1829.3 1016.5 L1830.3 1017.2 L1831.3 1018.4 L1832.3 1019.9 L1833.3 1021.1 L1834.3 1022.2 L1835.3 1022.5 L1835.9 1022.3 L1836.3 1022.0 L1837.3 1021.6 L1838.3 1021.9 L1839.3 1022.4 L1840.3 1022.8 L1841.1 1024.0 L1841.3 1024.3 L1842.3 1024.2 L1843.3 1024.8 L1844.3 1025.2 L1845.3 1025.8 L1846.3 1027.7 L1847.3 1029.2 L1848.3 1030.2 L1849.3 1031.1 L1850.3 1032.2 L1851.3 1033.7 L1851.6 1033.9 L1852.3 1034.8 L1853.3 1036.1 L1854.3 1036.7 L1855.3 1037.2 L1856.3 1037.9 L1857.3 1039.1 L1858.3 1040.3 L1859.3 1041.0 L1860.3 1041.7 L1861.3 1042.4 L1862.3 1043.0 L1863.3 1043.5 L1864.3 1044.4 L1864.8 1045.4 L1865.3 1045.7 L1866.3 1045.9 L1867.3 1046.5 L1868.3 1047.0 L1869.3 1047.3 L1870.3 1047.9 L1871.3 1048.5 L1872.3 1048.5 L1872.6 1048.2 L1873.3 1048.8 L1874.3 1049.6 L1875.3 1049.9 L1876.3 1050.2 L1877.3 1050.3 L1878.3 1050.6 L1879.3 1051.5 L1880.3 1052.3 L1881.3 1052.4 L1882.3 1052.3 L1883.3 1052.5 L1884.3 1053.5 L1885.3 1054.7 L1885.8 1055.2 L1886.3 1055.4 L1887.3 1055.7 L1888.3 1056.3 L1889.3 1057.5 L1890.3 1058.3 L1891.3 1058.2 L1892.3 1059.1 L1893.3 1060.8 L1894.3 1061.9 L1895.3 1062.9 L1896.3 1063.3 L1897.3 1063.2 L1898.3 1064.1 L1898.9 1065.5 L1899.3 1066.6 L1900.3 1066.8 L1901.3 1067.1 L1902.3 1068.4 L1903.3 1069.3 L1904.3 1070.0 L1905.3 1071.2 L1906.3 1072.1 L1907.3 1072.7 L1908.3 1073.1 L1909.3 1073.5 L1909.4 1073.8 L1910.3 1073.8 L1911.3 1073.4 L1912.3 1073.3 L1913.3 1073.3 L1914.3 1073.5 L1915.3 1074.0 L1916.3 1074.1 L1917.3 1073.3 L1918.3 1072.6 L1919.3 1072.9 L1920.3 1074.0 L1921.3 1074.1 L1922.3 1073.8 L1923.3 1074.2 L1923.8 1074.5 L1924.3 1074.9 L1925.3 1077.1 L1926.3 1080.6 L1927.3 1084.8 L1928.3 1089.2 L1929.1 1092.1 L1929.3 1092.4 L1930.3 1095.6 L1931.3 1098.7 L1932.3 1101.7 L1933.3 1105.9 L1934.3 1110.4 L1935.3 1114.2 L1935.7 1114.8 L1936.3 1116.7 L1937.3 1121.2 L1938.3 1126.3 L1939.3 1130.7 L1940.3 1134.8 L1941.3 1139.4 L1942.2 1144.2 L1942.3 1145.1 L1943.3 1150.9 L1944.3 1157.1 L1945.3 1164.1 L1946.3 1170.8 L1947.3 1177.5 L1948.3 1185.1 L1948.8 1189.1 L1949.3 1193.4 L1950.3 1201.6 L1951.3 1210.9 L1952.3 1221.0 L1953.3 1230.9 L1954.0 1237.1 L1954.3 1238.4 L1955.3 1245.5 L1955.9 1249.8 L1956.3 1253.1 L1957.3 1259.8 L1958.3 1266.7 L1959.3 1273.1 L1959.8 1275.8 L1960.3 1278.8 L1961.3 1283.8 L1962.3 1287.6 L1963.3 1292.6 L1963.8 1295.4 L1964.3 1298.8 L1965.3 1307.5 L1966.3 1316.8 L1967.3 1325.5 L1967.7 1329.0 L1968.3 1333.7 L1969.3 1340.6 L1970.3 1348.4 L1971.3 1356.3 L1972.3 1363.5 L1973.0 1368.1 L1973.3 1370.9 L1974.3 1379.3 L1975.3 1387.6 L1976.3 1395.6 L1976.9 1400.9 L1977.3 1405.8 L1978.3 1416.7 L1979.3 1423.2 L1979.5 1423.0 L1980.3 1422.5 L1981.3 1421.1 L1982.3 1414.8 L1982.4 1416.4 L1983.3 1418.5 L1984.3 1428.4 L1985.3 1425.6 L1985.3 1427.5 L1986.3 1429.8 L1987.3 1411.2 L1988.2 1402.7 L1988.3 1403.4 L1989.3 1407.5 L1990.3 1399.6 L1991.3 1395.0 L1992.3 1383.3 L1992.6 1383.6 L1993.3 1378.8 L1994.3 1386.1 L1995.3 1387.0 L1995.6 1385.6 L1996.3 1382.2 L1997.3 1370.8 L1998.3 1370.6 L1999.3 1381.9 L2000.3 1379.2 L2001.3 1374.5 L2001.4 1375.8 L2002.3 1360.3 L2003.3 1344.9 L2003.6 1337.6"/>
</g>
<text x="855" y="147" fill="#078a5c" style="font-family:'Liberation Serif',serif;font-size:64px" textLength="341" lengthAdjust="spacingAndGlyphs" xml:space="preserve">PWCP30 3d</text>
<text x="855" y="236" fill="#1e3cfa" style="font-family:'Liberation Serif',serif;font-size:64px" textLength="340" lengthAdjust="spacingAndGlyphs" xml:space="preserve">PWCP20 3d</text>
<text x="855" y="320" fill="#ff0000" style="font-family:'Liberation Serif',serif;font-size:64px" textLength="340" lengthAdjust="spacingAndGlyphs" xml:space="preserve">PWCP10 3d</text>
<text x="855" y="412" fill="#000000" style="font-family:'Liberation Serif',serif;font-size:64px" textLength="346" lengthAdjust="spacingAndGlyphs" xml:space="preserve">PWCP 0  3d</text>
<text x="807" y="736" fill="#6e0037" style="font-family:'Liberation Serif',serif;font-size:64px;font-size:67.5px" textLength="377" lengthAdjust="spacingAndGlyphs" xml:space="preserve">PWCP30 28d</text>
<text x="807" y="815" fill="#008080" style="font-family:'Liberation Serif',serif;font-size:64px;font-size:67.5px" textLength="377" lengthAdjust="spacingAndGlyphs" xml:space="preserve">PWCP20 28d</text>
<text x="807" y="898" fill="#a66e0e" style="font-family:'Liberation Serif',serif;font-size:64px;font-size:67.5px" textLength="377" lengthAdjust="spacingAndGlyphs" xml:space="preserve">PWCP10 28d</text>
<text x="805" y="987" fill="#a03cff" style="font-family:'Liberation Serif',serif;font-size:64px;font-size:67.5px" textLength="379" lengthAdjust="spacingAndGlyphs" xml:space="preserve">PWCP 0  28d</text>
<line x1="419.2" y1="1049.0" x2="419.2" y2="188.0" stroke="#111" stroke-width="3.5" stroke-dasharray="10.4 8.9"/>
<line x1="1342.6" y1="1027.0" x2="1342.6" y2="187.0" stroke="#111" stroke-width="3.5" stroke-dasharray="10.4 8.9"/>
<line x1="1462.3" y1="1051.0" x2="1462.3" y2="193.0" stroke="#111" stroke-width="3.5" stroke-dasharray="10.4 8.9"/>
<line x1="1712.4" y1="1494.0" x2="1712.4" y2="597.0" stroke="#111" stroke-width="3.5" stroke-dasharray="10.4 8.9"/>
<text transform="translate(446.5 1267.5) rotate(-90)" fill="#000" style="font-family:'Liberation Serif',serif;font-size:92px;font-size:92px;letter-spacing:-1.2px">3392</text>
<text transform="translate(1368.5 1216.0) rotate(-90)" fill="#000" style="font-family:'Liberation Serif',serif;font-size:92px;font-size:92px;letter-spacing:-1.2px">1648</text>
<text transform="translate(1503.5 1257.5) rotate(-90)" fill="#000" style="font-family:'Liberation Serif',serif;font-size:92px;font-size:92px;letter-spacing:-1.4px">1416</text>
<text transform="translate(1738.0 1677.5) rotate(-90)" fill="#000" style="font-family:'Liberation Serif',serif;font-size:92px;font-size:94px;letter-spacing:-0.8px">946</text>
<rect x="366.3" y="89.4" width="70.1" height="1666.6" fill="rgba(186,186,186,0.376)" stroke="rgba(80,80,80,0.62)" stroke-width="3.1"/>
<rect x="1326.9" y="79.6" width="25.4" height="1676.4" fill="rgba(186,186,186,0.376)" stroke="rgba(80,80,80,0.62)" stroke-width="3.1"/>
<rect x="1442.7" y="80.0" width="46.8" height="1676.0" fill="rgba(186,186,186,0.376)" stroke="rgba(80,80,80,0.62)" stroke-width="3.1"/>
<rect x="1658.5" y="158.3" width="122.1" height="1597.7" fill="rgba(192,192,192,0.494)" stroke="rgba(50,50,50,0.66)" stroke-width="3.1"/>
<rect x="1854.4" y="365.2" width="14.2" height="1390.8" fill="rgba(186,186,186,0.376)" stroke="rgba(80,80,80,0.62)" stroke-width="3.1"/>
<g><text transform="translate(288.61 82.20) scale(0.631 1.000)" style="font-family:'Liberation Serif',serif;font-size:64.6px;font-weight:bold;stroke:#000;stroke-width:1.1;stroke-linejoin:round" vector-effect="non-scaling-stroke">O</text><text transform="translate(317.23 71.60) scale(1.613 0.800)" style="font-family:'Liberation Serif',serif;font-size:64.6px;font-weight:bold;stroke:#000;stroke-width:1.0;stroke-linejoin:round" vector-effect="non-scaling-stroke">-</text><text transform="translate(350.05 82.20) scale(0.621 1.000)" style="font-family:'Liberation Serif',serif;font-size:64.6px;font-weight:bold;stroke:#000;stroke-width:1.1;stroke-linejoin:round" vector-effect="non-scaling-stroke">H</text><text transform="translate(391.22 75.20) scale(0.941 0.930)" style="font-family:'Liberation Serif',serif;font-size:64.6px;stroke:#000;stroke-width:0.9;stroke-linejoin:round" vector-effect="non-scaling-stroke">(</text><text transform="translate(411.67 82.20) scale(0.607 1.000)" style="font-family:'Liberation Serif',serif;font-size:64.6px;font-weight:bold;stroke:#000;stroke-width:1.1;stroke-linejoin:round" vector-effect="non-scaling-stroke">H</text><text transform="translate(443.32 96.80) scale(0.995 1.000)" style="font-family:'Liberation Serif',serif;font-size:42.2px;stroke:#000;stroke-width:0.6;stroke-linejoin:round" vector-effect="non-scaling-stroke">2</text><text transform="translate(463.31 82.20) scale(0.631 1.000)" style="font-family:'Liberation Serif',serif;font-size:64.6px;font-weight:bold;stroke:#000;stroke-width:1.1;stroke-linejoin:round" vector-effect="non-scaling-stroke">O</text><text transform="translate(494.93 75.20) scale(0.941 0.930)" style="font-family:'Liberation Serif',serif;font-size:64.6px;stroke:#000;stroke-width:0.9;stroke-linejoin:round" vector-effect="non-scaling-stroke">)</text></g>
<g><text transform="translate(1204.91 71.10) scale(0.631 1.000)" style="font-family:'Liberation Serif',serif;font-size:64.6px;font-weight:bold;stroke:#000;stroke-width:1.1;stroke-linejoin:round" vector-effect="non-scaling-stroke">O</text><text transform="translate(1233.53 60.50) scale(1.613 0.800)" style="font-family:'Liberation Serif',serif;font-size:64.6px;font-weight:bold;stroke:#000;stroke-width:1.0;stroke-linejoin:round" vector-effect="non-scaling-stroke">-</text><text transform="translate(1266.35 71.10) scale(0.621 1.000)" style="font-family:'Liberation Serif',serif;font-size:64.6px;font-weight:bold;stroke:#000;stroke-width:1.1;stroke-linejoin:round" vector-effect="non-scaling-stroke">H</text><text transform="translate(1307.52 64.10) scale(0.941 0.930)" style="font-family:'Liberation Serif',serif;font-size:64.6px;stroke:#000;stroke-width:0.9;stroke-linejoin:round" vector-effect="non-scaling-stroke">(</text><text transform="translate(1327.97 71.10) scale(0.607 1.000)" style="font-family:'Liberation Serif',serif;font-size:64.6px;font-weight:bold;stroke:#000;stroke-width:1.1;stroke-linejoin:round" vector-effect="non-scaling-stroke">H</text><text transform="translate(1359.62 85.70) scale(0.995 1.000)" style="font-family:'Liberation Serif',serif;font-size:42.2px;stroke:#000;stroke-width:0.6;stroke-linejoin:round" vector-effect="non-scaling-stroke">2</text><text transform="translate(1379.61 71.10) scale(0.631 1.000)" style="font-family:'Liberation Serif',serif;font-size:64.6px;font-weight:bold;stroke:#000;stroke-width:1.1;stroke-linejoin:round" vector-effect="non-scaling-stroke">O</text><text transform="translate(1411.23 64.10) scale(0.941 0.930)" style="font-family:'Liberation Serif',serif;font-size:64.6px;stroke:#000;stroke-width:0.9;stroke-linejoin:round" vector-effect="non-scaling-stroke">)</text></g>
<g><text transform="translate(1440.42 74.90) scale(0.691 1.000)" style="font-family:'Liberation Serif',serif;font-size:64.6px;font-weight:bold;stroke:#000;stroke-width:1.1;stroke-linejoin:round" vector-effect="non-scaling-stroke">C</text><text transform="translate(1469.96 64.30) scale(1.602 0.800)" style="font-family:'Liberation Serif',serif;font-size:64.6px;font-weight:bold;stroke:#000;stroke-width:1.0;stroke-linejoin:round" vector-effect="non-scaling-stroke">-</text><text transform="translate(1501.75 74.90) scale(0.651 1.000)" style="font-family:'Liberation Serif',serif;font-size:64.6px;font-weight:bold;stroke:#000;stroke-width:1.1;stroke-linejoin:round" vector-effect="non-scaling-stroke">O</text></g>
<text x="1570.5" y="148.6" style="font-family:'Liberation Serif',serif;font-size:60px;font-weight:bold;font-size:61.5px" textLength="287.5" lengthAdjust="spacingAndGlyphs">Si-O-Si(Al)</text>
<text x="1802.5" y="343.5" style="font-family:'Liberation Serif',serif;font-size:60px;font-weight:bold;font-size:64px" textLength="121.5" lengthAdjust="spacingAndGlyphs">Si-O</text>
<g stroke="#000" fill="none">
<line x1="84" y1="1755.5" x2="2006" y2="1755.5" stroke-width="6.6"/>
<line x1="88.0" y1="1755.5" x2="88.0" y2="1787" stroke-width="7.9"/>
<line x1="220.9" y1="1755.5" x2="220.9" y2="1771" stroke-width="7.9"/>
<line x1="353.9" y1="1755.5" x2="353.9" y2="1787" stroke-width="7.9"/>
<line x1="486.8" y1="1755.5" x2="486.8" y2="1771" stroke-width="7.9"/>
<line x1="619.8" y1="1755.5" x2="619.8" y2="1787" stroke-width="7.9"/>
<line x1="752.7" y1="1755.5" x2="752.7" y2="1771" stroke-width="7.9"/>
<line x1="885.7" y1="1755.5" x2="885.7" y2="1787" stroke-width="7.9"/>
<line x1="1018.6" y1="1755.5" x2="1018.6" y2="1771" stroke-width="7.9"/>
<line x1="1151.5" y1="1755.5" x2="1151.5" y2="1787" stroke-width="7.9"/>
<line x1="1284.5" y1="1755.5" x2="1284.5" y2="1771" stroke-width="7.9"/>
<line x1="1417.4" y1="1755.5" x2="1417.4" y2="1787" stroke-width="7.9"/>
<line x1="1550.4" y1="1755.5" x2="1550.4" y2="1771" stroke-width="7.9"/>
<line x1="1683.3" y1="1755.5" x2="1683.3" y2="1787" stroke-width="7.9"/>
<line x1="1816.3" y1="1755.5" x2="1816.3" y2="1771" stroke-width="7.9"/>
<line x1="1949.2" y1="1755.5" x2="1949.2" y2="1787" stroke-width="7.9"/>
</g>
<text x="94.5" y="1851" text-anchor="middle" style="font-family:'Liberation Serif',serif;font-size:69.5px">4000</text>
<text x="360.4" y="1851" text-anchor="middle" style="font-family:'Liberation Serif',serif;font-size:69.5px">3500</text>
<text x="626.3" y="1851" text-anchor="middle" style="font-family:'Liberation Serif',serif;font-size:69.5px">3000</text>
<text x="892.2" y="1851" text-anchor="middle" style="font-family:'Liberation Serif',serif;font-size:69.5px">2500</text>
<text x="1158.0" y="1851" text-anchor="middle" style="font-family:'Liberation Serif',serif;font-size:69.5px">2000</text>
<text x="1423.9" y="1851" text-anchor="middle" style="font-family:'Liberation Serif',serif;font-size:69.5px">1500</text>
<text x="1689.8" y="1851" text-anchor="middle" style="font-family:'Liberation Serif',serif;font-size:69.5px">1000</text>
<text x="1951.7" y="1851" text-anchor="middle" style="font-family:'Liberation Serif',serif;font-size:69.5px">500</text>
<text x="630" y="1955" style="font-family:'Liberation Serif',serif;font-size:91.6px;font-weight:bold" xml:space="preserve">Wavenumbers (cm<tspan dy="-34" dx="3">-1</tspan><tspan dy="34" dx="5">)</tspan></text>
</svg>
</body></html>
